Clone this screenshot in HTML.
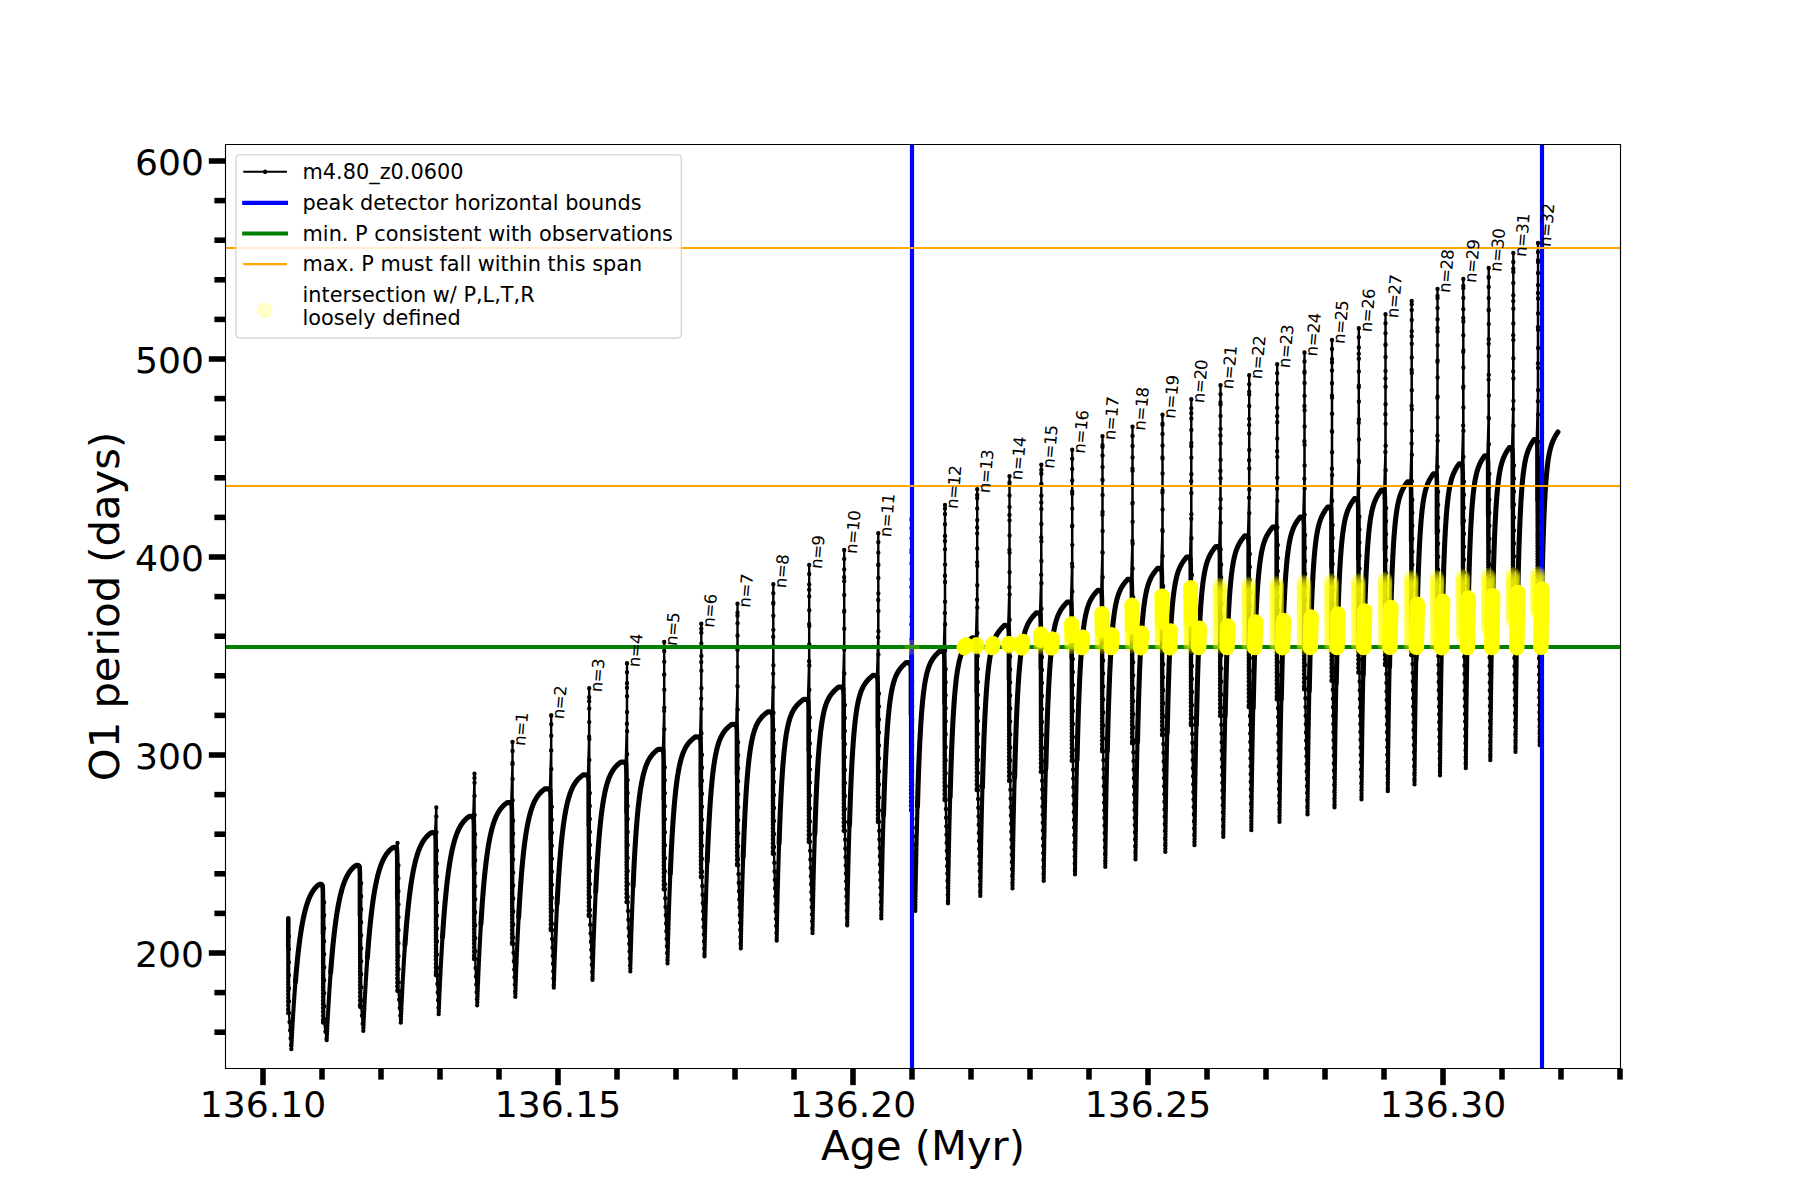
<!DOCTYPE html>
<html><head><meta charset="utf-8"><title>O1 period vs Age</title>
<style>html,body{margin:0;padding:0;background:#fff}svg{display:block}</style></head>
<body>
<svg width="1800" height="1200" viewBox="0 0 1296 864">
<defs>
<style type="text/css">*{stroke-linejoin: round; stroke-linecap: butt}</style>
</defs>
<g id="figure_1">
<g id="patch_1">
<path d="M 0 864 L 1296 864 L 1296 0 L 0 0 z
" style="fill: #ffffff"/>
</g>
<g id="axes_1">
<g id="patch_2">
<path d="M 162.36 769.32 L 1166.76 769.32 L 1166.76 104.04 L 162.36 104.04 z
" style="fill: #ffffff"/>
</g>
<g id="PathCollection_1"/>
<g id="matplotlib.axis_1">
<g id="xtick_1">
<g id="line2d_1">
<g>
<path d="M 0 0 L 0 12" transform="translate(189.36 769.32)" style="stroke: #000000; stroke-width: 4"/>
</g>
</g>
<g id="text_1">
<text style="font-size: 26px; font-family: 'DejaVu Sans', 'Liberation Sans', sans-serif; text-anchor: middle" x="189.36" y="804.575938" transform="rotate(-0 189.36 804.575938)">136.10</text>
</g>
</g>
<g id="xtick_2">
<g id="line2d_2">
<g>
<path d="M 0 0 L 0 12" transform="translate(401.76 769.32)" style="stroke: #000000; stroke-width: 4"/>
</g>
</g>
<g id="text_2">
<text style="font-size: 26px; font-family: 'DejaVu Sans', 'Liberation Sans', sans-serif; text-anchor: middle" x="401.76" y="804.575938" transform="rotate(-0 401.76 804.575938)">136.15</text>
</g>
</g>
<g id="xtick_3">
<g id="line2d_3">
<g>
<path d="M 0 0 L 0 12" transform="translate(614.16 769.32)" style="stroke: #000000; stroke-width: 4"/>
</g>
</g>
<g id="text_3">
<text style="font-size: 26px; font-family: 'DejaVu Sans', 'Liberation Sans', sans-serif; text-anchor: middle" x="614.16" y="804.575938" transform="rotate(-0 614.16 804.575938)">136.20</text>
</g>
</g>
<g id="xtick_4">
<g id="line2d_4">
<g>
<path d="M 0 0 L 0 12" transform="translate(826.56 769.32)" style="stroke: #000000; stroke-width: 4"/>
</g>
</g>
<g id="text_4">
<text style="font-size: 26px; font-family: 'DejaVu Sans', 'Liberation Sans', sans-serif; text-anchor: middle" x="826.56" y="804.575938" transform="rotate(-0 826.56 804.575938)">136.25</text>
</g>
</g>
<g id="xtick_5">
<g id="line2d_5">
<g>
<path d="M 0 0 L 0 12" transform="translate(1038.96 769.32)" style="stroke: #000000; stroke-width: 4"/>
</g>
</g>
<g id="text_5">
<text style="font-size: 26px; font-family: 'DejaVu Sans', 'Liberation Sans', sans-serif; text-anchor: middle" x="1038.96" y="804.575938" transform="rotate(-0 1038.96 804.575938)">136.30</text>
</g>
</g>
<g id="xtick_6">
<g id="line2d_6">
<g>
<path d="M 0 0 L 0 8" transform="translate(231.84 769.32)" style="stroke: #000000; stroke-width: 4"/>
</g>
</g>
</g>
<g id="xtick_7">
<g id="line2d_7">
<g>
<path d="M 0 0 L 0 8" transform="translate(274.32 769.32)" style="stroke: #000000; stroke-width: 4"/>
</g>
</g>
</g>
<g id="xtick_8">
<g id="line2d_8">
<g>
<path d="M 0 0 L 0 8" transform="translate(316.8 769.32)" style="stroke: #000000; stroke-width: 4"/>
</g>
</g>
</g>
<g id="xtick_9">
<g id="line2d_9">
<g>
<path d="M 0 0 L 0 8" transform="translate(359.28 769.32)" style="stroke: #000000; stroke-width: 4"/>
</g>
</g>
</g>
<g id="xtick_10">
<g id="line2d_10">
<g>
<path d="M 0 0 L 0 8" transform="translate(444.24 769.32)" style="stroke: #000000; stroke-width: 4"/>
</g>
</g>
</g>
<g id="xtick_11">
<g id="line2d_11">
<g>
<path d="M 0 0 L 0 8" transform="translate(486.72 769.32)" style="stroke: #000000; stroke-width: 4"/>
</g>
</g>
</g>
<g id="xtick_12">
<g id="line2d_12">
<g>
<path d="M 0 0 L 0 8" transform="translate(529.2 769.32)" style="stroke: #000000; stroke-width: 4"/>
</g>
</g>
</g>
<g id="xtick_13">
<g id="line2d_13">
<g>
<path d="M 0 0 L 0 8" transform="translate(571.68 769.32)" style="stroke: #000000; stroke-width: 4"/>
</g>
</g>
</g>
<g id="xtick_14">
<g id="line2d_14">
<g>
<path d="M 0 0 L 0 8" transform="translate(656.64 769.32)" style="stroke: #000000; stroke-width: 4"/>
</g>
</g>
</g>
<g id="xtick_15">
<g id="line2d_15">
<g>
<path d="M 0 0 L 0 8" transform="translate(699.12 769.32)" style="stroke: #000000; stroke-width: 4"/>
</g>
</g>
</g>
<g id="xtick_16">
<g id="line2d_16">
<g>
<path d="M 0 0 L 0 8" transform="translate(741.6 769.32)" style="stroke: #000000; stroke-width: 4"/>
</g>
</g>
</g>
<g id="xtick_17">
<g id="line2d_17">
<g>
<path d="M 0 0 L 0 8" transform="translate(784.08 769.32)" style="stroke: #000000; stroke-width: 4"/>
</g>
</g>
</g>
<g id="xtick_18">
<g id="line2d_18">
<g>
<path d="M 0 0 L 0 8" transform="translate(869.04 769.32)" style="stroke: #000000; stroke-width: 4"/>
</g>
</g>
</g>
<g id="xtick_19">
<g id="line2d_19">
<g>
<path d="M 0 0 L 0 8" transform="translate(911.52 769.32)" style="stroke: #000000; stroke-width: 4"/>
</g>
</g>
</g>
<g id="xtick_20">
<g id="line2d_20">
<g>
<path d="M 0 0 L 0 8" transform="translate(954 769.32)" style="stroke: #000000; stroke-width: 4"/>
</g>
</g>
</g>
<g id="xtick_21">
<g id="line2d_21">
<g>
<path d="M 0 0 L 0 8" transform="translate(996.48 769.32)" style="stroke: #000000; stroke-width: 4"/>
</g>
</g>
</g>
<g id="xtick_22">
<g id="line2d_22">
<g>
<path d="M 0 0 L 0 8" transform="translate(1081.44 769.32)" style="stroke: #000000; stroke-width: 4"/>
</g>
</g>
</g>
<g id="xtick_23">
<g id="line2d_23">
<g>
<path d="M 0 0 L 0 8" transform="translate(1123.92 769.32)" style="stroke: #000000; stroke-width: 4"/>
</g>
</g>
</g>
<g id="xtick_24">
<g id="line2d_24">
<g>
<path d="M 0 0 L 0 8" transform="translate(1166.4 769.32)" style="stroke: #000000; stroke-width: 4"/>
</g>
</g>
</g>
<g id="text_6">
<text style="font-size: 30px; font-family: 'DejaVu Sans', 'Liberation Sans', sans-serif; text-anchor: middle" x="664.56" y="835.278437" transform="rotate(-0 664.56 835.278437)">Age (Myr)</text>
</g>
</g>
<g id="matplotlib.axis_2">
<g id="ytick_1">
<g id="line2d_25">
<g>
<path d="M 0 0 L -12 0" transform="translate(162.36 686.16)" style="stroke: #000000; stroke-width: 4"/>
</g>
</g>
<g id="text_7">
<text style="font-size: 26px; font-family: 'DejaVu Sans', 'Liberation Sans', sans-serif; text-anchor: end" x="146.86" y="696.037969" transform="rotate(-0 146.86 696.037969)">200</text>
</g>
</g>
<g id="ytick_2">
<g id="line2d_26">
<g>
<path d="M 0 0 L -12 0" transform="translate(162.36 543.6)" style="stroke: #000000; stroke-width: 4"/>
</g>
</g>
<g id="text_8">
<text style="font-size: 26px; font-family: 'DejaVu Sans', 'Liberation Sans', sans-serif; text-anchor: end" x="146.86" y="553.477969" transform="rotate(-0 146.86 553.477969)">300</text>
</g>
</g>
<g id="ytick_3">
<g id="line2d_27">
<g>
<path d="M 0 0 L -12 0" transform="translate(162.36 401.04)" style="stroke: #000000; stroke-width: 4"/>
</g>
</g>
<g id="text_9">
<text style="font-size: 26px; font-family: 'DejaVu Sans', 'Liberation Sans', sans-serif; text-anchor: end" x="146.86" y="410.917969" transform="rotate(-0 146.86 410.917969)">400</text>
</g>
</g>
<g id="ytick_4">
<g id="line2d_28">
<g>
<path d="M 0 0 L -12 0" transform="translate(162.36 258.48)" style="stroke: #000000; stroke-width: 4"/>
</g>
</g>
<g id="text_10">
<text style="font-size: 26px; font-family: 'DejaVu Sans', 'Liberation Sans', sans-serif; text-anchor: end" x="146.86" y="268.357969" transform="rotate(-0 146.86 268.357969)">500</text>
</g>
</g>
<g id="ytick_5">
<g id="line2d_29">
<g>
<path d="M 0 0 L -12 0" transform="translate(162.36 115.92)" style="stroke: #000000; stroke-width: 4"/>
</g>
</g>
<g id="text_11">
<text style="font-size: 26px; font-family: 'DejaVu Sans', 'Liberation Sans', sans-serif; text-anchor: end" x="146.86" y="125.797969" transform="rotate(-0 146.86 125.797969)">600</text>
</g>
</g>
<g id="ytick_6">
<g id="line2d_30">
<g>
<path d="M 0 0 L -8 0" transform="translate(162.36 743.184)" style="stroke: #000000; stroke-width: 4"/>
</g>
</g>
</g>
<g id="ytick_7">
<g id="line2d_31">
<g>
<path d="M 0 0 L -8 0" transform="translate(162.36 714.672)" style="stroke: #000000; stroke-width: 4"/>
</g>
</g>
</g>
<g id="ytick_8">
<g id="line2d_32">
<g>
<path d="M 0 0 L -8 0" transform="translate(162.36 657.648)" style="stroke: #000000; stroke-width: 4"/>
</g>
</g>
</g>
<g id="ytick_9">
<g id="line2d_33">
<g>
<path d="M 0 0 L -8 0" transform="translate(162.36 629.136)" style="stroke: #000000; stroke-width: 4"/>
</g>
</g>
</g>
<g id="ytick_10">
<g id="line2d_34">
<g>
<path d="M 0 0 L -8 0" transform="translate(162.36 600.624)" style="stroke: #000000; stroke-width: 4"/>
</g>
</g>
</g>
<g id="ytick_11">
<g id="line2d_35">
<g>
<path d="M 0 0 L -8 0" transform="translate(162.36 572.112)" style="stroke: #000000; stroke-width: 4"/>
</g>
</g>
</g>
<g id="ytick_12">
<g id="line2d_36">
<g>
<path d="M 0 0 L -8 0" transform="translate(162.36 515.088)" style="stroke: #000000; stroke-width: 4"/>
</g>
</g>
</g>
<g id="ytick_13">
<g id="line2d_37">
<g>
<path d="M 0 0 L -8 0" transform="translate(162.36 486.576)" style="stroke: #000000; stroke-width: 4"/>
</g>
</g>
</g>
<g id="ytick_14">
<g id="line2d_38">
<g>
<path d="M 0 0 L -8 0" transform="translate(162.36 458.064)" style="stroke: #000000; stroke-width: 4"/>
</g>
</g>
</g>
<g id="ytick_15">
<g id="line2d_39">
<g>
<path d="M 0 0 L -8 0" transform="translate(162.36 429.552)" style="stroke: #000000; stroke-width: 4"/>
</g>
</g>
</g>
<g id="ytick_16">
<g id="line2d_40">
<g>
<path d="M 0 0 L -8 0" transform="translate(162.36 372.528)" style="stroke: #000000; stroke-width: 4"/>
</g>
</g>
</g>
<g id="ytick_17">
<g id="line2d_41">
<g>
<path d="M 0 0 L -8 0" transform="translate(162.36 344.016)" style="stroke: #000000; stroke-width: 4"/>
</g>
</g>
</g>
<g id="ytick_18">
<g id="line2d_42">
<g>
<path d="M 0 0 L -8 0" transform="translate(162.36 315.504)" style="stroke: #000000; stroke-width: 4"/>
</g>
</g>
</g>
<g id="ytick_19">
<g id="line2d_43">
<g>
<path d="M 0 0 L -8 0" transform="translate(162.36 286.992)" style="stroke: #000000; stroke-width: 4"/>
</g>
</g>
</g>
<g id="ytick_20">
<g id="line2d_44">
<g>
<path d="M 0 0 L -8 0" transform="translate(162.36 229.968)" style="stroke: #000000; stroke-width: 4"/>
</g>
</g>
</g>
<g id="ytick_21">
<g id="line2d_45">
<g>
<path d="M 0 0 L -8 0" transform="translate(162.36 201.456)" style="stroke: #000000; stroke-width: 4"/>
</g>
</g>
</g>
<g id="ytick_22">
<g id="line2d_46">
<g>
<path d="M 0 0 L -8 0" transform="translate(162.36 172.944)" style="stroke: #000000; stroke-width: 4"/>
</g>
</g>
</g>
<g id="ytick_23">
<g id="line2d_47">
<g>
<path d="M 0 0 L -8 0" transform="translate(162.36 144.432)" style="stroke: #000000; stroke-width: 4"/>
</g>
</g>
</g>
<g id="text_12">
<text style="font-size: 30px; font-family: 'DejaVu Sans', 'Liberation Sans', sans-serif; text-anchor: middle" x="85.493437" y="436.68" transform="rotate(-90 85.493437 436.68)">O1 period (days)</text>
</g>
</g>
<g id="curve" clip-path="url(#p3a280d8517)" fill="none" stroke="#000" stroke-linejoin="round">
<path d="M207.58 661.18 L207.43 729.36 L208.01 674.14 L208.02 683.5 L208.03 692.86 L208.04 702.22 L208.06 711.58 L208.07 720.94 L208.08 729.36 L208.49 735.83 L208.88 741.85 L209.24 747.45 L209.57 752.66 L209.74 755.28 L209.77 754.68 L209.82 753.47 L209.9 751.85 L210 749.88 L210.12 747.64 L210.25 745.16 L210.39 742.49 L210.55 739.64 L210.72 736.66 L210.9 733.56 L211.09 730.37 L211.29 727.11 L211.5 723.8 L211.72 720.46 L211.95 717.1 L212.2 713.74 L212.45 710.39 L212.71 707.07 L212.97 703.79 L213.25 700.55 L213.54 697.36 L213.83 694.24 L214.13 691.19 L214.44 688.22 L214.76 685.33 L215.09 682.52 L215.42 679.8 L215.76 677.17 L216.11 674.64 L216.46 672.2 L216.82 669.86 L217.19 667.62 L217.57 665.47 L217.95 663.41 L218.34 661.46 L218.74 659.59 L219.14 657.82 L219.55 656.13 L219.97 654.54 L220.39 653.03 L220.82 651.6 L221.26 650.26 L221.7 648.99 L222.15 647.8 L222.6 646.67 L223.06 645.62 L223.53 644.64 L224 643.71 L224.48 642.85 L224.97 642.04 L225.46 641.29 L225.95 640.59 L226.46 639.94 L226.96 639.33 L227.48 638.77 L228 638.25 L228.52 637.77 L229.05 637.32 L229.59 636.91 L230.59 636.62 L231.45 636.84 L231.77 637.27 L231.98 637.49 L232.31 638.78 L232.45 641.3 L232.52 644.54 L232.56 736.2 L233.35 649.58 L233.36 658.94 L233.37 668.3 L233.38 677.66 L233.38 687.02 L233.39 696.38 L233.4 705.74 L233.41 715.1 L233.41 724.46 L233.42 733.82 L233.42 736.2 L234.34 742.61 L235.13 748.12 L235.22 748.8 L235.25 748.14 L235.32 746.82 L235.4 745.04 L235.5 742.9 L235.63 740.45 L235.76 737.75 L235.91 734.83 L236.08 731.73 L236.25 728.48 L236.44 725.11 L236.64 721.65 L236.85 718.12 L237.08 714.53 L237.31 710.92 L237.55 707.3 L237.81 703.68 L238.07 700.08 L238.34 696.51 L238.62 692.99 L238.91 689.52 L239.21 686.12 L239.52 682.8 L239.84 679.55 L240.16 676.39 L240.5 673.33 L240.84 670.36 L241.19 667.49 L241.55 664.72 L241.91 662.06 L242.28 659.5 L242.66 657.05 L243.05 654.71 L243.45 652.47 L243.85 650.33 L244.26 648.3 L244.67 646.37 L245.1 644.54 L245.53 642.8 L245.97 641.16 L246.41 639.61 L246.86 638.15 L247.32 636.77 L247.78 635.47 L248.25 634.26 L248.73 633.12 L249.21 632.05 L249.7 631.05 L250.2 630.11 L250.7 629.24 L251.21 628.42 L251.72 627.66 L252.24 626.95 L252.77 626.3 L253.3 625.69 L253.84 625.12 L254.39 624.59 L254.94 624.1 L255.49 623.65 L256.05 623.23 L257.11 622.94 L258.02 623.16 L258.41 623.59 L258.62 623.81 L258.95 625.1 L259.09 627.62 L259.16 630.86 L259.2 724.82 L259.99 635.9 L260 645.26 L260.01 654.62 L260.01 663.98 L260.02 673.34 L260.03 682.7 L260.04 692.06 L260.05 701.42 L260.05 710.78 L260.06 720.14 L260.06 724.82 L260.63 731.28 L261.13 737.07 L261.58 742.18 L261.61 741.46 L261.67 740.03 L261.76 738.1 L261.86 735.77 L261.99 733.12 L262.13 730.19 L262.28 727.03 L262.45 723.68 L262.63 720.18 L262.82 716.55 L263.03 712.82 L263.24 709.03 L263.47 705.18 L263.71 701.31 L263.96 697.44 L264.22 693.58 L264.49 689.74 L264.76 685.95 L265.05 682.21 L265.35 678.53 L265.66 674.94 L265.97 671.43 L266.3 668.01 L266.63 664.69 L266.97 661.48 L267.32 658.37 L267.68 655.37 L268.04 652.49 L268.41 649.73 L268.8 647.07 L269.18 644.54 L269.58 642.12 L269.99 639.81 L270.4 637.62 L270.82 635.54 L271.24 633.56 L271.67 631.7 L272.11 629.93 L272.56 628.26 L273.02 626.69 L273.48 625.21 L273.95 623.82 L274.42 622.52 L274.9 621.3 L275.39 620.15 L275.88 619.08 L276.38 618.08 L276.89 617.14 L277.41 616.27 L277.93 615.46 L278.45 614.7 L278.98 613.99 L279.52 613.34 L280.07 612.73 L280.62 612.16 L281.18 611.64 L281.74 611.15 L282.31 610.69 L282.88 610.27 L283.94 609.98 L284.86 610.2 L285.26 610.63 L285.48 610.85 L286.2 606.96 L286.42 611.42 L285.48 610.85 L285.8 612.14 L285.95 614.66 L286.02 617.9 L286.06 713.38 L286.85 622.94 L286.86 632.3 L286.86 641.66 L286.87 651.02 L286.88 660.38 L286.89 669.74 L286.89 679.1 L286.9 688.46 L286.91 697.82 L286.92 707.18 L286.92 713.38 L287.39 719.84 L287.82 725.79 L288.22 731.28 L288.58 736.2 L288.61 735.44 L288.67 733.89 L288.76 731.82 L288.87 729.33 L289 726.49 L289.14 723.35 L289.3 719.98 L289.47 716.41 L289.66 712.67 L289.85 708.81 L290.07 704.85 L290.29 700.82 L290.52 696.75 L290.77 692.65 L291.02 688.56 L291.29 684.49 L291.57 680.46 L291.85 676.48 L292.15 672.56 L292.45 668.73 L292.77 664.98 L293.09 661.33 L293.42 657.78 L293.77 654.34 L294.12 651.02 L294.48 647.82 L294.84 644.74 L295.22 641.79 L295.6 638.96 L295.99 636.25 L296.39 633.67 L296.8 631.22 L297.22 628.88 L297.64 626.67 L298.07 624.57 L298.51 622.59 L298.95 620.71 L299.4 618.95 L299.86 617.29 L300.33 615.72 L300.8 614.26 L301.28 612.88 L301.77 611.59 L302.26 610.38 L302.77 609.25 L303.27 608.2 L303.79 607.21 L304.31 606.3 L304.84 605.44 L305.37 604.64 L305.91 603.9 L306.46 603.21 L307.01 602.57 L307.57 601.97 L308.14 601.41 L308.71 600.89 L309.29 600.41 L309.87 599.96 L310.46 599.54 L311.57 599.33 L312.52 599.49 L312.98 599.87 L313.2 600.19 L314.14 581.4 L314.17 587.88 L314.23 599.24 L314.24 601.49 L313.2 600.19 L313.52 601.49 L313.67 604.01 L313.74 607.25 L313.78 702 L314.57 612.29 L314.58 621.65 L314.58 631.01 L314.59 640.37 L314.6 649.73 L314.61 659.09 L314.61 668.45 L314.62 677.81 L314.63 687.17 L314.64 696.53 L314.64 702 L314.92 708.47 L315.19 714.53 L315.43 720.2 L315.66 725.51 L315.86 730.08 L315.9 729.25 L315.96 727.59 L316.05 725.35 L316.16 722.66 L316.29 719.59 L316.43 716.21 L316.59 712.58 L316.76 708.74 L316.95 704.73 L317.15 700.59 L317.36 696.36 L317.59 692.06 L317.82 687.72 L318.07 683.36 L318.33 679.02 L318.59 674.71 L318.87 670.45 L319.16 666.25 L319.46 662.13 L319.77 658.1 L320.08 654.18 L320.41 650.36 L320.74 646.67 L321.09 643.1 L321.44 639.65 L321.8 636.34 L322.17 633.17 L322.55 630.13 L322.94 627.23 L323.33 624.47 L323.73 621.84 L324.14 619.34 L324.56 616.98 L324.99 614.74 L325.42 612.62 L325.86 610.63 L326.31 608.75 L326.76 606.98 L327.22 605.32 L327.69 603.77 L328.17 602.31 L328.65 600.95 L329.15 599.67 L329.64 598.48 L330.15 597.37 L330.66 596.33 L331.18 595.36 L331.7 594.46 L332.23 593.62 L332.77 592.84 L333.31 592.11 L333.86 591.43 L334.42 590.8 L334.99 590.21 L335.56 589.66 L336.13 589.15 L336.71 588.67 L337.3 588.23 L337.9 587.81 L339.02 587.66 L339.99 587.77 L340.49 588.1 L340.7 588.53 L341.63 560.16 L341.64 557.06 L341.66 563.54 L341.69 573.01 L341.74 586.86 L341.75 589.82 L340.7 588.53 L341.03 589.82 L341.17 592.34 L341.24 595.58 L341.28 690.48 L342.07 600.62 L342.08 609.98 L342.09 619.34 L342.09 628.7 L342.1 638.06 L342.11 647.42 L342.12 656.78 L342.12 666.14 L342.13 675.5 L342.14 684.86 L342.14 690.48 L342.42 696.95 L342.69 703.08 L342.94 708.87 L343.18 714.35 L343.4 719.54 L343.58 723.82 L343.62 722.93 L343.68 721.15 L343.77 718.76 L343.88 715.89 L344 712.62 L344.14 709.03 L344.3 705.17 L344.47 701.1 L344.65 696.85 L344.85 692.47 L345.05 688 L345.27 683.47 L345.5 678.91 L345.75 674.34 L346 669.8 L346.26 665.29 L346.53 660.85 L346.82 656.49 L347.11 652.22 L347.41 648.06 L347.72 644.01 L348.04 640.09 L348.37 636.3 L348.71 632.65 L349.05 629.14 L349.41 625.78 L349.77 622.57 L350.14 619.5 L350.52 616.58 L350.9 613.8 L351.3 611.17 L351.7 608.68 L352.11 606.32 L352.53 604.1 L352.95 602.01 L353.38 600.04 L353.82 598.2 L354.27 596.46 L354.72 594.84 L355.18 593.32 L355.65 591.91 L356.12 590.58 L356.6 589.34 L357.09 588.19 L357.59 587.12 L358.09 586.12 L358.6 585.19 L359.11 584.32 L359.63 583.51 L360.16 582.76 L360.69 582.06 L361.23 581.4 L361.78 580.79 L362.33 580.22 L362.89 579.69 L363.45 579.19 L364.02 578.72 L364.6 578.29 L365.18 577.87 L366.33 577.8 L367.32 577.85 L367.85 578.12 L368.06 578.66 L368.96 550.3 L369 534.24 L369.02 540.72 L369.04 549.34 L369.06 560.82 L369.1 576.09 L369.11 579.96 L368.06 578.66 L368.39 579.96 L368.53 582.48 L368.6 585.72 L368.64 679.46 L369.43 590.76 L369.44 600.12 L369.45 609.48 L369.45 618.84 L369.46 628.2 L369.47 637.56 L369.48 646.92 L369.49 656.28 L369.49 665.64 L369.5 675 L369.5 679.46 L369.76 685.94 L370.01 692.11 L370.24 697.99 L370.46 703.59 L370.67 708.93 L370.87 714.01 L371.02 717.62 L371.05 716.68 L371.11 714.77 L371.2 712.21 L371.31 709.13 L371.43 705.64 L371.57 701.81 L371.73 697.7 L371.9 693.36 L372.08 688.85 L372.27 684.21 L372.48 679.48 L372.7 674.7 L372.93 669.9 L373.17 665.1 L373.42 660.34 L373.68 655.64 L373.96 651.01 L374.24 646.47 L374.53 642.05 L374.83 637.75 L375.14 633.58 L375.46 629.55 L375.78 625.68 L376.12 621.95 L376.47 618.38 L376.82 614.98 L377.18 611.73 L377.55 608.64 L377.93 605.7 L378.31 602.93 L378.7 600.3 L379.1 597.83 L379.51 595.5 L379.93 593.3 L380.35 591.25 L380.78 589.32 L381.22 587.51 L381.66 585.82 L382.12 584.25 L382.58 582.77 L383.04 581.4 L383.51 580.12 L383.99 578.93 L384.48 577.82 L384.97 576.79 L385.47 575.83 L385.98 574.94 L386.49 574.11 L387.01 573.33 L387.54 572.61 L388.07 571.94 L388.61 571.31 L389.15 570.72 L389.7 570.17 L390.26 569.65 L390.82 569.17 L391.39 568.71 L391.96 568.27 L392.54 567.86 L395.71 567.97 L395.93 568.73 L396.81 540.36 L396.86 515.39 L396.86 515.02 L396.88 521.5 L396.89 529.76 L396.91 540.29 L396.94 553.72 L396.97 570.02 L395.93 568.73 L396.25 570.02 L396.4 572.54 L396.47 575.78 L396.5 669.6 L397.3 580.82 L397.3 590.18 L397.31 599.54 L397.32 608.9 L397.33 618.26 L397.33 627.62 L397.34 636.98 L397.35 646.34 L397.36 655.7 L397.36 665.06 L397.37 669.6 L397.58 676.08 L397.79 682.27 L397.98 688.2 L398.17 693.87 L398.35 699.29 L398.52 704.47 L398.68 709.44 L398.74 711 L398.77 709.99 L398.83 707.97 L398.92 705.26 L399.02 702.01 L399.14 698.32 L399.28 694.27 L399.43 689.94 L399.6 685.37 L399.78 680.63 L399.97 675.76 L400.18 670.81 L400.39 665.81 L400.62 660.79 L400.85 655.8 L401.1 650.85 L401.36 645.97 L401.63 641.18 L401.9 636.5 L402.19 631.94 L402.49 627.52 L402.79 623.25 L403.1 619.13 L403.43 615.18 L403.76 611.39 L404.09 607.77 L404.44 604.33 L404.8 601.05 L405.16 597.94 L405.53 595 L405.91 592.22 L406.3 589.61 L406.69 587.15 L407.09 584.84 L407.5 582.67 L407.92 580.64 L408.34 578.74 L408.77 576.97 L409.21 575.32 L409.65 573.78 L410.1 572.35 L410.56 571.02 L411.02 569.78 L411.5 568.63 L411.97 567.56 L412.46 566.56 L412.95 565.64 L413.45 564.78 L413.95 563.98 L414.46 563.23 L414.98 562.54 L415.5 561.89 L416.03 561.28 L416.57 560.71 L417.11 560.18 L417.65 559.68 L418.21 559.2 L418.77 558.76 L419.33 558.33 L419.9 557.93 L423.07 558.04 L423.29 558.79 L424.16 530.42 L424.21 504.88 L424.22 495.58 L424.23 502.06 L424.25 510.05 L424.26 519.93 L424.29 532.12 L424.31 547.16 L424.33 560.09 L423.29 558.79 L423.61 560.09 L423.76 562.61 L423.83 565.85 L423.86 659.38 L424.66 570.89 L424.66 580.25 L424.67 589.61 L424.68 598.97 L424.69 608.33 L424.69 617.69 L424.7 627.05 L424.71 636.41 L424.72 645.77 L424.72 655.13 L424.73 659.38 L424.99 665.85 L425.24 672.07 L425.49 678.05 L425.72 683.8 L425.95 689.32 L426.16 694.62 L426.37 699.72 L426.57 704.61 L426.6 705.38 L426.63 704.31 L426.69 702.16 L426.77 699.28 L426.88 695.83 L427 691.92 L427.13 687.63 L427.28 683.04 L427.44 678.22 L427.61 673.22 L427.8 668.1 L428 662.89 L428.21 657.65 L428.43 652.4 L428.66 647.19 L428.9 642.03 L429.15 636.96 L429.41 631.99 L429.67 627.15 L429.95 622.45 L430.24 617.91 L430.53 613.52 L430.84 609.31 L431.15 605.28 L431.47 601.43 L431.8 597.76 L432.14 594.28 L432.48 590.97 L432.83 587.85 L433.19 584.91 L433.56 582.13 L433.94 579.53 L434.32 577.09 L434.71 574.8 L435.1 572.66 L435.51 570.67 L435.92 568.81 L436.34 567.08 L436.76 565.47 L437.19 563.97 L437.63 562.58 L438.07 561.29 L438.53 560.09 L438.98 558.98 L439.45 557.95 L439.92 556.99 L440.39 556.1 L440.88 555.28 L441.37 554.51 L441.86 553.79 L442.36 553.12 L442.87 552.5 L443.38 551.91 L443.9 551.36 L444.43 550.85 L444.96 550.36 L445.5 549.9 L446.04 549.46 L446.59 549.04 L447.14 548.64 L450.29 548.75 L450.5 549.5 L451.37 521.14 L451.41 495.2 L451.44 477.58 L451.45 484.06 L451.46 491.87 L451.48 501.31 L451.49 512.69 L451.51 526.42 L451.54 542.98 L451.55 550.8 L450.5 549.5 L450.83 550.8 L450.97 553.32 L451.04 556.56 L451.08 649.44 L451.87 561.6 L451.88 570.96 L451.89 580.32 L451.9 589.68 L451.9 599.04 L451.91 608.4 L451.92 617.76 L451.93 627.12 L451.93 636.48 L451.94 645.84 L451.94 649.44 L452.19 655.92 L452.42 662.16 L452.65 668.17 L452.86 673.97 L453.07 679.57 L453.28 684.95 L453.47 690.15 L453.66 695.16 L453.82 699.34 L453.85 698.2 L453.91 695.92 L453.99 692.86 L454.09 689.2 L454.2 685.06 L454.34 680.52 L454.48 675.68 L454.64 670.6 L454.81 665.34 L455 659.96 L455.19 654.51 L455.39 649.02 L455.61 643.55 L455.84 638.12 L456.07 632.77 L456.32 627.52 L456.57 622.39 L456.84 617.41 L457.11 612.58 L457.39 607.93 L457.68 603.46 L457.98 599.17 L458.29 595.08 L458.6 591.19 L458.92 587.49 L459.25 583.99 L459.59 580.69 L459.94 577.57 L460.29 574.64 L460.65 571.9 L461.02 569.32 L461.4 566.92 L461.78 564.67 L462.17 562.58 L462.57 560.64 L462.97 558.83 L463.38 557.15 L463.8 555.59 L464.22 554.15 L464.65 552.81 L465.09 551.58 L465.53 550.43 L465.98 549.37 L466.44 548.38 L466.9 547.47 L467.37 546.62 L467.84 545.83 L468.32 545.1 L468.81 544.42 L469.3 543.78 L469.8 543.18 L470.3 542.62 L470.81 542.09 L471.33 541.59 L471.85 541.11 L472.38 540.66 L472.91 540.23 L473.45 539.82 L473.99 539.42 L477.07 539.53 L477.29 540.29 L478.16 511.92 L478.19 485.76 L478.22 462.24 L478.23 468.72 L478.24 476.43 L478.26 485.62 L478.27 496.56 L478.29 509.57 L478.31 525.07 L478.33 541.58 L477.29 540.29 L477.61 541.58 L477.76 544.1 L477.83 547.34 L477.86 640.22 L478.66 552.38 L478.66 561.74 L478.67 571.1 L478.68 580.46 L478.69 589.82 L478.69 599.18 L478.7 608.54 L478.71 617.9 L478.72 627.26 L478.73 636.62 L478.73 640.22 L478.96 646.7 L479.17 652.96 L479.39 659 L479.59 664.85 L479.79 670.49 L479.98 675.95 L480.17 681.22 L480.35 686.31 L480.52 691.24 L480.6 693.58 L480.63 692.37 L480.69 689.94 L480.77 686.69 L480.87 682.8 L480.99 678.41 L481.12 673.61 L481.26 668.49 L481.42 663.13 L481.59 657.59 L481.78 651.94 L481.97 646.22 L482.17 640.48 L482.39 634.78 L482.61 629.13 L482.85 623.57 L483.09 618.14 L483.35 612.85 L483.61 607.73 L483.88 602.78 L484.16 598.03 L484.45 593.47 L484.75 589.12 L485.06 584.99 L485.37 581.06 L485.69 577.35 L486.02 573.84 L486.36 570.55 L486.7 567.45 L487.06 564.55 L487.42 561.84 L487.78 559.31 L488.16 556.96 L488.54 554.77 L488.93 552.73 L489.32 550.85 L489.73 549.1 L490.14 547.48 L490.55 545.99 L490.97 544.61 L491.4 543.33 L491.84 542.15 L492.28 541.05 L492.73 540.04 L493.18 539.11 L493.64 538.24 L494.11 537.44 L494.58 536.69 L495.06 535.99 L495.55 535.34 L496.04 534.73 L496.53 534.16 L497.04 533.62 L497.55 533.11 L498.06 532.62 L498.58 532.16 L499.11 531.72 L499.64 531.3 L500.18 530.89 L500.72 530.5 L503.78 530.6 L504 531.36 L504.87 502.99 L504.9 476.7 L504.93 452.69 L504.94 449.06 L504.94 455.54 L504.95 463.2 L504.97 472.23 L504.98 482.9 L505 495.5 L505.02 510.38 L505.04 527.95 L505.04 532.66 L504 531.36 L504.32 532.66 L504.47 535.18 L504.54 538.42 L504.58 631.44 L505.37 543.46 L505.38 552.82 L505.38 562.18 L505.39 571.54 L505.4 580.9 L505.41 590.26 L505.41 599.62 L505.42 608.98 L505.43 618.34 L505.44 627.7 L505.44 631.44 L505.64 637.92 L505.84 644.19 L506.03 650.26 L506.22 656.15 L506.4 661.85 L506.57 667.37 L506.74 672.71 L506.9 677.89 L507.06 682.9 L507.22 687.75 L507.24 688.54 L507.27 687.24 L507.33 684.64 L507.41 681.16 L507.5 677 L507.62 672.31 L507.75 667.2 L507.89 661.75 L508.04 656.06 L508.21 650.2 L508.39 644.22 L508.58 638.2 L508.78 632.17 L508.99 626.19 L509.21 620.28 L509.44 614.5 L509.67 608.86 L509.92 603.38 L510.18 598.09 L510.45 593.01 L510.72 588.13 L511 583.48 L511.29 579.06 L511.59 574.87 L511.9 570.91 L512.21 567.17 L512.53 563.66 L512.86 560.38 L513.2 557.3 L513.55 554.43 L513.9 551.76 L514.26 549.28 L514.62 546.97 L514.99 544.84 L515.37 542.86 L515.76 541.04 L516.15 539.36 L516.55 537.8 L516.96 536.37 L517.37 535.05 L517.79 533.83 L518.21 532.7 L518.64 531.66 L519.08 530.7 L519.53 529.82 L519.98 528.99 L520.43 528.23 L520.89 527.52 L521.36 526.85 L521.83 526.23 L522.31 525.65 L522.8 525.1 L523.29 524.57 L523.79 524.08 L524.29 523.61 L524.8 523.15 L525.31 522.72 L525.83 522.3 L526.35 521.89 L526.88 521.5 L529.85 521.6 L530.06 522.36 L530.93 493.99 L530.96 467.54 L530.99 443.26 L531 434.66 L531.01 441.14 L531.02 448.72 L531.03 457.59 L531.04 467.97 L531.06 480.11 L531.07 494.31 L531.09 510.92 L531.11 523.66 L530.06 522.36 L530.39 523.66 L530.53 526.18 L530.6 529.42 L530.64 622.8 L531.43 534.46 L531.44 543.82 L531.45 553.18 L531.45 562.54 L531.46 571.9 L531.47 581.26 L531.48 590.62 L531.49 599.98 L531.49 609.34 L531.5 618.7 L531.5 622.8 L531.71 629.28 L531.9 635.56 L532.09 641.65 L532.28 647.56 L532.46 653.3 L532.63 658.86 L532.8 664.26 L532.96 669.49 L533.12 674.57 L533.27 679.49 L533.38 682.78 L533.4 681.39 L533.46 678.61 L533.54 674.89 L533.64 670.47 L533.75 665.47 L533.87 660.04 L534.01 654.27 L534.17 648.25 L534.33 642.06 L534.51 635.77 L534.69 629.45 L534.89 623.14 L535.09 616.9 L535.31 610.76 L535.54 604.76 L535.77 598.94 L536.02 593.3 L536.27 587.88 L536.53 582.69 L536.8 577.73 L537.08 573.02 L537.36 568.56 L537.66 564.35 L537.96 560.39 L538.27 556.67 L538.59 553.19 L538.91 549.94 L539.24 546.92 L539.58 544.11 L539.93 541.51 L540.28 539.1 L540.64 536.87 L541.01 534.82 L541.38 532.92 L541.76 531.18 L542.15 529.58 L542.54 528.1 L542.94 526.75 L543.34 525.5 L543.76 524.35 L544.17 523.29 L544.6 522.32 L545.03 521.41 L545.47 520.58 L545.91 519.81 L546.36 519.09 L546.81 518.41 L547.27 517.78 L547.74 517.19 L548.21 516.64 L548.69 516.11 L549.17 515.61 L549.66 515.13 L550.15 514.66 L550.65 514.22 L551.16 513.79 L551.67 513.37 L552.18 512.97 L552.71 512.57 L555.62 512.68 L555.84 513.43 L556.7 485.06 L556.73 458.49 L556.76 433.96 L556.78 420.62 L556.78 427.1 L556.79 434.63 L556.8 443.35 L556.81 453.49 L556.83 465.25 L556.84 478.9 L556.86 494.74 L556.88 513.13 L556.88 514.73 L555.84 513.43 L556.16 514.73 L556.31 517.25 L556.38 520.49 L556.42 614.66 L557.21 525.53 L557.22 534.89 L557.22 544.25 L557.23 553.61 L557.24 562.97 L557.25 572.33 L557.25 581.69 L557.26 591.05 L557.27 600.41 L557.28 609.77 L557.28 614.66 L557.48 621.14 L557.68 627.43 L557.87 633.54 L558.05 639.47 L558.23 645.24 L558.41 650.83 L558.57 656.27 L558.74 661.55 L558.9 666.68 L559.05 671.65 L559.2 676.49 L559.22 677.16 L559.25 675.67 L559.31 672.69 L559.39 668.71 L559.48 663.97 L559.6 658.64 L559.72 652.85 L559.86 646.71 L560.01 640.32 L560.18 633.78 L560.35 627.15 L560.54 620.5 L560.74 613.89 L560.94 607.37 L561.16 600.98 L561.38 594.77 L561.62 588.75 L561.86 582.96 L562.12 577.41 L562.38 572.11 L562.65 567.08 L562.92 562.32 L563.21 557.83 L563.5 553.61 L563.8 549.66 L564.11 545.98 L564.43 542.54 L564.75 539.35 L565.09 536.4 L565.42 533.66 L565.77 531.14 L566.12 528.82 L566.48 526.68 L566.85 524.72 L567.22 522.92 L567.6 521.26 L567.99 519.75 L568.38 518.36 L568.78 517.08 L569.19 515.91 L569.6 514.84 L570.02 513.85 L570.44 512.94 L570.87 512.09 L571.31 511.31 L571.75 510.59 L572.2 509.91 L572.65 509.28 L573.11 508.68 L573.58 508.12 L574.05 507.58 L574.53 507.08 L575.01 506.59 L575.5 506.12 L575.99 505.67 L576.49 505.23 L577 504.8 L577.51 504.38 L578.02 503.97 L578.54 503.57 L581.47 503.68 L581.69 504.43 L582.55 476.06 L582.58 449.38 L582.6 424.65 L582.62 406.8 L582.63 413.28 L582.64 420.75 L582.65 429.36 L582.66 439.29 L582.67 450.74 L582.69 463.93 L582.7 479.14 L582.72 496.68 L582.73 505.73 L581.69 504.43 L582.01 505.73 L582.16 508.25 L582.23 511.49 L582.26 606.02 L583.06 516.53 L583.06 525.89 L583.07 535.25 L583.08 544.61 L583.09 553.97 L583.09 563.33 L583.1 572.69 L583.11 582.05 L583.12 591.41 L583.12 600.77 L583.13 606.02 L583.31 612.5 L583.49 618.8 L583.67 624.93 L583.84 630.89 L584 636.69 L584.16 642.32 L584.32 647.81 L584.47 653.14 L584.62 658.33 L584.76 663.37 L584.9 668.28 L585 671.76 L585.03 670.24 L585.08 667.2 L585.16 663.14 L585.25 658.3 L585.36 652.86 L585.49 646.95 L585.62 640.69 L585.77 634.17 L585.93 627.49 L586.1 620.73 L586.28 613.94 L586.47 607.2 L586.68 600.55 L586.89 594.03 L587.11 587.69 L587.34 581.55 L587.57 575.64 L587.82 569.98 L588.07 564.58 L588.34 559.44 L588.61 554.59 L588.89 550.01 L589.17 545.7 L589.47 541.67 L589.77 537.91 L590.08 534.41 L590.4 531.15 L590.72 528.14 L591.05 525.35 L591.39 522.77 L591.73 520.4 L592.08 518.22 L592.44 516.22 L592.8 514.38 L593.17 512.69 L593.55 511.15 L593.93 509.73 L594.32 508.43 L594.72 507.24 L595.12 506.14 L595.53 505.13 L595.94 504.2 L596.36 503.34 L596.79 502.54 L597.22 501.8 L597.65 501.11 L598.1 500.47 L598.55 499.86 L599 499.28 L599.46 498.74 L599.93 498.22 L600.4 497.72 L600.87 497.24 L601.36 496.78 L601.84 496.34 L602.34 495.9 L602.83 495.47 L603.34 495.05 L603.85 494.64 L606.67 494.75 L606.89 495.5 L607.75 467.14 L607.78 440.41 L607.8 415.61 L607.82 396 L607.83 402.48 L607.84 409.93 L607.85 418.5 L607.86 428.36 L607.87 439.69 L607.88 452.72 L607.9 467.71 L607.92 484.95 L607.93 496.8 L606.89 495.5 L607.21 496.8 L607.36 499.32 L607.43 502.56 L607.46 598.18 L608.26 507.6 L608.26 516.96 L608.27 526.32 L608.28 535.68 L608.29 545.04 L608.29 554.4 L608.3 563.76 L608.31 573.12 L608.32 582.48 L608.32 591.84 L608.33 598.18 L608.49 604.65 L608.64 610.96 L608.79 617.1 L608.93 623.08 L609.08 628.9 L609.21 634.56 L609.35 640.08 L609.48 645.45 L609.61 650.68 L609.73 655.77 L609.85 660.72 L609.97 665.55 L609.98 666.22 L610.01 664.67 L610.07 661.58 L610.14 657.46 L610.23 652.54 L610.34 647.02 L610.46 641.01 L610.6 634.65 L610.74 628.03 L610.9 621.25 L611.07 614.38 L611.24 607.48 L611.43 600.63 L611.63 593.88 L611.84 587.26 L612.05 580.82 L612.28 574.58 L612.51 568.58 L612.75 562.82 L613.01 557.33 L613.26 552.12 L613.53 547.18 L613.8 542.53 L614.09 538.16 L614.37 534.07 L614.67 530.24 L614.97 526.68 L615.28 523.38 L615.6 520.31 L615.93 517.48 L616.26 514.87 L616.6 512.46 L616.94 510.24 L617.29 508.21 L617.65 506.34 L618.01 504.63 L618.38 503.06 L618.76 501.62 L619.14 500.3 L619.53 499.08 L619.93 497.97 L620.33 496.94 L620.73 496 L621.15 495.13 L621.56 494.32 L621.99 493.56 L622.42 492.86 L622.85 492.21 L623.29 491.59 L623.74 491 L624.19 490.45 L624.65 489.92 L625.11 489.42 L625.58 488.93 L626.05 488.47 L626.53 488.01 L627.02 487.57 L627.51 487.13 L628 486.71 L628.5 486.29 L631.22 486.4 L631.44 487.15 L632.3 458.78 L632.33 431.99 L632.35 407.05 L632.38 383.98 L632.38 390.46 L632.39 397.87 L632.4 406.37 L632.41 416.09 L632.42 427.21 L632.43 439.95 L632.45 454.53 L632.47 471.22 L632.48 488.45 L631.44 487.15 L631.76 488.45 L631.91 490.97 L631.98 494.21 L632.02 591.62 L632.81 499.25 L632.82 508.61 L632.82 517.97 L632.83 527.33 L632.84 536.69 L632.84 546.05 L632.85 555.41 L632.86 564.77 L632.87 574.13 L632.87 583.49 L632.88 591.62 L633.03 598.1 L633.18 604.41 L633.33 610.56 L633.47 616.55 L633.61 622.38 L633.75 628.06 L633.88 633.6 L634.01 638.99 L634.13 644.24 L634.25 649.36 L634.37 654.35 L634.49 659.2 L634.54 661.18 L634.56 659.6 L634.62 656.43 L634.69 652.21 L634.78 647.18 L634.88 641.52 L635 635.38 L635.13 628.87 L635.27 622.09 L635.42 615.15 L635.59 608.11 L635.76 601.06 L635.94 594.05 L636.13 587.13 L636.33 580.35 L636.54 573.76 L636.76 567.38 L636.99 561.23 L637.23 555.34 L637.47 549.72 L637.72 544.38 L637.98 539.33 L638.24 534.57 L638.52 530.1 L638.8 525.91 L639.08 521.99 L639.38 518.35 L639.68 514.97 L639.99 511.83 L640.3 508.93 L640.63 506.25 L640.95 503.79 L641.29 501.52 L641.63 499.44 L641.98 497.53 L642.33 495.77 L642.69 494.17 L643.05 492.69 L643.42 491.34 L643.8 490.1 L644.18 488.96 L644.57 487.91 L644.97 486.94 L645.37 486.05 L645.77 485.22 L646.19 484.45 L646.6 483.73 L647.03 483.06 L647.45 482.42 L647.89 481.83 L648.32 481.26 L648.77 480.72 L649.22 480.21 L649.67 479.71 L650.13 479.23 L650.6 478.76 L651.07 478.31 L651.54 477.87 L652.02 477.43 L652.51 477 L655.13 477.11 L655.34 477.86 L656.2 449.5 L656.23 422.68 L656.26 397.71 L656.28 374.45 L656.28 373.68 L656.29 380.16 L656.29 387.57 L656.3 396.04 L656.31 405.72 L656.32 416.8 L656.34 429.46 L656.35 443.93 L656.37 460.49 L656.39 479.16 L655.34 477.86 L655.67 479.16 L655.81 481.68 L655.88 484.92 L655.92 583.2 L656.71 489.96 L656.72 499.32 L656.73 508.68 L656.73 518.04 L656.74 527.4 L656.75 536.76 L656.76 546.12 L656.76 555.48 L656.77 564.84 L656.78 574.2 L656.78 583.2 L656.98 589.68 L657.18 595.99 L657.37 602.15 L657.55 608.16 L657.73 614.02 L657.91 619.73 L658.08 625.3 L658.25 630.74 L658.41 636.03 L658.57 641.2 L658.72 646.24 L658.87 651.15 L659.02 655.78 L659.04 654.17 L659.09 650.96 L659.17 646.68 L659.25 641.57 L659.35 635.83 L659.47 629.6 L659.6 622.99 L659.73 616.11 L659.88 609.06 L660.04 601.92 L660.21 594.76 L660.39 587.65 L660.58 580.63 L660.78 573.75 L660.98 567.06 L661.19 560.58 L661.42 554.35 L661.65 548.37 L661.88 542.67 L662.13 537.25 L662.38 532.12 L662.64 527.29 L662.91 522.75 L663.18 518.5 L663.46 514.53 L663.75 510.83 L664.05 507.39 L664.35 504.21 L664.66 501.27 L664.97 498.55 L665.29 496.05 L665.62 493.75 L665.95 491.64 L666.29 489.7 L666.64 487.92 L666.99 486.28 L667.35 484.79 L667.71 483.42 L668.08 482.16 L668.45 481 L668.83 479.93 L669.22 478.95 L669.61 478.04 L670.01 477.2 L670.41 476.42 L670.82 475.69 L671.23 475.01 L671.65 474.37 L672.07 473.76 L672.5 473.19 L672.94 472.64 L673.38 472.12 L673.82 471.61 L674.27 471.13 L674.72 470.65 L675.18 470.19 L675.65 469.74 L676.12 469.3 L676.59 468.86 L679.25 468.97 L679.46 469.73 L680.32 441.36 L680.35 414.51 L680.37 389.47 L680.4 366.12 L680.4 363.6 L680.41 370.08 L680.41 377.47 L680.42 385.9 L680.43 395.52 L680.44 406.5 L680.46 419.02 L680.47 433.29 L680.49 449.58 L680.51 468.17 L680.51 471.02 L679.46 469.73 L679.79 471.02 L679.93 473.54 L680 476.78 L680.04 576 L680.83 481.82 L680.84 491.18 L680.85 500.54 L680.85 509.9 L680.86 519.26 L680.87 528.62 L680.87 537.98 L680.88 547.34 L680.89 556.7 L680.9 566.06 L680.9 575.42 L680.9 576 L681.05 582.48 L681.19 588.8 L681.33 594.97 L681.46 600.99 L681.59 606.86 L681.72 612.59 L681.84 618.19 L681.96 623.64 L682.08 628.97 L682.2 634.17 L682.31 639.24 L682.42 644.19 L682.53 649.01 L682.56 650.38 L682.59 648.74 L682.64 645.45 L682.71 641.07 L682.79 635.86 L682.89 629.99 L683.01 623.61 L683.13 616.85 L683.27 609.83 L683.42 602.62 L683.57 595.32 L683.74 588 L683.92 580.73 L684.1 573.55 L684.3 566.52 L684.5 559.68 L684.71 553.06 L684.93 546.68 L685.16 540.57 L685.39 534.74 L685.64 529.2 L685.89 523.96 L686.14 519.02 L686.41 514.38 L686.68 510.03 L686.96 505.97 L687.24 502.19 L687.53 498.68 L687.83 495.42 L688.13 492.42 L688.44 489.64 L688.76 487.08 L689.08 484.73 L689.41 482.57 L689.75 480.59 L690.09 478.77 L690.44 477.1 L690.79 475.57 L691.15 474.16 L691.51 472.88 L691.88 471.69 L692.26 470.61 L692.64 469.6 L693.03 468.67 L693.42 467.81 L693.82 467.02 L694.22 466.27 L694.63 465.57 L695.04 464.92 L695.46 464.3 L695.88 463.71 L696.31 463.15 L696.75 462.61 L697.19 462.1 L697.63 461.6 L698.08 461.12 L698.53 460.65 L698.99 460.19 L699.45 459.73 L699.92 459.29 L702.43 459.4 L702.65 460.15 L703.5 431.78 L703.53 404.9 L703.56 379.8 L703.58 356.37 L703.58 352.22 L703.59 358.7 L703.6 366.08 L703.61 374.48 L703.62 384.04 L703.63 394.92 L703.64 407.32 L703.65 421.42 L703.67 437.48 L703.69 455.76 L703.69 461.45 L702.65 460.15 L702.97 461.45 L703.12 463.97 L703.19 467.21 L703.22 568.8 L704.02 472.25 L704.02 481.61 L704.03 490.97 L704.04 500.33 L704.04 509.69 L704.05 519.05 L704.06 528.41 L704.06 537.77 L704.07 547.13 L704.08 556.49 L704.09 565.85 L704.09 568.8 L704.23 575.28 L704.38 581.6 L704.52 587.78 L704.66 593.81 L704.79 599.7 L704.92 605.45 L705.05 611.06 L705.17 616.54 L705.29 621.89 L705.41 627.11 L705.53 632.21 L705.64 637.19 L705.75 642.06 L705.82 644.98 L705.84 643.31 L705.89 639.96 L705.96 635.5 L706.05 630.18 L706.15 624.2 L706.26 617.71 L706.39 610.82 L706.53 603.66 L706.67 596.32 L706.83 588.88 L707 581.43 L707.17 574.01 L707.36 566.7 L707.55 559.54 L707.76 552.57 L707.97 545.82 L708.19 539.33 L708.41 533.1 L708.65 527.16 L708.89 521.52 L709.14 516.18 L709.4 511.15 L709.66 506.42 L709.93 501.99 L710.21 497.85 L710.49 494 L710.78 490.42 L711.08 487.11 L711.39 484.04 L711.7 481.21 L712.01 478.61 L712.34 476.21 L712.66 474.01 L713 471.99 L713.34 470.13 L713.69 468.43 L714.04 466.87 L714.4 465.45 L714.76 464.13 L715.13 462.93 L715.51 461.82 L715.89 460.8 L716.28 459.85 L716.67 458.97 L717.07 458.16 L717.47 457.4 L717.88 456.69 L718.29 456.02 L718.71 455.39 L719.13 454.79 L719.56 454.22 L719.99 453.68 L720.43 453.15 L720.88 452.64 L721.32 452.15 L721.78 451.67 L722.24 451.2 L722.7 450.74 L723.17 450.29 L725.69 450.4 L725.9 451.15 L726.76 422.78 L726.79 395.89 L726.81 370.78 L726.84 347.33 L726.84 342.86 L726.85 349.34 L726.85 356.72 L726.86 365.11 L726.87 374.66 L726.88 385.53 L726.89 397.89 L726.91 411.96 L726.92 427.98 L726.94 446.2 L726.95 452.45 L725.9 451.15 L726.23 452.45 L726.37 454.97 L726.44 458.21 L726.48 562.18 L727.27 463.25 L727.28 472.61 L727.29 481.97 L727.29 491.33 L727.3 500.69 L727.31 510.05 L727.31 519.41 L727.32 528.77 L727.33 538.13 L727.33 547.49 L727.34 556.85 L727.34 562.18 L727.48 568.65 L727.62 574.98 L727.75 581.16 L727.88 587.2 L728.01 593.1 L728.13 598.86 L728.25 604.48 L728.37 609.98 L728.48 615.34 L728.59 620.59 L728.7 625.71 L728.81 630.71 L728.91 635.59 L729 639.58 L729.03 637.87 L729.08 634.47 L729.15 629.92 L729.23 624.51 L729.33 618.42 L729.44 611.8 L729.57 604.79 L729.7 597.5 L729.85 590.02 L730 582.45 L730.17 574.85 L730.34 567.3 L730.52 559.86 L730.71 552.56 L730.91 545.46 L731.12 538.59 L731.34 531.97 L731.56 525.63 L731.79 519.58 L732.03 513.84 L732.28 508.4 L732.53 503.27 L732.79 498.45 L733.06 493.94 L733.33 489.73 L733.61 485.81 L733.9 482.16 L734.2 478.79 L734.5 475.66 L734.8 472.78 L735.11 470.13 L735.43 467.69 L735.76 465.45 L736.09 463.39 L736.42 461.5 L736.77 459.77 L737.11 458.18 L737.47 456.73 L737.83 455.39 L738.19 454.16 L738.56 453.03 L738.94 451.99 L739.32 451.03 L739.71 450.14 L740.1 449.31 L740.5 448.53 L740.9 447.81 L741.31 447.13 L741.72 446.49 L742.14 445.88 L742.56 445.3 L742.99 444.74 L743.42 444.2 L743.86 443.69 L744.3 443.19 L744.75 442.7 L745.2 442.22 L745.66 441.75 L746.12 441.29 L748.58 441.4 L748.8 442.15 L749.66 413.78 L749.68 386.9 L749.71 361.82 L749.73 338.4 L749.74 334.58 L749.74 341.06 L749.75 348.44 L749.76 356.85 L749.77 366.42 L749.78 377.32 L749.79 389.74 L749.8 403.88 L749.82 419.98 L749.84 438.33 L749.84 443.45 L748.8 442.15 L749.12 443.45 L749.27 445.97 L749.34 449.21 L749.38 555.62 L750.17 454.25 L750.17 463.61 L750.18 472.97 L750.19 482.33 L750.19 491.69 L750.2 501.05 L750.21 510.41 L750.21 519.77 L750.22 529.13 L750.23 538.49 L750.23 547.85 L750.24 555.62 L750.34 562.1 L750.44 568.43 L750.54 574.62 L750.63 580.66 L750.72 586.57 L750.81 592.34 L750.9 597.98 L750.99 603.49 L751.07 608.87 L751.15 614.13 L751.23 619.27 L751.31 624.29 L751.39 629.19 L751.46 633.99 L751.46 634.18 L751.49 632.45 L751.54 629 L751.61 624.4 L751.69 618.92 L751.79 612.76 L751.9 606.06 L752.03 598.96 L752.16 591.58 L752.3 584.01 L752.46 576.34 L752.62 568.65 L752.79 561.01 L752.98 553.47 L753.17 546.09 L753.37 538.9 L753.57 531.94 L753.79 525.24 L754.01 518.82 L754.24 512.7 L754.48 506.88 L754.72 501.38 L754.97 496.19 L755.23 491.31 L755.5 486.74 L755.77 482.48 L756.05 478.51 L756.33 474.82 L756.62 471.4 L756.92 468.24 L757.23 465.32 L757.54 462.64 L757.85 460.17 L758.18 457.9 L758.51 455.81 L758.84 453.9 L759.18 452.15 L759.53 450.54 L759.88 449.07 L760.23 447.72 L760.6 446.47 L760.96 445.33 L761.34 444.27 L761.72 443.3 L762.1 442.4 L762.49 441.56 L762.88 440.77 L763.28 440.04 L763.69 439.35 L764.1 438.7 L764.51 438.08 L764.93 437.5 L765.36 436.93 L765.79 436.39 L766.22 435.87 L766.66 435.36 L767.11 434.87 L767.56 434.38 L768.01 433.91 L768.47 433.44 L770.83 433.55 L771.05 434.3 L771.9 405.94 L771.93 379 L771.95 353.82 L771.98 330.27 L771.98 323.78 L771.99 330.26 L772 337.62 L772.01 345.97 L772.01 355.45 L772.02 366.21 L772.04 378.43 L772.05 392.3 L772.07 408.05 L772.08 425.92 L772.09 435.6 L771.05 434.3 L771.37 435.6 L771.52 438.12 L771.59 441.36 L771.62 547.78 L772.42 446.4 L772.42 455.76 L772.43 465.12 L772.44 474.48 L772.44 483.84 L772.45 493.2 L772.46 502.56 L772.46 511.92 L772.47 521.28 L772.48 530.64 L772.48 540 L772.49 547.78 L772.61 554.25 L772.73 560.59 L772.84 566.79 L772.95 572.85 L773.06 578.77 L773.17 584.57 L773.27 590.24 L773.38 595.78 L773.48 601.2 L773.58 606.5 L773.67 611.69 L773.77 616.76 L773.86 621.72 L773.95 626.56 L774 629.42 L774.02 627.67 L774.07 624.16 L774.14 619.48 L774.22 613.9 L774.32 607.62 L774.42 600.8 L774.54 593.58 L774.67 586.06 L774.81 578.36 L774.96 570.55 L775.11 562.72 L775.28 554.95 L775.45 547.27 L775.64 539.76 L775.83 532.44 L776.03 525.36 L776.23 518.54 L776.45 512 L776.67 505.77 L776.9 499.85 L777.13 494.25 L777.37 488.96 L777.62 484 L777.88 479.35 L778.14 475.01 L778.41 470.96 L778.68 467.21 L778.96 463.73 L779.25 460.51 L779.54 457.54 L779.84 454.81 L780.15 452.29 L780.46 449.98 L780.77 447.86 L781.09 445.92 L781.42 444.13 L781.75 442.5 L782.09 441 L782.43 439.62 L782.78 438.35 L783.14 437.19 L783.5 436.12 L783.86 435.12 L784.23 434.21 L784.6 433.35 L784.98 432.55 L785.37 431.81 L785.76 431.11 L786.15 430.44 L786.55 429.82 L786.95 429.22 L787.36 428.64 L787.78 428.09 L788.19 427.56 L788.62 427.04 L789.05 426.54 L789.48 426.05 L789.91 425.56 L790.36 425.09 L792.65 425.2 L792.86 425.95 L793.72 397.58 L793.75 370.63 L793.77 345.41 L793.79 321.8 L793.8 314.14 L793.81 320.62 L793.81 327.96 L793.82 336.29 L793.83 345.73 L793.84 356.44 L793.85 368.57 L793.87 382.33 L793.88 397.92 L793.9 415.6 L793.91 427.25 L792.86 425.95 L793.19 427.25 L793.33 429.77 L793.4 433.01 L793.44 540.94 L794.23 438.05 L794.24 447.41 L794.25 456.77 L794.25 466.13 L794.26 475.49 L794.26 484.85 L794.27 494.21 L794.28 503.57 L794.28 512.93 L794.29 522.29 L794.3 531.65 L794.3 540.94 L794.42 547.41 L794.54 553.75 L794.65 559.95 L794.76 566.02 L794.87 571.96 L794.97 577.76 L795.08 583.45 L795.18 589 L795.28 594.44 L795.37 599.76 L795.47 604.97 L795.56 610.06 L795.65 615.04 L795.74 619.91 L795.82 624.02 L795.84 622.25 L795.89 618.69 L795.95 613.95 L796.03 608.29 L796.13 601.94 L796.23 595.03 L796.35 587.71 L796.48 580.1 L796.61 572.29 L796.76 564.38 L796.92 556.46 L797.08 548.57 L797.25 540.8 L797.43 533.19 L797.62 525.77 L797.82 518.6 L798.02 511.69 L798.24 505.07 L798.46 498.76 L798.68 492.76 L798.91 487.08 L799.15 481.73 L799.4 476.7 L799.65 471.99 L799.91 467.59 L800.18 463.5 L800.45 459.69 L800.72 456.17 L801.01 452.91 L801.3 449.9 L801.59 447.13 L801.89 444.59 L802.2 442.24 L802.51 440.1 L802.83 438.12 L803.15 436.32 L803.48 434.66 L803.82 433.14 L804.16 431.74 L804.5 430.46 L804.85 429.28 L805.21 428.2 L805.57 427.19 L805.93 426.26 L806.3 425.39 L806.68 424.59 L807.06 423.83 L807.44 423.12 L807.83 422.45 L808.23 421.81 L808.63 421.21 L809.03 420.63 L809.44 420.07 L809.85 419.53 L810.27 419.01 L810.69 418.5 L811.12 418 L811.55 417.51 L811.99 417.02 L814.25 417.13 L814.46 417.89 L815.32 389.52 L815.35 362.59 L815.37 337.4 L815.39 313.84 L815.4 307.22 L815.41 313.7 L815.41 321.06 L815.42 329.41 L815.43 338.88 L815.44 349.64 L815.45 361.85 L815.47 375.7 L815.48 391.43 L815.5 409.28 L815.51 419.18 L814.46 417.89 L814.79 419.18 L814.93 421.7 L815 424.94 L815.04 535.18 L815.83 429.98 L815.84 439.34 L815.84 448.7 L815.85 458.06 L815.86 467.42 L815.86 476.78 L815.87 486.14 L815.88 495.5 L815.88 504.86 L815.89 514.22 L815.9 523.58 L815.9 532.94 L815.9 535.18 L816.03 541.65 L816.16 547.99 L816.28 554.2 L816.4 560.26 L816.52 566.2 L816.63 572.01 L816.75 577.7 L816.86 583.26 L816.97 588.7 L817.07 594.02 L817.18 599.23 L817.28 604.33 L817.38 609.32 L817.47 614.2 L817.56 618.62 L817.58 616.83 L817.63 613.22 L817.7 608.42 L817.78 602.7 L817.87 596.27 L817.97 589.28 L818.09 581.87 L818.22 574.16 L818.35 566.26 L818.5 558.26 L818.65 550.23 L818.81 542.26 L818.99 534.39 L819.16 526.68 L819.35 519.18 L819.55 511.92 L819.75 504.92 L819.96 498.22 L820.18 491.83 L820.4 485.76 L820.63 480.02 L820.87 474.6 L821.11 469.51 L821.36 464.74 L821.62 460.29 L821.88 456.14 L822.15 452.29 L822.42 448.73 L822.71 445.43 L822.99 442.38 L823.28 439.58 L823.58 437 L823.89 434.63 L824.2 432.46 L824.51 430.46 L824.83 428.63 L825.16 426.95 L825.49 425.42 L825.83 424 L826.17 422.71 L826.51 421.51 L826.87 420.41 L827.22 419.39 L827.58 418.45 L827.95 417.58 L828.32 416.76 L828.7 415.99 L829.08 415.28 L829.47 414.6 L829.86 413.95 L830.26 413.34 L830.66 412.75 L831.06 412.19 L831.47 411.64 L831.89 411.11 L832.31 410.59 L832.73 410.09 L833.16 409.59 L833.59 409.1 L835.85 409.21 L836.06 409.97 L836.92 381.6 L836.95 354.65 L836.97 329.44 L836.99 305.86 L837 298.58 L837.01 305.06 L837.01 312.41 L837.02 320.75 L837.03 330.2 L837.04 340.93 L837.05 353.09 L837.07 366.88 L837.08 382.53 L837.1 400.27 L837.11 411.26 L836.06 409.97 L836.39 411.26 L836.53 413.78 L836.6 417.02 L836.64 529.2 L837.43 422.06 L837.44 431.42 L837.44 440.78 L837.45 450.14 L837.46 459.5 L837.46 468.86 L837.47 478.22 L837.48 487.58 L837.48 496.94 L837.49 506.3 L837.49 515.66 L837.5 525.02 L837.5 529.2 L837.62 535.68 L837.73 542.02 L837.85 548.22 L837.96 554.29 L838.06 560.24 L838.17 566.05 L838.27 571.74 L838.37 577.31 L838.47 582.76 L838.56 588.09 L838.66 593.31 L838.75 598.41 L838.84 603.41 L838.93 608.3 L839.01 613.08 L839.02 613.22 L839.04 611.4 L839.08 607.76 L839.15 602.89 L839.22 597.1 L839.31 590.58 L839.41 583.5 L839.53 576 L839.65 568.2 L839.78 560.2 L839.92 552.09 L840.07 543.96 L840.22 535.88 L840.39 527.92 L840.56 520.11 L840.74 512.51 L840.93 505.16 L841.13 498.08 L841.33 491.29 L841.54 484.82 L841.75 478.67 L841.97 472.85 L842.2 467.37 L842.44 462.21 L842.68 457.38 L842.93 452.88 L843.18 448.68 L843.44 444.78 L843.7 441.17 L843.97 437.83 L844.25 434.74 L844.53 431.9 L844.82 429.29 L845.11 426.89 L845.41 424.69 L845.71 422.67 L846.02 420.82 L846.34 419.12 L846.66 417.56 L846.98 416.13 L847.31 414.82 L847.64 413.61 L847.98 412.49 L848.33 411.46 L848.68 410.51 L849.03 409.62 L849.39 408.79 L849.75 408.02 L850.12 407.29 L850.49 406.6 L850.87 405.95 L851.25 405.33 L851.64 404.73 L852.03 404.16 L852.42 403.61 L852.82 403.07 L853.22 402.55 L853.63 402.04 L854.05 401.53 L854.46 401.04 L856.58 401.15 L856.8 401.9 L857.66 373.54 L857.68 346.54 L857.7 321.24 L857.73 297.52 L857.74 287.42 L857.74 293.9 L857.75 301.23 L857.76 309.51 L857.77 318.88 L857.78 329.47 L857.79 341.44 L857.8 354.97 L857.81 370.27 L857.83 387.57 L857.84 403.2 L856.8 401.9 L857.12 403.2 L857.27 405.72 L857.34 408.96 L857.38 522 L858.17 414 L858.17 423.36 L858.18 432.72 L858.19 442.08 L858.19 451.44 L858.2 460.8 L858.21 470.16 L858.21 479.52 L858.22 488.88 L858.22 498.24 L858.23 507.6 L858.24 516.96 L858.24 522 L858.37 528.48 L858.51 534.82 L858.64 541.03 L858.76 547.12 L858.89 553.07 L859.01 558.9 L859.13 564.61 L859.24 570.2 L859.36 575.68 L859.47 581.04 L859.58 586.29 L859.69 591.43 L859.79 596.46 L859.89 601.39 L859.99 606.21 L860.04 608.4 L860.06 606.56 L860.11 602.86 L860.17 597.94 L860.25 592.07 L860.34 585.47 L860.44 578.3 L860.55 570.7 L860.67 562.79 L860.8 554.69 L860.94 546.48 L861.09 538.25 L861.24 530.06 L861.41 521.99 L861.58 514.09 L861.76 506.39 L861.95 498.94 L862.14 491.77 L862.34 484.9 L862.55 478.34 L862.77 472.11 L862.99 466.22 L863.22 460.66 L863.45 455.44 L863.69 450.55 L863.94 445.98 L864.19 441.73 L864.45 437.78 L864.71 434.12 L864.98 430.74 L865.26 427.62 L865.54 424.74 L865.83 422.1 L866.12 419.66 L866.42 417.43 L866.72 415.39 L867.03 413.51 L867.34 411.79 L867.66 410.21 L867.98 408.76 L868.31 407.43 L868.64 406.21 L868.98 405.08 L869.32 404.04 L869.67 403.07 L870.02 402.17 L870.38 401.33 L870.74 400.55 L871.11 399.81 L871.48 399.11 L871.86 398.45 L872.24 397.82 L872.62 397.22 L873.01 396.64 L873.41 396.08 L873.8 395.54 L874.21 395.01 L874.61 394.49 L875.02 393.98 L875.44 393.48 L877.61 393.59 L877.82 394.34 L878.68 365.98 L878.7 338.94 L878.73 313.57 L878.75 289.75 L878.76 277.42 L878.77 283.9 L878.77 291.2 L878.78 299.45 L878.79 308.75 L878.8 319.23 L878.81 331.06 L878.82 344.4 L878.83 359.45 L878.85 376.42 L878.87 395.56 L878.87 395.64 L877.82 394.34 L878.15 395.64 L878.29 398.16 L878.36 401.4 L878.4 515.38 L879.19 406.44 L879.2 415.8 L879.2 425.16 L879.21 434.52 L879.22 443.88 L879.22 453.24 L879.23 462.6 L879.24 471.96 L879.24 481.32 L879.25 490.68 L879.25 500.04 L879.26 509.4 L879.26 515.38 L879.38 521.86 L879.49 528.2 L879.59 534.41 L879.7 540.5 L879.8 546.46 L879.91 552.3 L880 558.01 L880.1 563.61 L880.2 569.09 L880.29 574.46 L880.38 579.72 L880.47 584.87 L880.56 589.91 L880.64 594.85 L880.73 599.68 L880.78 602.42 L880.8 600.57 L880.84 596.84 L880.91 591.88 L880.98 585.97 L881.07 579.31 L881.17 572.09 L881.28 564.43 L881.41 556.47 L881.54 548.3 L881.67 540.03 L881.82 531.73 L881.98 523.48 L882.14 515.35 L882.32 507.38 L882.5 499.63 L882.68 492.12 L882.88 484.9 L883.08 477.97 L883.29 471.36 L883.5 465.09 L883.72 459.15 L883.95 453.55 L884.18 448.29 L884.42 443.36 L884.67 438.76 L884.92 434.47 L885.18 430.49 L885.44 426.81 L885.71 423.4 L885.99 420.25 L886.27 417.35 L886.56 414.68 L886.85 412.23 L887.15 409.99 L887.45 407.92 L887.76 406.03 L888.07 404.3 L888.39 402.71 L888.71 401.25 L889.04 399.91 L889.37 398.67 L889.71 397.54 L890.05 396.49 L890.4 395.51 L890.75 394.61 L891.11 393.76 L891.47 392.97 L891.84 392.23 L892.21 391.53 L892.58 390.86 L892.96 390.22 L893.35 389.62 L893.74 389.03 L894.13 388.47 L894.53 387.92 L894.93 387.39 L895.34 386.87 L895.75 386.35 L896.16 385.85 L898.27 385.96 L898.49 386.71 L899.34 358.34 L899.37 331.32 L899.39 305.96 L899.41 282.15 L899.42 270.22 L899.43 276.7 L899.44 284.01 L899.44 292.26 L899.45 301.57 L899.46 312.07 L899.47 323.92 L899.49 337.3 L899.5 352.39 L899.51 369.42 L899.53 388.01 L898.49 386.71 L898.81 388.01 L898.96 390.53 L899.03 393.77 L899.06 509.04 L899.86 398.81 L899.86 408.17 L899.87 417.53 L899.87 426.89 L899.88 436.25 L899.89 445.61 L899.89 454.97 L899.9 464.33 L899.9 473.69 L899.91 483.05 L899.92 492.41 L899.92 501.77 L899.93 509.04 L900 515.52 L900.07 521.87 L900.14 528.09 L900.21 534.18 L900.28 540.15 L900.35 545.99 L900.41 551.72 L900.48 557.34 L900.54 562.83 L900.6 568.22 L900.66 573.5 L900.72 578.67 L900.78 583.73 L900.83 588.69 L900.89 593.55 L900.94 597.6 L900.96 595.73 L901 591.98 L901.07 586.98 L901.14 581.02 L901.23 574.32 L901.34 567.04 L901.45 559.33 L901.57 551.3 L901.7 543.08 L901.84 534.74 L901.99 526.39 L902.15 518.08 L902.31 509.89 L902.48 501.87 L902.66 494.05 L902.85 486.49 L903.05 479.21 L903.25 472.24 L903.46 465.58 L903.68 459.26 L903.9 453.28 L904.13 447.64 L904.36 442.34 L904.6 437.37 L904.85 432.74 L905.1 428.42 L905.36 424.41 L905.63 420.7 L905.9 417.26 L906.18 414.09 L906.46 411.17 L906.75 408.49 L907.04 406.02 L907.34 403.75 L907.64 401.68 L907.95 399.77 L908.27 398.03 L908.59 396.42 L908.91 394.95 L909.24 393.6 L909.57 392.36 L909.91 391.21 L910.26 390.16 L910.61 389.17 L910.96 388.26 L911.32 387.41 L911.68 386.61 L912.05 385.87 L912.43 385.16 L912.8 384.49 L913.18 383.85 L913.57 383.24 L913.96 382.65 L914.36 382.08 L914.76 381.53 L915.16 380.99 L915.57 380.46 L915.98 379.95 L916.4 379.44 L918.43 379.55 L918.65 380.3 L919.5 351.94 L919.53 324.89 L919.55 299.48 L919.57 275.62 L919.58 262.22 L919.59 268.7 L919.6 276 L919.6 284.23 L919.61 293.5 L919.62 303.94 L919.63 315.7 L919.64 328.96 L919.66 343.89 L919.67 360.71 L919.69 379.67 L919.69 381.6 L918.65 380.3 L918.97 381.6 L919.12 384.12 L919.19 387.36 L919.22 503.42 L920.02 392.4 L920.02 401.76 L920.03 411.12 L920.03 420.48 L920.04 429.84 L920.05 439.2 L920.05 448.56 L920.06 457.92 L920.06 467.28 L920.07 476.64 L920.08 486 L920.08 495.36 L920.09 503.42 L920.17 509.9 L920.26 516.25 L920.34 522.47 L920.42 528.56 L920.49 534.53 L920.57 540.37 L920.65 546.1 L920.72 551.7 L920.79 557.2 L920.86 562.58 L920.93 567.85 L921 573.02 L921.06 578.08 L921.13 583.03 L921.19 587.89 L921.24 591.62 L921.26 589.74 L921.31 585.97 L921.37 580.94 L921.44 574.95 L921.53 568.21 L921.62 560.9 L921.73 553.14 L921.85 545.07 L921.98 536.8 L922.11 528.42 L922.25 520.01 L922.41 511.66 L922.56 503.42 L922.73 495.35 L922.91 487.5 L923.09 479.89 L923.27 472.57 L923.47 465.56 L923.67 458.86 L923.88 452.51 L924.09 446.49 L924.31 440.82 L924.54 435.49 L924.77 430.5 L925.01 425.84 L925.25 421.49 L925.5 417.46 L925.76 413.73 L926.02 410.27 L926.29 407.09 L926.56 404.15 L926.84 401.45 L927.12 398.97 L927.41 396.69 L927.7 394.6 L928 392.69 L928.3 390.93 L928.61 389.32 L928.92 387.84 L929.24 386.48 L929.56 385.23 L929.89 384.08 L930.22 383.02 L930.56 382.03 L930.9 381.11 L931.24 380.26 L931.59 379.46 L931.95 378.7 L932.31 377.99 L932.67 377.32 L933.04 376.67 L933.41 376.06 L933.79 375.47 L934.17 374.89 L934.55 374.34 L934.94 373.8 L935.34 373.27 L935.73 372.75 L936.14 372.24 L938.09 372.35 L938.3 373.1 L939.16 344.74 L939.18 317.67 L939.21 292.23 L939.23 268.32 L939.24 253.8 L939.25 260.28 L939.25 267.57 L939.26 275.78 L939.27 285.01 L939.28 295.41 L939.29 307.1 L939.3 320.27 L939.31 335.08 L939.33 351.75 L939.34 370.51 L939.35 374.4 L938.3 373.1 L938.63 374.4 L938.77 376.92 L938.84 380.16 L938.88 496.22 L939.67 385.2 L939.68 394.56 L939.68 403.92 L939.69 413.28 L939.7 422.64 L939.7 432 L939.71 441.36 L939.71 450.72 L939.72 460.08 L939.73 469.44 L939.73 478.8 L939.74 488.16 L939.74 496.22 L939.86 502.7 L939.98 509.05 L940.09 515.27 L940.21 521.37 L940.32 527.35 L940.42 533.21 L940.53 538.94 L940.63 544.57 L940.73 550.08 L940.83 555.48 L940.93 560.78 L941.03 565.97 L941.12 571.05 L941.21 576.03 L941.3 580.92 L941.39 585.7 L941.4 586.22 L941.42 584.33 L941.46 580.52 L941.52 575.45 L941.6 569.42 L941.68 562.62 L941.77 555.24 L941.88 547.42 L941.99 539.29 L942.12 530.95 L942.25 522.5 L942.39 514.03 L942.54 505.6 L942.69 497.3 L942.85 489.16 L943.02 481.24 L943.2 473.58 L943.38 466.2 L943.57 459.12 L943.77 452.37 L943.97 445.96 L944.18 439.9 L944.39 434.18 L944.61 428.81 L944.84 423.77 L945.07 419.08 L945.31 414.7 L945.56 410.63 L945.8 406.87 L946.06 403.39 L946.32 400.17 L946.58 397.21 L946.85 394.49 L947.13 391.99 L947.41 389.69 L947.69 387.59 L947.98 385.65 L948.28 383.88 L948.58 382.26 L948.88 380.77 L949.19 379.4 L949.51 378.14 L949.83 376.98 L950.15 375.9 L950.48 374.91 L950.81 373.98 L951.15 373.12 L951.49 372.31 L951.83 371.55 L952.18 370.84 L952.54 370.16 L952.9 369.51 L953.26 368.89 L953.63 368.29 L954 367.72 L954.37 367.16 L954.75 366.61 L955.13 366.08 L955.52 365.56 L955.91 365.04 L957.89 365.15 L958.1 365.9 L958.96 337.54 L958.98 310.44 L959 284.95 L959.03 260.97 L959.04 244.8 L959.05 251.28 L959.05 258.56 L959.06 266.74 L959.07 275.93 L959.08 286.26 L959.09 297.86 L959.1 310.89 L959.11 325.54 L959.13 341.99 L959.14 360.47 L959.15 367.2 L958.1 365.9 L958.43 367.2 L958.57 369.72 L958.64 372.96 L958.68 490.18 L959.47 378 L959.48 387.36 L959.48 396.72 L959.49 406.08 L959.5 415.44 L959.5 424.8 L959.51 434.16 L959.51 443.52 L959.52 452.88 L959.53 462.24 L959.53 471.6 L959.54 480.96 L959.54 490.18 L959.64 496.66 L959.73 503.01 L959.82 509.23 L959.9 515.33 L959.99 521.32 L960.07 527.18 L960.15 532.93 L960.23 538.56 L960.31 544.08 L960.39 549.5 L960.46 554.8 L960.54 560 L960.61 565.1 L960.68 570.1 L960.75 575 L960.82 579.8 L960.84 581.18 L960.86 579.28 L960.9 575.46 L960.96 570.37 L961.03 564.3 L961.12 557.47 L961.21 550.06 L961.32 542.21 L961.43 534.03 L961.55 525.65 L961.68 517.17 L961.82 508.66 L961.97 500.2 L962.12 491.85 L962.29 483.68 L962.46 475.72 L962.63 468.02 L962.81 460.61 L963 453.5 L963.2 446.72 L963.4 440.29 L963.61 434.19 L963.82 428.45 L964.04 423.05 L964.27 417.99 L964.5 413.27 L964.73 408.88 L964.98 404.79 L965.22 401.01 L965.48 397.51 L965.74 394.29 L966 391.31 L966.27 388.58 L966.54 386.06 L966.82 383.76 L967.11 381.64 L967.39 379.7 L967.69 377.92 L967.99 376.29 L968.29 374.79 L968.6 373.42 L968.91 372.15 L969.23 370.98 L969.55 369.91 L969.88 368.91 L970.21 367.98 L970.54 367.11 L970.88 366.3 L971.23 365.54 L971.57 364.82 L971.93 364.13 L972.28 363.48 L972.65 362.86 L973.01 362.26 L973.38 361.68 L973.75 361.12 L974.13 360.57 L974.51 360.04 L974.9 359.51 L975.29 358.99 L977.18 359.1 L977.4 359.86 L978.25 331.49 L978.28 304.36 L978.3 278.81 L978.32 254.75 L978.34 236.38 L978.34 242.86 L978.35 250.12 L978.35 258.27 L978.36 267.4 L978.37 277.64 L978.38 289.12 L978.39 301.99 L978.41 316.42 L978.42 332.6 L978.43 350.74 L978.44 361.15 L977.4 359.86 L977.72 361.15 L977.87 363.67 L977.94 366.91 L977.98 484.2 L978.77 371.95 L978.77 381.31 L978.78 390.67 L978.79 400.03 L978.79 409.39 L978.8 418.75 L978.8 428.11 L978.81 437.47 L978.82 446.83 L978.82 456.19 L978.83 465.55 L978.83 474.91 L978.84 484.2 L978.94 490.68 L979.04 497.03 L979.14 503.26 L979.24 509.36 L979.33 515.34 L979.42 521.21 L979.51 526.96 L979.6 532.59 L979.69 538.12 L979.78 543.53 L979.86 548.84 L979.94 554.04 L980.02 559.15 L980.1 564.15 L980.18 569.05 L980.26 573.85 L980.28 575.42 L980.3 573.51 L980.34 569.69 L980.4 564.59 L980.47 558.51 L980.55 551.68 L980.65 544.25 L980.75 536.38 L980.86 528.2 L980.98 519.8 L981.11 511.3 L981.25 502.78 L981.39 494.31 L981.55 485.95 L981.71 477.76 L981.87 469.79 L982.05 462.08 L982.23 454.65 L982.41 447.54 L982.6 440.75 L982.8 434.3 L983.01 428.19 L983.22 422.44 L983.44 417.03 L983.66 411.97 L983.89 407.24 L984.12 402.84 L984.36 398.75 L984.6 394.96 L984.85 391.46 L985.11 388.22 L985.37 385.24 L985.63 382.5 L985.9 379.99 L986.18 377.68 L986.46 375.56 L986.74 373.61 L987.03 371.83 L987.33 370.2 L987.62 368.7 L987.93 367.32 L988.24 366.05 L988.55 364.88 L988.87 363.8 L989.19 362.8 L989.51 361.87 L989.85 361 L990.18 360.19 L990.52 359.43 L990.86 358.71 L991.21 358.02 L991.56 357.37 L991.92 356.75 L992.28 356.15 L992.64 355.57 L993.01 355 L993.38 354.45 L993.76 353.92 L994.14 353.39 L994.52 352.87 L996.41 352.98 L996.62 353.74 L997.48 325.37 L997.5 298.19 L997.52 272.54 L997.54 248.33 L997.56 226.22 L997.57 232.7 L997.57 239.94 L997.58 248.04 L997.59 257.08 L997.59 267.18 L997.6 278.46 L997.61 291.08 L997.63 305.17 L997.64 320.92 L997.65 338.51 L997.67 355.03 L996.62 353.74 L996.95 355.03 L997.09 357.55 L997.16 360.79 L997.2 478.8 L997.99 365.83 L998 375.19 L998 384.55 L998.01 393.91 L998.02 403.27 L998.02 412.63 L998.03 421.99 L998.03 431.35 L998.04 440.71 L998.05 450.07 L998.05 459.43 L998.06 468.79 L998.06 478.15 L998.06 478.8 L998.15 485.28 L998.23 491.63 L998.31 497.86 L998.38 503.96 L998.46 509.94 L998.53 515.8 L998.61 521.54 L998.68 527.18 L998.75 532.7 L998.82 538.11 L998.88 543.41 L998.95 548.61 L999.02 553.7 L999.08 558.69 L999.14 563.59 L999.2 568.39 L999.22 569.52 L999.24 567.61 L999.28 563.78 L999.34 558.68 L999.41 552.6 L999.49 545.76 L999.58 538.33 L999.69 530.45 L999.8 522.26 L999.92 513.86 L1000.05 505.36 L1000.18 496.83 L1000.33 488.35 L1000.48 479.99 L1000.64 471.79 L1000.81 463.82 L1000.98 456.1 L1001.16 448.67 L1001.35 441.55 L1001.54 434.76 L1001.74 428.3 L1001.94 422.19 L1002.15 416.44 L1002.37 411.03 L1002.59 405.96 L1002.82 401.23 L1003.05 396.82 L1003.29 392.73 L1003.53 388.94 L1003.78 385.43 L1004.04 382.2 L1004.3 379.22 L1004.56 376.48 L1004.83 373.96 L1005.11 371.64 L1005.39 369.52 L1005.67 367.58 L1005.96 365.8 L1006.25 364.16 L1006.55 362.66 L1006.86 361.28 L1007.16 360.01 L1007.48 358.84 L1007.79 357.76 L1008.12 356.76 L1008.44 355.83 L1008.77 354.96 L1009.11 354.15 L1009.44 353.38 L1009.79 352.66 L1010.13 351.98 L1010.49 351.32 L1010.84 350.7 L1011.2 350.1 L1011.57 349.52 L1011.93 348.96 L1012.31 348.41 L1012.68 347.87 L1013.06 347.34 L1013.45 346.82 L1015.27 346.93 L1015.49 347.69 L1016.34 319.32 L1016.36 292.1 L1016.38 266.37 L1016.4 242.05 L1016.42 219.06 L1016.42 216.72 L1016.43 223.2 L1016.44 230.42 L1016.44 238.47 L1016.45 247.43 L1016.46 257.42 L1016.47 268.56 L1016.48 280.96 L1016.49 294.79 L1016.5 310.19 L1016.51 327.36 L1016.53 346.48 L1016.53 348.98 L1015.49 347.69 L1015.81 348.98 L1015.96 351.5 L1016.03 354.74 L1016.06 471.6 L1016.86 359.78 L1016.86 369.14 L1016.87 378.5 L1016.87 387.86 L1016.88 397.22 L1016.89 406.58 L1016.89 415.94 L1016.9 425.3 L1016.9 434.66 L1016.91 444.02 L1016.92 453.38 L1016.92 462.74 L1016.93 471.6 L1017.03 478.08 L1017.14 484.43 L1017.24 490.66 L1017.34 496.77 L1017.43 502.77 L1017.53 508.64 L1017.62 514.4 L1017.72 520.06 L1017.81 525.6 L1017.89 531.03 L1017.98 536.36 L1018.07 541.59 L1018.15 546.71 L1018.23 551.74 L1018.31 556.67 L1018.39 561.5 L1018.44 564.62 L1018.46 562.71 L1018.5 558.86 L1018.56 553.74 L1018.62 547.64 L1018.7 540.77 L1018.79 533.31 L1018.89 525.41 L1019 517.18 L1019.11 508.75 L1019.24 500.21 L1019.37 491.65 L1019.51 483.14 L1019.65 474.74 L1019.8 466.52 L1019.96 458.51 L1020.13 450.77 L1020.3 443.31 L1020.48 436.16 L1020.66 429.34 L1020.85 422.86 L1021.05 416.73 L1021.25 410.95 L1021.46 405.52 L1021.67 400.43 L1021.89 395.68 L1022.11 391.26 L1022.34 387.15 L1022.58 383.34 L1022.81 379.82 L1023.06 376.57 L1023.31 373.58 L1023.56 370.83 L1023.82 368.3 L1024.08 365.98 L1024.35 363.85 L1024.62 361.9 L1024.9 360.11 L1025.18 358.47 L1025.47 356.96 L1025.76 355.58 L1026.05 354.3 L1026.35 353.13 L1026.65 352.04 L1026.96 351.04 L1027.27 350.1 L1027.59 349.23 L1027.91 348.42 L1028.24 347.65 L1028.56 346.92 L1028.9 346.24 L1029.23 345.58 L1029.57 344.96 L1029.92 344.35 L1030.27 343.77 L1030.62 343.2 L1030.98 342.65 L1031.34 342.11 L1031.7 341.59 L1032.07 341.06 L1033.85 341.17 L1034.06 341.93 L1034.92 313.56 L1034.94 286.3 L1034.96 260.51 L1034.98 236.1 L1035 213 L1035 208.08 L1035.01 214.56 L1035.01 221.76 L1035.02 229.78 L1035.02 238.68 L1035.03 248.59 L1035.04 259.6 L1035.05 271.84 L1035.06 285.46 L1035.07 300.59 L1035.09 317.42 L1035.1 336.14 L1035.11 343.22 L1034.06 341.93 L1034.39 343.22 L1034.53 345.74 L1034.6 348.98 L1034.64 465.84 L1035.43 354.02 L1035.44 363.38 L1035.44 372.74 L1035.45 382.1 L1035.46 391.46 L1035.46 400.82 L1035.47 410.18 L1035.47 419.54 L1035.48 428.9 L1035.49 438.26 L1035.49 447.62 L1035.5 456.98 L1035.5 465.84 L1035.59 472.32 L1035.68 478.67 L1035.77 484.9 L1035.86 491.01 L1035.94 497 L1036.02 502.87 L1036.1 508.63 L1036.18 514.27 L1036.26 519.81 L1036.34 525.24 L1036.41 530.56 L1036.49 535.78 L1036.56 540.9 L1036.63 545.91 L1036.7 550.83 L1036.76 555.65 L1036.8 558.22 L1036.82 556.29 L1036.86 552.43 L1036.92 547.29 L1036.99 541.17 L1037.07 534.28 L1037.16 526.79 L1037.26 518.86 L1037.37 510.61 L1037.48 502.15 L1037.61 493.58 L1037.74 484.98 L1037.88 476.44 L1038.03 468.02 L1038.19 459.76 L1038.35 451.73 L1038.52 443.96 L1038.69 436.47 L1038.87 429.29 L1039.06 422.45 L1039.25 415.95 L1039.45 409.8 L1039.66 403.99 L1039.87 398.54 L1040.08 393.44 L1040.3 388.67 L1040.53 384.23 L1040.76 380.11 L1041 376.29 L1041.24 372.76 L1041.49 369.5 L1041.74 366.5 L1042 363.74 L1042.26 361.2 L1042.53 358.87 L1042.8 356.73 L1043.08 354.77 L1043.36 352.98 L1043.65 351.33 L1043.94 349.82 L1044.23 348.43 L1044.53 347.15 L1044.84 345.97 L1045.14 344.88 L1045.46 343.87 L1045.77 342.94 L1046.1 342.06 L1046.42 341.24 L1046.75 340.47 L1047.08 339.75 L1047.42 339.06 L1047.76 338.4 L1048.11 337.77 L1048.46 337.16 L1048.81 336.58 L1049.17 336.01 L1049.53 335.46 L1049.9 334.92 L1050.27 334.39 L1050.64 333.86 L1052.42 333.97 L1052.64 334.73 L1053.49 306.36 L1053.51 279.1 L1053.53 253.31 L1053.55 228.9 L1053.57 205.8 L1053.58 200.88 L1053.58 207.36 L1053.59 214.56 L1053.59 222.58 L1053.6 231.48 L1053.61 241.39 L1053.62 252.4 L1053.63 264.64 L1053.64 278.26 L1053.65 293.39 L1053.66 310.22 L1053.68 328.94 L1053.68 336.02 L1052.64 334.73 L1052.96 336.02 L1053.11 338.54 L1053.18 341.78 L1053.22 460.08 L1054.01 346.82 L1054.01 356.18 L1054.02 365.54 L1054.03 374.9 L1054.03 384.26 L1054.04 393.62 L1054.04 402.98 L1054.05 412.34 L1054.06 421.7 L1054.06 431.06 L1054.07 440.42 L1054.07 449.78 L1054.08 459.14 L1054.08 460.08 L1054.17 466.56 L1054.26 472.91 L1054.35 479.14 L1054.43 485.25 L1054.51 491.25 L1054.6 497.12 L1054.68 502.88 L1054.76 508.53 L1054.83 514.07 L1054.91 519.51 L1054.98 524.83 L1055.06 530.06 L1055.13 535.18 L1055.2 540.21 L1055.27 545.13 L1055.33 549.96 L1055.38 552.96 L1055.4 551.03 L1055.44 547.17 L1055.49 542.01 L1055.56 535.87 L1055.64 528.97 L1055.73 521.46 L1055.83 513.51 L1055.93 505.24 L1056.05 496.76 L1056.17 488.18 L1056.3 479.56 L1056.44 471 L1056.59 462.56 L1056.74 454.29 L1056.9 446.24 L1057.06 438.44 L1057.23 430.94 L1057.41 423.75 L1057.6 416.89 L1057.79 410.37 L1057.98 404.21 L1058.18 398.39 L1058.39 392.93 L1058.6 387.81 L1058.82 383.04 L1059.04 378.59 L1059.27 374.46 L1059.5 370.63 L1059.74 367.09 L1059.98 363.82 L1060.23 360.81 L1060.49 358.04 L1060.74 355.5 L1061.01 353.17 L1061.27 351.02 L1061.55 349.06 L1061.82 347.26 L1062.1 345.61 L1062.39 344.09 L1062.68 342.7 L1062.97 341.42 L1063.27 340.24 L1063.57 339.15 L1063.88 338.14 L1064.19 337.2 L1064.51 336.32 L1064.83 335.5 L1065.15 334.73 L1065.48 334 L1065.81 333.31 L1066.15 332.65 L1066.49 332.02 L1066.83 331.41 L1067.18 330.83 L1067.53 330.26 L1067.89 329.7 L1068.25 329.16 L1068.61 328.63 L1068.98 328.1 L1070.71 328.21 L1070.93 328.97 L1071.78 300.6 L1071.8 273.32 L1071.82 247.48 L1071.84 223 L1071.86 199.82 L1071.86 192.96 L1071.87 199.44 L1071.87 206.63 L1071.88 214.62 L1071.89 223.48 L1071.9 233.33 L1071.9 244.25 L1071.91 256.38 L1071.92 269.84 L1071.94 284.79 L1071.95 301.38 L1071.96 319.8 L1071.97 330.26 L1070.93 328.97 L1071.25 330.26 L1071.4 332.78 L1071.47 336.02 L1071.5 454.32 L1072.3 341.06 L1072.3 350.42 L1072.31 359.78 L1072.31 369.14 L1072.32 378.5 L1072.33 387.86 L1072.33 397.22 L1072.34 406.58 L1072.34 415.94 L1072.35 425.3 L1072.36 434.66 L1072.36 444.02 L1072.37 453.38 L1072.37 454.32 L1072.41 460.8 L1072.46 467.15 L1072.5 473.39 L1072.54 479.5 L1072.59 485.49 L1072.63 491.36 L1072.67 497.13 L1072.71 502.78 L1072.74 508.32 L1072.78 513.75 L1072.82 519.08 L1072.86 524.3 L1072.89 529.43 L1072.93 534.45 L1072.96 539.38 L1073 544.21 L1073.02 547.2 L1073.04 545.27 L1073.08 541.4 L1073.13 536.24 L1073.2 530.1 L1073.28 523.19 L1073.37 515.68 L1073.47 507.73 L1073.58 499.45 L1073.7 490.97 L1073.82 482.37 L1073.95 473.76 L1074.09 465.19 L1074.24 456.74 L1074.39 448.46 L1074.55 440.41 L1074.72 432.61 L1074.9 425.1 L1075.08 417.91 L1075.26 411.04 L1075.45 404.52 L1075.65 398.35 L1075.86 392.53 L1076.06 387.07 L1076.28 381.95 L1076.5 377.17 L1076.73 372.72 L1076.96 368.58 L1077.19 364.75 L1077.43 361.21 L1077.68 357.94 L1077.93 354.93 L1078.19 352.16 L1078.45 349.61 L1078.71 347.28 L1078.98 345.13 L1079.26 343.17 L1079.54 341.37 L1079.82 339.72 L1080.11 338.2 L1080.41 336.81 L1080.7 335.53 L1081.01 334.34 L1081.31 333.25 L1081.62 332.24 L1081.94 331.3 L1082.26 330.42 L1082.58 329.6 L1082.91 328.83 L1083.24 328.1 L1083.58 327.41 L1083.92 326.75 L1084.26 326.12 L1084.61 325.51 L1084.96 324.92 L1085.32 324.35 L1085.68 323.8 L1086.04 323.26 L1086.41 322.72 L1086.78 322.2 L1088.42 322.31 L1088.64 323.06 L1089.49 294.7 L1089.51 267.36 L1089.53 241.42 L1089.55 216.8 L1089.57 193.44 L1089.58 182.16 L1089.58 188.64 L1089.59 195.81 L1089.59 203.74 L1089.6 212.51 L1089.61 222.22 L1089.61 232.96 L1089.62 244.84 L1089.63 257.99 L1089.64 272.53 L1089.66 288.62 L1089.67 306.42 L1089.68 324.36 L1088.64 323.06 L1088.96 324.36 L1089.11 326.88 L1089.18 330.12 L1089.22 448.56 L1090.01 335.16 L1090.01 344.52 L1090.02 353.88 L1090.03 363.24 L1090.03 372.6 L1090.04 381.96 L1090.04 391.32 L1090.05 400.68 L1090.06 410.04 L1090.06 419.4 L1090.07 428.76 L1090.07 438.12 L1090.08 447.48 L1090.08 448.56 L1090.16 455.04 L1090.23 461.39 L1090.3 467.62 L1090.37 473.73 L1090.44 479.72 L1090.51 485.6 L1090.58 491.36 L1090.64 497.01 L1090.71 502.54 L1090.77 507.98 L1090.83 513.3 L1090.9 518.52 L1090.96 523.64 L1091.01 528.66 L1091.07 533.59 L1091.13 538.42 L1091.16 541.22 L1091.18 539.3 L1091.22 535.43 L1091.27 530.28 L1091.34 524.14 L1091.42 517.24 L1091.51 509.74 L1091.6 501.79 L1091.71 493.52 L1091.82 485.05 L1091.94 476.46 L1092.07 467.85 L1092.21 459.29 L1092.35 450.85 L1092.5 442.58 L1092.66 434.53 L1092.82 426.74 L1092.99 419.24 L1093.16 412.05 L1093.35 405.2 L1093.53 398.68 L1093.72 392.52 L1093.92 386.71 L1094.13 381.25 L1094.34 376.13 L1094.55 371.35 L1094.77 366.91 L1094.99 362.78 L1095.22 358.95 L1095.46 355.41 L1095.7 352.14 L1095.94 349.14 L1096.19 346.37 L1096.45 343.83 L1096.7 341.49 L1096.97 339.35 L1097.24 337.39 L1097.51 335.59 L1097.78 333.94 L1098.07 332.43 L1098.35 331.03 L1098.64 329.75 L1098.93 328.57 L1099.23 327.48 L1099.54 326.47 L1099.84 325.53 L1100.15 324.65 L1100.47 323.83 L1100.79 323.06 L1101.11 322.33 L1101.44 321.64 L1101.77 320.98 L1102.1 320.35 L1102.44 319.75 L1102.78 319.16 L1103.13 318.59 L1103.48 318.04 L1103.83 317.5 L1104.19 316.96 L1104.55 316.44 L1106.21 316.55 L1106.42 317.3 L1107.27 288.94 L1107.29 261.59 L1107.31 235.62 L1107.33 210.96 L1107.35 187.55 L1107.36 174.96 L1107.36 181.44 L1107.37 188.6 L1107.38 196.52 L1107.38 205.27 L1107.39 214.94 L1107.4 225.63 L1107.41 237.44 L1107.42 250.5 L1107.43 264.93 L1107.44 280.88 L1107.45 298.51 L1107.47 317.99 L1107.47 318.6 L1106.42 317.3 L1106.75 318.6 L1106.89 321.12 L1106.96 324.36 L1107 442.8 L1107.79 329.4 L1107.8 338.76 L1107.8 348.12 L1107.81 357.48 L1107.82 366.84 L1107.82 376.2 L1107.83 385.56 L1107.83 394.92 L1107.84 404.28 L1107.85 413.64 L1107.85 423 L1107.86 432.36 L1107.86 441.72 L1107.86 442.8 L1107.91 449.28 L1107.96 455.64 L1108.01 461.87 L1108.06 467.98 L1108.1 473.98 L1108.15 479.86 L1108.19 485.62 L1108.24 491.28 L1108.28 496.83 L1108.32 502.27 L1108.36 507.61 L1108.4 512.84 L1108.44 517.97 L1108.48 523.01 L1108.52 527.94 L1108.56 532.79 L1108.58 536.4 L1108.6 534.47 L1108.64 530.59 L1108.7 525.43 L1108.76 519.28 L1108.84 512.35 L1108.92 504.83 L1109.02 496.87 L1109.12 488.58 L1109.23 480.08 L1109.35 471.47 L1109.48 462.84 L1109.61 454.26 L1109.76 445.8 L1109.9 437.51 L1110.06 429.44 L1110.22 421.63 L1110.38 414.11 L1110.56 406.9 L1110.73 400.02 L1110.92 393.49 L1111.11 387.31 L1111.3 381.49 L1111.5 376.01 L1111.71 370.88 L1111.92 366.1 L1112.14 361.64 L1112.36 357.5 L1112.58 353.66 L1112.81 350.11 L1113.05 346.84 L1113.29 343.82 L1113.53 341.05 L1113.78 338.5 L1114.04 336.16 L1114.3 334.01 L1114.56 332.04 L1114.83 330.24 L1115.1 328.59 L1115.38 327.07 L1115.66 325.67 L1115.94 324.39 L1116.23 323.2 L1116.53 322.11 L1116.82 321.1 L1117.13 320.15 L1117.43 319.27 L1117.74 318.45 L1118.06 317.68 L1118.37 316.95 L1118.69 316.25 L1119.02 315.59 L1119.35 314.96 L1119.68 314.35 L1120.02 313.77 L1120.36 313.2 L1120.7 312.64 L1121.05 312.1 L1121.4 311.57 L1121.76 311.04" style="stroke-width:1.7;stroke-linecap:square"/>
<path d="M212.71 707.07 L212.97 703.79 L213.25 700.55 L213.54 697.36 L213.83 694.24 L214.13 691.19 L214.44 688.22 L214.76 685.33 L215.09 682.52 L215.42 679.8 L215.76 677.17 L216.11 674.64 L216.46 672.2 L216.82 669.86 L217.19 667.62 L217.57 665.47 L217.95 663.41 L218.34 661.46 L218.74 659.59 L219.14 657.82 L219.55 656.13 L219.97 654.54 L220.39 653.03 L220.82 651.6 L221.26 650.26 L221.7 648.99 L222.15 647.8 L222.6 646.67 L223.06 645.62 L223.53 644.64 L224 643.71 L224.48 642.85 L224.97 642.04 L225.46 641.29 L225.95 640.59 L226.46 639.94 L226.96 639.33 L227.48 638.77 L228 638.25 L228.52 637.77 L229.05 637.32 L229.59 636.91 L230.59 636.62 L231.45 636.84 L231.77 637.27 L231.98 637.49 M238.07 700.08 L238.34 696.51 L238.62 692.99 L238.91 689.52 L239.21 686.12 L239.52 682.8 L239.84 679.55 L240.16 676.39 L240.5 673.33 L240.84 670.36 L241.19 667.49 L241.55 664.72 L241.91 662.06 L242.28 659.5 L242.66 657.05 L243.05 654.71 L243.45 652.47 L243.85 650.33 L244.26 648.3 L244.67 646.37 L245.1 644.54 L245.53 642.8 L245.97 641.16 L246.41 639.61 L246.86 638.15 L247.32 636.77 L247.78 635.47 L248.25 634.26 L248.73 633.12 L249.21 632.05 L249.7 631.05 L250.2 630.11 L250.7 629.24 L251.21 628.42 L251.72 627.66 L252.24 626.95 L252.77 626.3 L253.3 625.69 L253.84 625.12 L254.39 624.59 L254.94 624.1 L255.49 623.65 L256.05 623.23 L257.11 622.94 L258.02 623.16 L258.41 623.59 L258.62 623.81 M264.49 689.74 L264.76 685.95 L265.05 682.21 L265.35 678.53 L265.66 674.94 L265.97 671.43 L266.3 668.01 L266.63 664.69 L266.97 661.48 L267.32 658.37 L267.68 655.37 L268.04 652.49 L268.41 649.73 L268.8 647.07 L269.18 644.54 L269.58 642.12 L269.99 639.81 L270.4 637.62 L270.82 635.54 L271.24 633.56 L271.67 631.7 L272.11 629.93 L272.56 628.26 L273.02 626.69 L273.48 625.21 L273.95 623.82 L274.42 622.52 L274.9 621.3 L275.39 620.15 L275.88 619.08 L276.38 618.08 L276.89 617.14 L277.41 616.27 L277.93 615.46 L278.45 614.7 L278.98 613.99 L279.52 613.34 L280.07 612.73 L280.62 612.16 L281.18 611.64 L281.74 611.15 L282.31 610.69 L282.88 610.27 L283.94 609.98 L284.86 610.2 L285.26 610.63 L285.48 610.85 M291.57 680.46 L291.85 676.48 L292.15 672.56 L292.45 668.73 L292.77 664.98 L293.09 661.33 L293.42 657.78 L293.77 654.34 L294.12 651.02 L294.48 647.82 L294.84 644.74 L295.22 641.79 L295.6 638.96 L295.99 636.25 L296.39 633.67 L296.8 631.22 L297.22 628.88 L297.64 626.67 L298.07 624.57 L298.51 622.59 L298.95 620.71 L299.4 618.95 L299.86 617.29 L300.33 615.72 L300.8 614.26 L301.28 612.88 L301.77 611.59 L302.26 610.38 L302.77 609.25 L303.27 608.2 L303.79 607.21 L304.31 606.3 L304.84 605.44 L305.37 604.64 L305.91 603.9 L306.46 603.21 L307.01 602.57 L307.57 601.97 L308.14 601.41 L308.71 600.89 L309.29 600.41 L309.87 599.96 L310.46 599.54 L311.57 599.33 L312.52 599.49 L312.98 599.87 L313.2 600.19 M318.59 674.71 L318.87 670.45 L319.16 666.25 L319.46 662.13 L319.77 658.1 L320.08 654.18 L320.41 650.36 L320.74 646.67 L321.09 643.1 L321.44 639.65 L321.8 636.34 L322.17 633.17 L322.55 630.13 L322.94 627.23 L323.33 624.47 L323.73 621.84 L324.14 619.34 L324.56 616.98 L324.99 614.74 L325.42 612.62 L325.86 610.63 L326.31 608.75 L326.76 606.98 L327.22 605.32 L327.69 603.77 L328.17 602.31 L328.65 600.95 L329.15 599.67 L329.64 598.48 L330.15 597.37 L330.66 596.33 L331.18 595.36 L331.7 594.46 L332.23 593.62 L332.77 592.84 L333.31 592.11 L333.86 591.43 L334.42 590.8 L334.99 590.21 L335.56 589.66 L336.13 589.15 L336.71 588.67 L337.3 588.23 L337.9 587.81 L339.02 587.66 L339.99 587.77 L340.49 588.1 L340.7 588.53 M346.26 665.29 L346.53 660.85 L346.82 656.49 L347.11 652.22 L347.41 648.06 L347.72 644.01 L348.04 640.09 L348.37 636.3 L348.71 632.65 L349.05 629.14 L349.41 625.78 L349.77 622.57 L350.14 619.5 L350.52 616.58 L350.9 613.8 L351.3 611.17 L351.7 608.68 L352.11 606.32 L352.53 604.1 L352.95 602.01 L353.38 600.04 L353.82 598.2 L354.27 596.46 L354.72 594.84 L355.18 593.32 L355.65 591.91 L356.12 590.58 L356.6 589.34 L357.09 588.19 L357.59 587.12 L358.09 586.12 L358.6 585.19 L359.11 584.32 L359.63 583.51 L360.16 582.76 L360.69 582.06 L361.23 581.4 L361.78 580.79 L362.33 580.22 L362.89 579.69 L363.45 579.19 L364.02 578.72 L364.6 578.29 L365.18 577.87 L366.33 577.8 L367.32 577.85 L367.85 578.12 L368.06 578.66 M373.42 660.34 L373.68 655.64 L373.96 651.01 L374.24 646.47 L374.53 642.05 L374.83 637.75 L375.14 633.58 L375.46 629.55 L375.78 625.68 L376.12 621.95 L376.47 618.38 L376.82 614.98 L377.18 611.73 L377.55 608.64 L377.93 605.7 L378.31 602.93 L378.7 600.3 L379.1 597.83 L379.51 595.5 L379.93 593.3 L380.35 591.25 L380.78 589.32 L381.22 587.51 L381.66 585.82 L382.12 584.25 L382.58 582.77 L383.04 581.4 L383.51 580.12 L383.99 578.93 L384.48 577.82 L384.97 576.79 L385.47 575.83 L385.98 574.94 L386.49 574.11 L387.01 573.33 L387.54 572.61 L388.07 571.94 L388.61 571.31 L389.15 570.72 L389.7 570.17 L390.26 569.65 L390.82 569.17 L391.39 568.71 L391.96 568.27 L392.54 567.86 L395.71 567.97 L395.93 568.73 M401.1 650.85 L401.36 645.97 L401.63 641.18 L401.9 636.5 L402.19 631.94 L402.49 627.52 L402.79 623.25 L403.1 619.13 L403.43 615.18 L403.76 611.39 L404.09 607.77 L404.44 604.33 L404.8 601.05 L405.16 597.94 L405.53 595 L405.91 592.22 L406.3 589.61 L406.69 587.15 L407.09 584.84 L407.5 582.67 L407.92 580.64 L408.34 578.74 L408.77 576.97 L409.21 575.32 L409.65 573.78 L410.1 572.35 L410.56 571.02 L411.02 569.78 L411.5 568.63 L411.97 567.56 L412.46 566.56 L412.95 565.64 L413.45 564.78 L413.95 563.98 L414.46 563.23 L414.98 562.54 L415.5 561.89 L416.03 561.28 L416.57 560.71 L417.11 560.18 L417.65 559.68 L418.21 559.2 L418.77 558.76 L419.33 558.33 L419.9 557.93 L423.07 558.04 L423.29 558.79 M428.9 642.03 L429.15 636.96 L429.41 631.99 L429.67 627.15 L429.95 622.45 L430.24 617.91 L430.53 613.52 L430.84 609.31 L431.15 605.28 L431.47 601.43 L431.8 597.76 L432.14 594.28 L432.48 590.97 L432.83 587.85 L433.19 584.91 L433.56 582.13 L433.94 579.53 L434.32 577.09 L434.71 574.8 L435.1 572.66 L435.51 570.67 L435.92 568.81 L436.34 567.08 L436.76 565.47 L437.19 563.97 L437.63 562.58 L438.07 561.29 L438.53 560.09 L438.98 558.98 L439.45 557.95 L439.92 556.99 L440.39 556.1 L440.88 555.28 L441.37 554.51 L441.86 553.79 L442.36 553.12 L442.87 552.5 L443.38 551.91 L443.9 551.36 L444.43 550.85 L444.96 550.36 L445.5 549.9 L446.04 549.46 L446.59 549.04 L447.14 548.64 L450.29 548.75 L450.5 549.5 M455.84 638.12 L456.07 632.77 L456.32 627.52 L456.57 622.39 L456.84 617.41 L457.11 612.58 L457.39 607.93 L457.68 603.46 L457.98 599.17 L458.29 595.08 L458.6 591.19 L458.92 587.49 L459.25 583.99 L459.59 580.69 L459.94 577.57 L460.29 574.64 L460.65 571.9 L461.02 569.32 L461.4 566.92 L461.78 564.67 L462.17 562.58 L462.57 560.64 L462.97 558.83 L463.38 557.15 L463.8 555.59 L464.22 554.15 L464.65 552.81 L465.09 551.58 L465.53 550.43 L465.98 549.37 L466.44 548.38 L466.9 547.47 L467.37 546.62 L467.84 545.83 L468.32 545.1 L468.81 544.42 L469.3 543.78 L469.8 543.18 L470.3 542.62 L470.81 542.09 L471.33 541.59 L471.85 541.11 L472.38 540.66 L472.91 540.23 L473.45 539.82 L473.99 539.42 L477.07 539.53 L477.29 540.29 M482.61 629.13 L482.85 623.57 L483.09 618.14 L483.35 612.85 L483.61 607.73 L483.88 602.78 L484.16 598.03 L484.45 593.47 L484.75 589.12 L485.06 584.99 L485.37 581.06 L485.69 577.35 L486.02 573.84 L486.36 570.55 L486.7 567.45 L487.06 564.55 L487.42 561.84 L487.78 559.31 L488.16 556.96 L488.54 554.77 L488.93 552.73 L489.32 550.85 L489.73 549.1 L490.14 547.48 L490.55 545.99 L490.97 544.61 L491.4 543.33 L491.84 542.15 L492.28 541.05 L492.73 540.04 L493.18 539.11 L493.64 538.24 L494.11 537.44 L494.58 536.69 L495.06 535.99 L495.55 535.34 L496.04 534.73 L496.53 534.16 L497.04 533.62 L497.55 533.11 L498.06 532.62 L498.58 532.16 L499.11 531.72 L499.64 531.3 L500.18 530.89 L500.72 530.5 L503.78 530.6 L504 531.36 M509.21 620.28 L509.44 614.5 L509.67 608.86 L509.92 603.38 L510.18 598.09 L510.45 593.01 L510.72 588.13 L511 583.48 L511.29 579.06 L511.59 574.87 L511.9 570.91 L512.21 567.17 L512.53 563.66 L512.86 560.38 L513.2 557.3 L513.55 554.43 L513.9 551.76 L514.26 549.28 L514.62 546.97 L514.99 544.84 L515.37 542.86 L515.76 541.04 L516.15 539.36 L516.55 537.8 L516.96 536.37 L517.37 535.05 L517.79 533.83 L518.21 532.7 L518.64 531.66 L519.08 530.7 L519.53 529.82 L519.98 528.99 L520.43 528.23 L520.89 527.52 L521.36 526.85 L521.83 526.23 L522.31 525.65 L522.8 525.1 L523.29 524.57 L523.79 524.08 L524.29 523.61 L524.8 523.15 L525.31 522.72 L525.83 522.3 L526.35 521.89 L526.88 521.5 L529.85 521.6 L530.06 522.36 M535.09 616.9 L535.31 610.76 L535.54 604.76 L535.77 598.94 L536.02 593.3 L536.27 587.88 L536.53 582.69 L536.8 577.73 L537.08 573.02 L537.36 568.56 L537.66 564.35 L537.96 560.39 L538.27 556.67 L538.59 553.19 L538.91 549.94 L539.24 546.92 L539.58 544.11 L539.93 541.51 L540.28 539.1 L540.64 536.87 L541.01 534.82 L541.38 532.92 L541.76 531.18 L542.15 529.58 L542.54 528.1 L542.94 526.75 L543.34 525.5 L543.76 524.35 L544.17 523.29 L544.6 522.32 L545.03 521.41 L545.47 520.58 L545.91 519.81 L546.36 519.09 L546.81 518.41 L547.27 517.78 L547.74 517.19 L548.21 516.64 L548.69 516.11 L549.17 515.61 L549.66 515.13 L550.15 514.66 L550.65 514.22 L551.16 513.79 L551.67 513.37 L552.18 512.97 L552.71 512.57 L555.62 512.68 L555.84 513.43 M560.94 607.37 L561.16 600.98 L561.38 594.77 L561.62 588.75 L561.86 582.96 L562.12 577.41 L562.38 572.11 L562.65 567.08 L562.92 562.32 L563.21 557.83 L563.5 553.61 L563.8 549.66 L564.11 545.98 L564.43 542.54 L564.75 539.35 L565.09 536.4 L565.42 533.66 L565.77 531.14 L566.12 528.82 L566.48 526.68 L566.85 524.72 L567.22 522.92 L567.6 521.26 L567.99 519.75 L568.38 518.36 L568.78 517.08 L569.19 515.91 L569.6 514.84 L570.02 513.85 L570.44 512.94 L570.87 512.09 L571.31 511.31 L571.75 510.59 L572.2 509.91 L572.65 509.28 L573.11 508.68 L573.58 508.12 L574.05 507.58 L574.53 507.08 L575.01 506.59 L575.5 506.12 L575.99 505.67 L576.49 505.23 L577 504.8 L577.51 504.38 L578.02 503.97 L578.54 503.57 L581.47 503.68 L581.69 504.43 M586.68 600.55 L586.89 594.03 L587.11 587.69 L587.34 581.55 L587.57 575.64 L587.82 569.98 L588.07 564.58 L588.34 559.44 L588.61 554.59 L588.89 550.01 L589.17 545.7 L589.47 541.67 L589.77 537.91 L590.08 534.41 L590.4 531.15 L590.72 528.14 L591.05 525.35 L591.39 522.77 L591.73 520.4 L592.08 518.22 L592.44 516.22 L592.8 514.38 L593.17 512.69 L593.55 511.15 L593.93 509.73 L594.32 508.43 L594.72 507.24 L595.12 506.14 L595.53 505.13 L595.94 504.2 L596.36 503.34 L596.79 502.54 L597.22 501.8 L597.65 501.11 L598.1 500.47 L598.55 499.86 L599 499.28 L599.46 498.74 L599.93 498.22 L600.4 497.72 L600.87 497.24 L601.36 496.78 L601.84 496.34 L602.34 495.9 L602.83 495.47 L603.34 495.05 L603.85 494.64 L606.67 494.75 L606.89 495.5 M611.63 593.88 L611.84 587.26 L612.05 580.82 L612.28 574.58 L612.51 568.58 L612.75 562.82 L613.01 557.33 L613.26 552.12 L613.53 547.18 L613.8 542.53 L614.09 538.16 L614.37 534.07 L614.67 530.24 L614.97 526.68 L615.28 523.38 L615.6 520.31 L615.93 517.48 L616.26 514.87 L616.6 512.46 L616.94 510.24 L617.29 508.21 L617.65 506.34 L618.01 504.63 L618.38 503.06 L618.76 501.62 L619.14 500.3 L619.53 499.08 L619.93 497.97 L620.33 496.94 L620.73 496 L621.15 495.13 L621.56 494.32 L621.99 493.56 L622.42 492.86 L622.85 492.21 L623.29 491.59 L623.74 491 L624.19 490.45 L624.65 489.92 L625.11 489.42 L625.58 488.93 L626.05 488.47 L626.53 488.01 L627.02 487.57 L627.51 487.13 L628 486.71 L628.5 486.29 L631.22 486.4 L631.44 487.15 M636.13 587.13 L636.33 580.35 L636.54 573.76 L636.76 567.38 L636.99 561.23 L637.23 555.34 L637.47 549.72 L637.72 544.38 L637.98 539.33 L638.24 534.57 L638.52 530.1 L638.8 525.91 L639.08 521.99 L639.38 518.35 L639.68 514.97 L639.99 511.83 L640.3 508.93 L640.63 506.25 L640.95 503.79 L641.29 501.52 L641.63 499.44 L641.98 497.53 L642.33 495.77 L642.69 494.17 L643.05 492.69 L643.42 491.34 L643.8 490.1 L644.18 488.96 L644.57 487.91 L644.97 486.94 L645.37 486.05 L645.77 485.22 L646.19 484.45 L646.6 483.73 L647.03 483.06 L647.45 482.42 L647.89 481.83 L648.32 481.26 L648.77 480.72 L649.22 480.21 L649.67 479.71 L650.13 479.23 L650.6 478.76 L651.07 478.31 L651.54 477.87 L652.02 477.43 L652.51 477 L655.13 477.11 L655.34 477.86 M660.58 580.63 L660.78 573.75 L660.98 567.06 L661.19 560.58 L661.42 554.35 L661.65 548.37 L661.88 542.67 L662.13 537.25 L662.38 532.12 L662.64 527.29 L662.91 522.75 L663.18 518.5 L663.46 514.53 L663.75 510.83 L664.05 507.39 L664.35 504.21 L664.66 501.27 L664.97 498.55 L665.29 496.05 L665.62 493.75 L665.95 491.64 L666.29 489.7 L666.64 487.92 L666.99 486.28 L667.35 484.79 L667.71 483.42 L668.08 482.16 L668.45 481 L668.83 479.93 L669.22 478.95 L669.61 478.04 L670.01 477.2 L670.41 476.42 L670.82 475.69 L671.23 475.01 L671.65 474.37 L672.07 473.76 L672.5 473.19 L672.94 472.64 L673.38 472.12 L673.82 471.61 L674.27 471.13 L674.72 470.65 L675.18 470.19 L675.65 469.74 L676.12 469.3 L676.59 468.86 L679.25 468.97 L679.46 469.73 M684.1 573.55 L684.3 566.52 L684.5 559.68 L684.71 553.06 L684.93 546.68 L685.16 540.57 L685.39 534.74 L685.64 529.2 L685.89 523.96 L686.14 519.02 L686.41 514.38 L686.68 510.03 L686.96 505.97 L687.24 502.19 L687.53 498.68 L687.83 495.42 L688.13 492.42 L688.44 489.64 L688.76 487.08 L689.08 484.73 L689.41 482.57 L689.75 480.59 L690.09 478.77 L690.44 477.1 L690.79 475.57 L691.15 474.16 L691.51 472.88 L691.88 471.69 L692.26 470.61 L692.64 469.6 L693.03 468.67 L693.42 467.81 L693.82 467.02 L694.22 466.27 L694.63 465.57 L695.04 464.92 L695.46 464.3 L695.88 463.71 L696.31 463.15 L696.75 462.61 L697.19 462.1 L697.63 461.6 L698.08 461.12 L698.53 460.65 L698.99 460.19 L699.45 459.73 L699.92 459.29 L702.43 459.4 L702.65 460.15 M707.36 566.7 L707.55 559.54 L707.76 552.57 L707.97 545.82 L708.19 539.33 L708.41 533.1 L708.65 527.16 L708.89 521.52 L709.14 516.18 L709.4 511.15 L709.66 506.42 L709.93 501.99 L710.21 497.85 L710.49 494 L710.78 490.42 L711.08 487.11 L711.39 484.04 L711.7 481.21 L712.01 478.61 L712.34 476.21 L712.66 474.01 L713 471.99 L713.34 470.13 L713.69 468.43 L714.04 466.87 L714.4 465.45 L714.76 464.13 L715.13 462.93 L715.51 461.82 L715.89 460.8 L716.28 459.85 L716.67 458.97 L717.07 458.16 L717.47 457.4 L717.88 456.69 L718.29 456.02 L718.71 455.39 L719.13 454.79 L719.56 454.22 L719.99 453.68 L720.43 453.15 L720.88 452.64 L721.32 452.15 L721.78 451.67 L722.24 451.2 L722.7 450.74 L723.17 450.29 L725.69 450.4 L725.9 451.15 M730.52 559.86 L730.71 552.56 L730.91 545.46 L731.12 538.59 L731.34 531.97 L731.56 525.63 L731.79 519.58 L732.03 513.84 L732.28 508.4 L732.53 503.27 L732.79 498.45 L733.06 493.94 L733.33 489.73 L733.61 485.81 L733.9 482.16 L734.2 478.79 L734.5 475.66 L734.8 472.78 L735.11 470.13 L735.43 467.69 L735.76 465.45 L736.09 463.39 L736.42 461.5 L736.77 459.77 L737.11 458.18 L737.47 456.73 L737.83 455.39 L738.19 454.16 L738.56 453.03 L738.94 451.99 L739.32 451.03 L739.71 450.14 L740.1 449.31 L740.5 448.53 L740.9 447.81 L741.31 447.13 L741.72 446.49 L742.14 445.88 L742.56 445.3 L742.99 444.74 L743.42 444.2 L743.86 443.69 L744.3 443.19 L744.75 442.7 L745.2 442.22 L745.66 441.75 L746.12 441.29 L748.58 441.4 L748.8 442.15 M752.98 553.47 L753.17 546.09 L753.37 538.9 L753.57 531.94 L753.79 525.24 L754.01 518.82 L754.24 512.7 L754.48 506.88 L754.72 501.38 L754.97 496.19 L755.23 491.31 L755.5 486.74 L755.77 482.48 L756.05 478.51 L756.33 474.82 L756.62 471.4 L756.92 468.24 L757.23 465.32 L757.54 462.64 L757.85 460.17 L758.18 457.9 L758.51 455.81 L758.84 453.9 L759.18 452.15 L759.53 450.54 L759.88 449.07 L760.23 447.72 L760.6 446.47 L760.96 445.33 L761.34 444.27 L761.72 443.3 L762.1 442.4 L762.49 441.56 L762.88 440.77 L763.28 440.04 L763.69 439.35 L764.1 438.7 L764.51 438.08 L764.93 437.5 L765.36 436.93 L765.79 436.39 L766.22 435.87 L766.66 435.36 L767.11 434.87 L767.56 434.38 L768.01 433.91 L768.47 433.44 L770.83 433.55 L771.05 434.3 M775.45 547.27 L775.64 539.76 L775.83 532.44 L776.03 525.36 L776.23 518.54 L776.45 512 L776.67 505.77 L776.9 499.85 L777.13 494.25 L777.37 488.96 L777.62 484 L777.88 479.35 L778.14 475.01 L778.41 470.96 L778.68 467.21 L778.96 463.73 L779.25 460.51 L779.54 457.54 L779.84 454.81 L780.15 452.29 L780.46 449.98 L780.77 447.86 L781.09 445.92 L781.42 444.13 L781.75 442.5 L782.09 441 L782.43 439.62 L782.78 438.35 L783.14 437.19 L783.5 436.12 L783.86 435.12 L784.23 434.21 L784.6 433.35 L784.98 432.55 L785.37 431.81 L785.76 431.11 L786.15 430.44 L786.55 429.82 L786.95 429.22 L787.36 428.64 L787.78 428.09 L788.19 427.56 L788.62 427.04 L789.05 426.54 L789.48 426.05 L789.91 425.56 L790.36 425.09 L792.65 425.2 L792.86 425.95 M797.25 540.8 L797.43 533.19 L797.62 525.77 L797.82 518.6 L798.02 511.69 L798.24 505.07 L798.46 498.76 L798.68 492.76 L798.91 487.08 L799.15 481.73 L799.4 476.7 L799.65 471.99 L799.91 467.59 L800.18 463.5 L800.45 459.69 L800.72 456.17 L801.01 452.91 L801.3 449.9 L801.59 447.13 L801.89 444.59 L802.2 442.24 L802.51 440.1 L802.83 438.12 L803.15 436.32 L803.48 434.66 L803.82 433.14 L804.16 431.74 L804.5 430.46 L804.85 429.28 L805.21 428.2 L805.57 427.19 L805.93 426.26 L806.3 425.39 L806.68 424.59 L807.06 423.83 L807.44 423.12 L807.83 422.45 L808.23 421.81 L808.63 421.21 L809.03 420.63 L809.44 420.07 L809.85 419.53 L810.27 419.01 L810.69 418.5 L811.12 418 L811.55 417.51 L811.99 417.02 L814.25 417.13 L814.46 417.89 M818.99 534.39 L819.16 526.68 L819.35 519.18 L819.55 511.92 L819.75 504.92 L819.96 498.22 L820.18 491.83 L820.4 485.76 L820.63 480.02 L820.87 474.6 L821.11 469.51 L821.36 464.74 L821.62 460.29 L821.88 456.14 L822.15 452.29 L822.42 448.73 L822.71 445.43 L822.99 442.38 L823.28 439.58 L823.58 437 L823.89 434.63 L824.2 432.46 L824.51 430.46 L824.83 428.63 L825.16 426.95 L825.49 425.42 L825.83 424 L826.17 422.71 L826.51 421.51 L826.87 420.41 L827.22 419.39 L827.58 418.45 L827.95 417.58 L828.32 416.76 L828.7 415.99 L829.08 415.28 L829.47 414.6 L829.86 413.95 L830.26 413.34 L830.66 412.75 L831.06 412.19 L831.47 411.64 L831.89 411.11 L832.31 410.59 L832.73 410.09 L833.16 409.59 L833.59 409.1 L835.85 409.21 L836.06 409.97 M840.39 527.92 L840.56 520.11 L840.74 512.51 L840.93 505.16 L841.13 498.08 L841.33 491.29 L841.54 484.82 L841.75 478.67 L841.97 472.85 L842.2 467.37 L842.44 462.21 L842.68 457.38 L842.93 452.88 L843.18 448.68 L843.44 444.78 L843.7 441.17 L843.97 437.83 L844.25 434.74 L844.53 431.9 L844.82 429.29 L845.11 426.89 L845.41 424.69 L845.71 422.67 L846.02 420.82 L846.34 419.12 L846.66 417.56 L846.98 416.13 L847.31 414.82 L847.64 413.61 L847.98 412.49 L848.33 411.46 L848.68 410.51 L849.03 409.62 L849.39 408.79 L849.75 408.02 L850.12 407.29 L850.49 406.6 L850.87 405.95 L851.25 405.33 L851.64 404.73 L852.03 404.16 L852.42 403.61 L852.82 403.07 L853.22 402.55 L853.63 402.04 L854.05 401.53 L854.46 401.04 L856.58 401.15 L856.8 401.9 M861.41 521.99 L861.58 514.09 L861.76 506.39 L861.95 498.94 L862.14 491.77 L862.34 484.9 L862.55 478.34 L862.77 472.11 L862.99 466.22 L863.22 460.66 L863.45 455.44 L863.69 450.55 L863.94 445.98 L864.19 441.73 L864.45 437.78 L864.71 434.12 L864.98 430.74 L865.26 427.62 L865.54 424.74 L865.83 422.1 L866.12 419.66 L866.42 417.43 L866.72 415.39 L867.03 413.51 L867.34 411.79 L867.66 410.21 L867.98 408.76 L868.31 407.43 L868.64 406.21 L868.98 405.08 L869.32 404.04 L869.67 403.07 L870.02 402.17 L870.38 401.33 L870.74 400.55 L871.11 399.81 L871.48 399.11 L871.86 398.45 L872.24 397.82 L872.62 397.22 L873.01 396.64 L873.41 396.08 L873.8 395.54 L874.21 395.01 L874.61 394.49 L875.02 393.98 L875.44 393.48 L877.61 393.59 L877.82 394.34 M882.14 515.35 L882.32 507.38 L882.5 499.63 L882.68 492.12 L882.88 484.9 L883.08 477.97 L883.29 471.36 L883.5 465.09 L883.72 459.15 L883.95 453.55 L884.18 448.29 L884.42 443.36 L884.67 438.76 L884.92 434.47 L885.18 430.49 L885.44 426.81 L885.71 423.4 L885.99 420.25 L886.27 417.35 L886.56 414.68 L886.85 412.23 L887.15 409.99 L887.45 407.92 L887.76 406.03 L888.07 404.3 L888.39 402.71 L888.71 401.25 L889.04 399.91 L889.37 398.67 L889.71 397.54 L890.05 396.49 L890.4 395.51 L890.75 394.61 L891.11 393.76 L891.47 392.97 L891.84 392.23 L892.21 391.53 L892.58 390.86 L892.96 390.22 L893.35 389.62 L893.74 389.03 L894.13 388.47 L894.53 387.92 L894.93 387.39 L895.34 386.87 L895.75 386.35 L896.16 385.85 L898.27 385.96 L898.49 386.71 M902.31 509.89 L902.48 501.87 L902.66 494.05 L902.85 486.49 L903.05 479.21 L903.25 472.24 L903.46 465.58 L903.68 459.26 L903.9 453.28 L904.13 447.64 L904.36 442.34 L904.6 437.37 L904.85 432.74 L905.1 428.42 L905.36 424.41 L905.63 420.7 L905.9 417.26 L906.18 414.09 L906.46 411.17 L906.75 408.49 L907.04 406.02 L907.34 403.75 L907.64 401.68 L907.95 399.77 L908.27 398.03 L908.59 396.42 L908.91 394.95 L909.24 393.6 L909.57 392.36 L909.91 391.21 L910.26 390.16 L910.61 389.17 L910.96 388.26 L911.32 387.41 L911.68 386.61 L912.05 385.87 L912.43 385.16 L912.8 384.49 L913.18 383.85 L913.57 383.24 L913.96 382.65 L914.36 382.08 L914.76 381.53 L915.16 380.99 L915.57 380.46 L915.98 379.95 L916.4 379.44 L918.43 379.55 L918.65 380.3 M922.56 503.42 L922.73 495.35 L922.91 487.5 L923.09 479.89 L923.27 472.57 L923.47 465.56 L923.67 458.86 L923.88 452.51 L924.09 446.49 L924.31 440.82 L924.54 435.49 L924.77 430.5 L925.01 425.84 L925.25 421.49 L925.5 417.46 L925.76 413.73 L926.02 410.27 L926.29 407.09 L926.56 404.15 L926.84 401.45 L927.12 398.97 L927.41 396.69 L927.7 394.6 L928 392.69 L928.3 390.93 L928.61 389.32 L928.92 387.84 L929.24 386.48 L929.56 385.23 L929.89 384.08 L930.22 383.02 L930.56 382.03 L930.9 381.11 L931.24 380.26 L931.59 379.46 L931.95 378.7 L932.31 377.99 L932.67 377.32 L933.04 376.67 L933.41 376.06 L933.79 375.47 L934.17 374.89 L934.55 374.34 L934.94 373.8 L935.34 373.27 L935.73 372.75 L936.14 372.24 L938.09 372.35 L938.3 373.1 M942.69 497.3 L942.85 489.16 L943.02 481.24 L943.2 473.58 L943.38 466.2 L943.57 459.12 L943.77 452.37 L943.97 445.96 L944.18 439.9 L944.39 434.18 L944.61 428.81 L944.84 423.77 L945.07 419.08 L945.31 414.7 L945.56 410.63 L945.8 406.87 L946.06 403.39 L946.32 400.17 L946.58 397.21 L946.85 394.49 L947.13 391.99 L947.41 389.69 L947.69 387.59 L947.98 385.65 L948.28 383.88 L948.58 382.26 L948.88 380.77 L949.19 379.4 L949.51 378.14 L949.83 376.98 L950.15 375.9 L950.48 374.91 L950.81 373.98 L951.15 373.12 L951.49 372.31 L951.83 371.55 L952.18 370.84 L952.54 370.16 L952.9 369.51 L953.26 368.89 L953.63 368.29 L954 367.72 L954.37 367.16 L954.75 366.61 L955.13 366.08 L955.52 365.56 L955.91 365.04 L957.89 365.15 L958.1 365.9 M962.12 491.85 L962.29 483.68 L962.46 475.72 L962.63 468.02 L962.81 460.61 L963 453.5 L963.2 446.72 L963.4 440.29 L963.61 434.19 L963.82 428.45 L964.04 423.05 L964.27 417.99 L964.5 413.27 L964.73 408.88 L964.98 404.79 L965.22 401.01 L965.48 397.51 L965.74 394.29 L966 391.31 L966.27 388.58 L966.54 386.06 L966.82 383.76 L967.11 381.64 L967.39 379.7 L967.69 377.92 L967.99 376.29 L968.29 374.79 L968.6 373.42 L968.91 372.15 L969.23 370.98 L969.55 369.91 L969.88 368.91 L970.21 367.98 L970.54 367.11 L970.88 366.3 L971.23 365.54 L971.57 364.82 L971.93 364.13 L972.28 363.48 L972.65 362.86 L973.01 362.26 L973.38 361.68 L973.75 361.12 L974.13 360.57 L974.51 360.04 L974.9 359.51 L975.29 358.99 L977.18 359.1 L977.4 359.86 M981.55 485.95 L981.71 477.76 L981.87 469.79 L982.05 462.08 L982.23 454.65 L982.41 447.54 L982.6 440.75 L982.8 434.3 L983.01 428.19 L983.22 422.44 L983.44 417.03 L983.66 411.97 L983.89 407.24 L984.12 402.84 L984.36 398.75 L984.6 394.96 L984.85 391.46 L985.11 388.22 L985.37 385.24 L985.63 382.5 L985.9 379.99 L986.18 377.68 L986.46 375.56 L986.74 373.61 L987.03 371.83 L987.33 370.2 L987.62 368.7 L987.93 367.32 L988.24 366.05 L988.55 364.88 L988.87 363.8 L989.19 362.8 L989.51 361.87 L989.85 361 L990.18 360.19 L990.52 359.43 L990.86 358.71 L991.21 358.02 L991.56 357.37 L991.92 356.75 L992.28 356.15 L992.64 355.57 L993.01 355 L993.38 354.45 L993.76 353.92 L994.14 353.39 L994.52 352.87 L996.41 352.98 L996.62 353.74 M1000.48 479.99 L1000.64 471.79 L1000.81 463.82 L1000.98 456.1 L1001.16 448.67 L1001.35 441.55 L1001.54 434.76 L1001.74 428.3 L1001.94 422.19 L1002.15 416.44 L1002.37 411.03 L1002.59 405.96 L1002.82 401.23 L1003.05 396.82 L1003.29 392.73 L1003.53 388.94 L1003.78 385.43 L1004.04 382.2 L1004.3 379.22 L1004.56 376.48 L1004.83 373.96 L1005.11 371.64 L1005.39 369.52 L1005.67 367.58 L1005.96 365.8 L1006.25 364.16 L1006.55 362.66 L1006.86 361.28 L1007.16 360.01 L1007.48 358.84 L1007.79 357.76 L1008.12 356.76 L1008.44 355.83 L1008.77 354.96 L1009.11 354.15 L1009.44 353.38 L1009.79 352.66 L1010.13 351.98 L1010.49 351.32 L1010.84 350.7 L1011.2 350.1 L1011.57 349.52 L1011.93 348.96 L1012.31 348.41 L1012.68 347.87 L1013.06 347.34 L1013.45 346.82 L1015.27 346.93 L1015.49 347.69 M1019.65 474.74 L1019.8 466.52 L1019.96 458.51 L1020.13 450.77 L1020.3 443.31 L1020.48 436.16 L1020.66 429.34 L1020.85 422.86 L1021.05 416.73 L1021.25 410.95 L1021.46 405.52 L1021.67 400.43 L1021.89 395.68 L1022.11 391.26 L1022.34 387.15 L1022.58 383.34 L1022.81 379.82 L1023.06 376.57 L1023.31 373.58 L1023.56 370.83 L1023.82 368.3 L1024.08 365.98 L1024.35 363.85 L1024.62 361.9 L1024.9 360.11 L1025.18 358.47 L1025.47 356.96 L1025.76 355.58 L1026.05 354.3 L1026.35 353.13 L1026.65 352.04 L1026.96 351.04 L1027.27 350.1 L1027.59 349.23 L1027.91 348.42 L1028.24 347.65 L1028.56 346.92 L1028.9 346.24 L1029.23 345.58 L1029.57 344.96 L1029.92 344.35 L1030.27 343.77 L1030.62 343.2 L1030.98 342.65 L1031.34 342.11 L1031.7 341.59 L1032.07 341.06 L1033.85 341.17 L1034.06 341.93 M1038.03 468.02 L1038.19 459.76 L1038.35 451.73 L1038.52 443.96 L1038.69 436.47 L1038.87 429.29 L1039.06 422.45 L1039.25 415.95 L1039.45 409.8 L1039.66 403.99 L1039.87 398.54 L1040.08 393.44 L1040.3 388.67 L1040.53 384.23 L1040.76 380.11 L1041 376.29 L1041.24 372.76 L1041.49 369.5 L1041.74 366.5 L1042 363.74 L1042.26 361.2 L1042.53 358.87 L1042.8 356.73 L1043.08 354.77 L1043.36 352.98 L1043.65 351.33 L1043.94 349.82 L1044.23 348.43 L1044.53 347.15 L1044.84 345.97 L1045.14 344.88 L1045.46 343.87 L1045.77 342.94 L1046.1 342.06 L1046.42 341.24 L1046.75 340.47 L1047.08 339.75 L1047.42 339.06 L1047.76 338.4 L1048.11 337.77 L1048.46 337.16 L1048.81 336.58 L1049.17 336.01 L1049.53 335.46 L1049.9 334.92 L1050.27 334.39 L1050.64 333.86 L1052.42 333.97 L1052.64 334.73 M1056.59 462.56 L1056.74 454.29 L1056.9 446.24 L1057.06 438.44 L1057.23 430.94 L1057.41 423.75 L1057.6 416.89 L1057.79 410.37 L1057.98 404.21 L1058.18 398.39 L1058.39 392.93 L1058.6 387.81 L1058.82 383.04 L1059.04 378.59 L1059.27 374.46 L1059.5 370.63 L1059.74 367.09 L1059.98 363.82 L1060.23 360.81 L1060.49 358.04 L1060.74 355.5 L1061.01 353.17 L1061.27 351.02 L1061.55 349.06 L1061.82 347.26 L1062.1 345.61 L1062.39 344.09 L1062.68 342.7 L1062.97 341.42 L1063.27 340.24 L1063.57 339.15 L1063.88 338.14 L1064.19 337.2 L1064.51 336.32 L1064.83 335.5 L1065.15 334.73 L1065.48 334 L1065.81 333.31 L1066.15 332.65 L1066.49 332.02 L1066.83 331.41 L1067.18 330.83 L1067.53 330.26 L1067.89 329.7 L1068.25 329.16 L1068.61 328.63 L1068.98 328.1 L1070.71 328.21 L1070.93 328.97 M1074.24 456.74 L1074.39 448.46 L1074.55 440.41 L1074.72 432.61 L1074.9 425.1 L1075.08 417.91 L1075.26 411.04 L1075.45 404.52 L1075.65 398.35 L1075.86 392.53 L1076.06 387.07 L1076.28 381.95 L1076.5 377.17 L1076.73 372.72 L1076.96 368.58 L1077.19 364.75 L1077.43 361.21 L1077.68 357.94 L1077.93 354.93 L1078.19 352.16 L1078.45 349.61 L1078.71 347.28 L1078.98 345.13 L1079.26 343.17 L1079.54 341.37 L1079.82 339.72 L1080.11 338.2 L1080.41 336.81 L1080.7 335.53 L1081.01 334.34 L1081.31 333.25 L1081.62 332.24 L1081.94 331.3 L1082.26 330.42 L1082.58 329.6 L1082.91 328.83 L1083.24 328.1 L1083.58 327.41 L1083.92 326.75 L1084.26 326.12 L1084.61 325.51 L1084.96 324.92 L1085.32 324.35 L1085.68 323.8 L1086.04 323.26 L1086.41 322.72 L1086.78 322.2 L1088.42 322.31 L1088.64 323.06 M1092.35 450.85 L1092.5 442.58 L1092.66 434.53 L1092.82 426.74 L1092.99 419.24 L1093.16 412.05 L1093.35 405.2 L1093.53 398.68 L1093.72 392.52 L1093.92 386.71 L1094.13 381.25 L1094.34 376.13 L1094.55 371.35 L1094.77 366.91 L1094.99 362.78 L1095.22 358.95 L1095.46 355.41 L1095.7 352.14 L1095.94 349.14 L1096.19 346.37 L1096.45 343.83 L1096.7 341.49 L1096.97 339.35 L1097.24 337.39 L1097.51 335.59 L1097.78 333.94 L1098.07 332.43 L1098.35 331.03 L1098.64 329.75 L1098.93 328.57 L1099.23 327.48 L1099.54 326.47 L1099.84 325.53 L1100.15 324.65 L1100.47 323.83 L1100.79 323.06 L1101.11 322.33 L1101.44 321.64 L1101.77 320.98 L1102.1 320.35 L1102.44 319.75 L1102.78 319.16 L1103.13 318.59 L1103.48 318.04 L1103.83 317.5 L1104.19 316.96 L1104.55 316.44 L1106.21 316.55 L1106.42 317.3 M1109.76 445.8 L1109.9 437.51 L1110.06 429.44 L1110.22 421.63 L1110.38 414.11 L1110.56 406.9 L1110.73 400.02 L1110.92 393.49 L1111.11 387.31 L1111.3 381.49 L1111.5 376.01 L1111.71 370.88 L1111.92 366.1 L1112.14 361.64 L1112.36 357.5 L1112.58 353.66 L1112.81 350.11 L1113.05 346.84 L1113.29 343.82 L1113.53 341.05 L1113.78 338.5 L1114.04 336.16 L1114.3 334.01 L1114.56 332.04 L1114.83 330.24 L1115.1 328.59 L1115.38 327.07 L1115.66 325.67 L1115.94 324.39 L1116.23 323.2 L1116.53 322.11 L1116.82 321.1 L1117.13 320.15 L1117.43 319.27 L1117.74 318.45 L1118.06 317.68 L1118.37 316.95 L1118.69 316.25 L1119.02 315.59 L1119.35 314.96 L1119.68 314.35 L1120.02 313.77 L1120.36 313.2 L1120.7 312.64 L1121.05 312.1 L1121.4 311.57 L1121.76 311.04" style="stroke-width:3.65;stroke-linecap:round"/>
<path d="M207.58 661.18 L207.53 681.63 M231.98 637.49 L232.31 638.78 L232.45 641.3 L232.52 644.54 L232.53 672.04 M258.62 623.81 L258.95 625.1 L259.09 627.62 L259.16 630.86 L259.17 659.05 M285.48 610.85 L285.8 612.14 L285.95 614.66 L286.02 617.9 L286.03 646.55 M313.2 600.19 L313.52 601.49 L313.67 604.01 L313.74 607.25 L313.75 635.67 M340.7 588.53 L341.03 589.82 L341.17 592.34 L341.24 595.58 L341.25 624.05 M368.06 578.66 L368.39 579.96 L368.53 582.48 L368.6 585.72 L368.61 613.84 M395.93 568.73 L396.25 570.02 L396.4 572.54 L396.47 575.78 L396.48 603.93 M423.29 558.79 L423.61 560.09 L423.76 562.61 L423.83 565.85 L423.84 593.91 M450.5 549.5 L450.83 550.8 L450.97 553.32 L451.04 556.56 L451.05 584.42 M477.29 540.29 L477.61 541.58 L477.76 544.1 L477.83 547.34 L477.84 575.21 M504 531.36 L504.32 532.66 L504.47 535.18 L504.54 538.42 L504.55 566.32 M530.06 522.36 L530.39 523.66 L530.53 526.18 L530.6 529.42 L530.61 557.43 M555.84 513.43 L556.16 514.73 L556.31 517.25 L556.38 520.49 L556.39 548.74 M581.69 504.43 L582.01 505.73 L582.16 508.25 L582.23 511.49 L582.24 539.85 M606.89 495.5 L607.21 496.8 L607.36 499.32 L607.43 502.56 L607.44 531.24 M631.44 487.15 L631.76 488.45 L631.91 490.97 L631.98 494.21 L631.99 523.43 M655.34 477.86 L655.67 479.16 L655.81 481.68 L655.88 484.92 L655.89 514.4 M679.46 469.73 L679.79 471.02 L679.93 473.54 L680 476.78 L680.01 506.55 M702.65 460.15 L702.97 461.45 L703.12 463.97 L703.19 467.21 L703.2 497.69 M725.9 451.15 L726.23 452.45 L726.37 454.97 L726.44 458.21 L726.45 489.4 M748.8 442.15 L749.12 443.45 L749.27 445.97 L749.34 449.21 L749.35 481.13 M771.05 434.3 L771.37 435.6 L771.52 438.12 L771.59 441.36 L771.6 473.28 M792.86 425.95 L793.19 427.25 L793.33 429.77 L793.4 433.01 L793.41 465.39 M814.46 417.89 L814.79 419.18 L814.93 421.7 L815 424.94 L815.01 458.01 M836.06 409.97 L836.39 411.26 L836.53 413.78 L836.6 417.02 L836.61 450.68 M856.8 401.9 L857.12 403.2 L857.27 405.72 L857.34 408.96 L857.35 442.87 M877.82 394.34 L878.15 395.64 L878.29 398.16 L878.36 401.4 L878.37 435.59 M898.49 386.71 L898.81 388.01 L898.96 390.53 L899.03 393.77 L899.04 428.35 M918.65 380.3 L918.97 381.6 L919.12 384.12 L919.19 387.36 L919.2 422.18 M938.3 373.1 L938.63 374.4 L938.77 376.92 L938.84 380.16 L938.85 414.98 M958.1 365.9 L958.43 367.2 L958.57 369.72 L958.64 372.96 L958.65 408.12 M977.4 359.86 L977.72 361.15 L977.87 363.67 L977.94 366.91 L977.95 402.1 M996.62 353.74 L996.95 355.03 L997.09 357.55 L997.16 360.79 L997.17 396.19 M1015.49 347.69 L1015.81 348.98 L1015.96 351.5 L1016.03 354.74 L1016.04 389.8 M1034.06 341.93 L1034.39 343.22 L1034.53 345.74 L1034.6 348.98 L1034.61 384.04 M1052.64 334.73 L1052.96 336.02 L1053.11 338.54 L1053.18 341.78 L1053.19 377.27 M1070.93 328.97 L1071.25 330.26 L1071.4 332.78 L1071.47 336.02 L1071.48 371.51 M1088.64 323.06 L1088.96 324.36 L1089.11 326.88 L1089.18 330.12 L1089.19 365.65 M1106.42 317.3 L1106.75 318.6 L1106.89 321.12 L1106.96 324.36 L1106.97 359.89" style="stroke-width:3.3;stroke-linecap:round"/>
<path d="M207.53 681.63h0M207.53 682.64h0M207.53 683.69h0M207.53 684.79h0M207.52 685.95h0M207.52 687.15h0M207.52 688.41h0M207.52 689.72h0M207.51 691.09h0M207.51 692.53h0M207.51 694.03h0M207.5 695.6h0M207.5 697.24h0M207.5 698.96h0M207.49 700.75h0M207.49 702.62h0M207.48 704.58h0M207.48 706.63h0M207.48 708.77h0M207.47 711h0M207.47 713.34h0M207.46 715.78h0M207.46 718.33h0M207.45 721h0M207.44 723.79h0M207.44 726.71h0M207.43 729.36h0M208.01 674.14h0M208.02 683.5h0M208.03 692.86h0M208.04 702.22h0M208.06 711.58h0M208.07 720.94h0M208.08 729.36h0M208.49 735.83h0M208.88 741.85h0M209.24 747.45h0M209.57 752.66h0M209.74 755.28h0M209.74 755.28h0M209.84 753.12h0M209.95 751.02h0M210.05 748.97h0M210.15 746.97h0M210.26 745.03h0M210.36 743.13h0M210.46 741.28h0M210.56 739.48h0M210.66 737.72h0M210.75 736.01h0M210.85 734.34h0M210.95 732.72h0M211.04 731.13h0M211.14 729.59h0M211.23 728.08h0M211.32 726.62h0M211.41 725.19h0M211.5 723.79h0M211.59 722.43h0M211.68 721.11h0M211.77 719.82h0M211.85 718.56h0M211.94 717.34h0M212.02 716.15h0M212.11 714.98h0M212.19 713.85h0M212.27 712.74h0M212.35 711.67h0M212.43 710.62h0M212.51 709.59h0M212.59 708.6h0M212.66 707.62h0M232.53 672.04h0M232.54 673.05h0M232.54 674.09h0M232.54 675.17h0M232.54 676.28h0M232.54 677.43h0M232.54 678.62h0M232.54 679.85h0M232.54 681.12h0M232.54 682.44h0M232.54 683.79h0M232.54 685.2h0M232.54 686.65h0M232.54 688.15h0M232.54 689.7h0M232.54 691.3h0M232.54 692.96h0M232.54 694.67h0M232.54 696.44h0M232.55 698.27h0M232.55 700.16h0M232.55 702.11h0M232.55 704.13h0M232.55 706.22h0M232.55 708.38h0M232.55 710.61h0M232.55 712.92h0M232.55 715.3h0M232.55 717.77h0M232.55 720.32h0M232.55 722.95h0M232.56 725.67h0M232.56 728.48h0M232.56 731.39h0M232.56 734.4h0M232.56 736.2h0M233.35 649.58h0M233.36 658.94h0M233.37 668.3h0M233.38 677.66h0M233.38 687.02h0M233.39 696.38h0M233.4 705.74h0M233.41 715.1h0M233.41 724.46h0M233.42 733.82h0M233.42 736.2h0M234.34 742.61h0M235.13 748.12h0M235.22 748.8h0M235.22 748.8h0M235.33 746.64h0M235.43 744.54h0M235.53 742.49h0M235.62 740.49h0M235.72 738.54h0M235.82 736.64h0M235.91 734.79h0M236.01 732.98h0M236.1 731.22h0M236.2 729.51h0M236.29 727.83h0M236.38 726.2h0M236.47 724.61h0M236.56 723.06h0M236.65 721.55h0M236.74 720.08h0M236.82 718.64h0M236.91 717.24h0M236.99 715.88h0M237.08 714.55h0M237.16 713.25h0M237.24 711.99h0M237.32 710.75h0M237.4 709.55h0M237.48 708.38h0M237.56 707.24h0M237.63 706.12h0M237.71 705.04h0M237.78 703.98h0M237.86 702.95h0M237.93 701.94h0M238 700.96h0M259.17 659.05h0M259.18 660.06h0M259.18 661.1h0M259.18 662.18h0M259.18 663.29h0M259.18 664.43h0M259.18 665.62h0M259.18 666.84h0M259.18 668.11h0M259.18 669.41h0M259.18 670.76h0M259.18 672.15h0M259.18 673.59h0M259.18 675.08h0M259.18 676.61h0M259.18 678.19h0M259.18 679.83h0M259.18 681.52h0M259.18 683.27h0M259.18 685.07h0M259.19 686.93h0M259.19 688.86h0M259.19 690.84h0M259.19 692.9h0M259.19 695.02h0M259.19 697.2h0M259.19 699.47h0M259.19 701.8h0M259.19 704.21h0M259.19 706.7h0M259.19 709.28h0M259.2 711.93h0M259.2 714.68h0M259.2 717.51h0M259.2 720.44h0M259.2 723.47h0M259.2 724.82h0M259.99 635.9h0M260 645.26h0M260.01 654.62h0M260.01 663.98h0M260.02 673.34h0M260.03 682.7h0M260.04 692.06h0M260.05 701.42h0M260.05 710.78h0M260.06 720.14h0M260.06 724.82h0M260.63 731.28h0M261.13 737.07h0M261.58 742.18h0M261.58 742.18h0M261.67 740.02h0M261.77 737.91h0M261.86 735.85h0M261.95 733.84h0M262.05 731.88h0M262.14 729.96h0M262.23 728.09h0M262.32 726.26h0M262.41 724.47h0M262.5 722.73h0M262.58 721.02h0M262.67 719.36h0M262.76 717.73h0M262.84 716.15h0M262.93 714.6h0M263.01 713.08h0M263.1 711.6h0M263.18 710.16h0M263.26 708.75h0M263.34 707.37h0M263.42 706.03h0M263.5 704.71h0M263.58 703.43h0M263.66 702.18h0M263.73 700.95h0M263.81 699.76h0M263.88 698.59h0M263.96 697.45h0M264.03 696.33h0M264.1 695.25h0M264.18 694.18h0M264.25 693.15h0M264.32 692.13h0M264.39 691.14h0M264.46 690.18h0M286.2 606.96h0M286.03 646.55h0M286.03 647.55h0M286.03 648.59h0M286.03 649.67h0M286.03 650.78h0M286.03 651.92h0M286.03 653.1h0M286.03 654.32h0M286.03 655.58h0M286.03 656.88h0M286.04 658.23h0M286.04 659.61h0M286.04 661.04h0M286.04 662.52h0M286.04 664.04h0M286.04 665.62h0M286.04 667.24h0M286.04 668.92h0M286.04 670.65h0M286.04 672.43h0M286.04 674.28h0M286.04 676.18h0M286.04 678.15h0M286.04 680.18h0M286.04 682.27h0M286.05 684.44h0M286.05 686.67h0M286.05 688.97h0M286.05 691.35h0M286.05 693.81h0M286.05 696.35h0M286.05 698.96h0M286.05 701.67h0M286.05 704.45h0M286.05 707.33h0M286.05 710.31h0M286.06 713.38h0M286.85 622.94h0M286.86 632.3h0M286.86 641.66h0M286.87 651.02h0M286.88 660.38h0M286.89 669.74h0M286.89 679.1h0M286.9 688.46h0M286.91 697.82h0M286.92 707.18h0M286.92 713.38h0M287.39 719.84h0M287.82 725.79h0M288.22 731.28h0M288.58 736.2h0M288.58 736.2h0M288.67 734.04h0M288.76 731.93h0M288.85 729.87h0M288.94 727.85h0M289.03 725.87h0M289.11 723.94h0M289.2 722.05h0M289.29 720.21h0M289.37 718.4h0M289.46 716.63h0M289.55 714.9h0M289.63 713.21h0M289.71 711.56h0M289.8 709.94h0M289.88 708.36h0M289.96 706.81h0M290.04 705.3h0M290.12 703.82h0M290.2 702.37h0M290.28 700.96h0M290.36 699.58h0M290.44 698.22h0M290.51 696.9h0M290.59 695.6h0M290.67 694.34h0M290.74 693.1h0M290.82 691.89h0M290.89 690.7h0M290.96 689.54h0M291.03 688.41h0M291.11 687.3h0M291.18 686.22h0M291.25 685.16h0M291.31 684.12h0M291.38 683.11h0M291.45 682.11h0M291.52 681.14h0M314.14 581.4h0M314.17 587.88h0M314.23 599.24h0M313.75 635.67h0M313.75 636.68h0M313.75 637.72h0M313.75 638.8h0M313.75 639.91h0M313.75 641.05h0M313.75 642.24h0M313.75 643.46h0M313.75 644.72h0M313.75 646.02h0M313.76 647.37h0M313.76 648.76h0M313.76 650.19h0M313.76 651.67h0M313.76 653.2h0M313.76 654.78h0M313.76 656.41h0M313.76 658.09h0M313.76 659.83h0M313.76 661.62h0M313.76 663.48h0M313.76 665.39h0M313.76 667.37h0M313.76 669.41h0M313.76 671.51h0M313.77 673.69h0M313.77 675.93h0M313.77 678.25h0M313.77 680.65h0M313.77 683.12h0M313.77 685.67h0M313.77 688.31h0M313.77 691.03h0M313.77 693.84h0M313.77 696.75h0M313.78 699.74h0M313.78 702h0M314.57 612.29h0M314.58 621.65h0M314.58 631.01h0M314.59 640.37h0M314.6 649.73h0M314.61 659.09h0M314.61 668.45h0M314.62 677.81h0M314.63 687.17h0M314.64 696.53h0M314.64 702h0M314.92 708.47h0M315.19 714.53h0M315.43 720.2h0M315.66 725.51h0M315.86 730.08h0M315.86 730.08h0M315.95 727.92h0M316.03 725.81h0M316.12 723.75h0M316.2 721.73h0M316.28 719.75h0M316.36 717.82h0M316.44 715.94h0M316.53 714.09h0M316.6 712.29h0M316.68 710.52h0M316.76 708.8h0M316.84 707.11h0M316.92 705.46h0M316.99 703.84h0M317.07 702.26h0M317.15 700.72h0M317.22 699.21h0M317.29 697.74h0M317.37 696.29h0M317.44 694.88h0M317.51 693.5h0M317.58 692.15h0M317.65 690.83h0M317.72 689.54h0M317.79 688.28h0M317.86 687.04h0M317.93 685.84h0M318 684.66h0M318.06 683.5h0M318.13 682.37h0M318.19 681.27h0M318.26 680.19h0M318.32 679.14h0M318.38 678.1h0M318.45 677.1h0M318.51 676.11h0M318.57 675.14h0M341.63 560.16h0M341.64 557.06h0M341.66 563.54h0M341.69 573.01h0M341.74 586.86h0M341.25 624.05h0M341.26 625.06h0M341.26 626.1h0M341.26 627.18h0M341.26 628.29h0M341.26 629.43h0M341.26 630.61h0M341.26 631.84h0M341.26 633.1h0M341.26 634.4h0M341.26 635.74h0M341.26 637.13h0M341.26 638.56h0M341.26 640.04h0M341.26 641.57h0M341.26 643.15h0M341.26 644.78h0M341.26 646.46h0M341.26 648.2h0M341.26 649.99h0M341.27 651.84h0M341.27 653.75h0M341.27 655.73h0M341.27 657.77h0M341.27 659.87h0M341.27 662.04h0M341.27 664.29h0M341.27 666.6h0M341.27 668.99h0M341.27 671.46h0M341.27 674.01h0M341.27 676.65h0M341.28 679.36h0M341.28 682.17h0M341.28 685.07h0M341.28 688.06h0M341.28 690.48h0M342.07 600.62h0M342.08 609.98h0M342.09 619.34h0M342.09 628.7h0M342.1 638.06h0M342.11 647.42h0M342.12 656.78h0M342.12 666.14h0M342.13 675.5h0M342.14 684.86h0M342.14 690.48h0M342.42 696.95h0M342.69 703.08h0M342.94 708.87h0M343.18 714.35h0M343.4 719.54h0M343.58 723.82h0M343.58 723.82h0M343.66 721.66h0M343.74 719.54h0M343.82 717.47h0M343.89 715.45h0M343.97 713.47h0M344.04 711.52h0M344.12 709.62h0M344.19 707.76h0M344.27 705.94h0M344.34 704.15h0M344.41 702.4h0M344.48 700.69h0M344.56 699.02h0M344.63 697.38h0M344.7 695.77h0M344.77 694.2h0M344.84 692.66h0M344.91 691.16h0M344.98 689.68h0M345.04 688.23h0M345.11 686.82h0M345.18 685.44h0M345.24 684.08h0M345.31 682.75h0M345.38 681.45h0M345.44 680.18h0M345.5 678.93h0M345.57 677.71h0M345.63 676.52h0M345.69 675.35h0M345.75 674.21h0M345.82 673.09h0M345.88 671.99h0M345.94 670.91h0M345.99 669.86h0M346.05 668.83h0M346.11 667.82h0M346.17 666.84h0M346.23 665.87h0M368.96 550.3h0M369 534.24h0M369.02 540.72h0M369.04 549.34h0M369.06 560.82h0M369.1 576.09h0M368.61 613.84h0M368.62 614.85h0M368.62 615.89h0M368.62 616.97h0M368.62 618.08h0M368.62 619.23h0M368.62 620.41h0M368.62 621.64h0M368.62 622.9h0M368.62 624.21h0M368.62 625.56h0M368.62 626.95h0M368.62 628.39h0M368.62 629.87h0M368.62 631.41h0M368.62 633h0M368.62 634.64h0M368.62 636.33h0M368.62 638.08h0M368.62 639.88h0M368.63 641.75h0M368.63 643.67h0M368.63 645.66h0M368.63 647.72h0M368.63 649.84h0M368.63 652.03h0M368.63 654.3h0M368.63 656.64h0M368.63 659.06h0M368.63 661.55h0M368.63 664.13h0M368.64 666.79h0M368.64 669.54h0M368.64 672.39h0M368.64 675.32h0M368.64 678.35h0M368.64 679.46h0M369.43 590.76h0M369.44 600.12h0M369.45 609.48h0M369.45 618.84h0M369.46 628.2h0M369.47 637.56h0M369.48 646.92h0M369.49 656.28h0M369.49 665.64h0M369.5 675h0M369.5 679.46h0M369.76 685.94h0M370.01 692.11h0M370.24 697.99h0M370.46 703.59h0M370.67 708.93h0M370.87 714.01h0M371.02 717.62h0M371.02 717.62h0M371.09 715.47h0M371.16 713.35h0M371.23 711.29h0M371.3 709.26h0M371.37 707.28h0M371.44 705.34h0M371.51 703.45h0M371.58 701.59h0M371.65 699.78h0M371.72 698h0M371.78 696.26h0M371.85 694.56h0M371.92 692.89h0M371.98 691.26h0M372.05 689.66h0M372.11 688.1h0M372.17 686.58h0M372.24 685.08h0M372.3 683.62h0M372.36 682.18h0M372.42 680.78h0M372.48 679.41h0M372.55 678.07h0M372.61 676.76h0M372.66 675.47h0M372.72 674.21h0M372.78 672.98h0M372.84 671.78h0M372.9 670.6h0M372.95 669.44h0M373.01 668.31h0M373.07 667.21h0M373.12 666.13h0M373.17 665.07h0M373.23 664.03h0M373.28 663.02h0M373.33 662.03h0M373.38 661.06h0M396.81 540.36h0M396.86 515.39h0M396.86 515.02h0M396.88 521.5h0M396.89 529.76h0M396.91 540.29h0M396.94 553.72h0M396.48 603.93h0M396.48 604.94h0M396.48 605.98h0M396.48 607.05h0M396.48 608.16h0M396.48 609.31h0M396.48 610.5h0M396.48 611.72h0M396.48 612.98h0M396.48 614.29h0M396.48 615.64h0M396.48 617.03h0M396.48 618.47h0M396.48 619.96h0M396.49 621.49h0M396.49 623.08h0M396.49 624.72h0M396.49 626.41h0M396.49 628.16h0M396.49 629.96h0M396.49 631.82h0M396.49 633.75h0M396.49 635.74h0M396.49 637.79h0M396.49 639.92h0M396.49 642.11h0M396.49 644.37h0M396.5 646.71h0M396.5 649.12h0M396.5 651.62h0M396.5 654.2h0M396.5 656.86h0M396.5 659.61h0M396.5 662.44h0M396.5 665.38h0M396.5 668.41h0M396.5 669.6h0M397.3 580.82h0M397.3 590.18h0M397.31 599.54h0M397.32 608.9h0M397.33 618.26h0M397.33 627.62h0M397.34 636.98h0M397.35 646.34h0M397.36 655.7h0M397.36 665.06h0M397.37 669.6h0M397.58 676.08h0M397.79 682.27h0M397.98 688.2h0M398.17 693.87h0M398.35 699.29h0M398.52 704.47h0M398.68 709.44h0M398.74 711h0M398.74 711h0M398.8 708.84h0M398.87 706.73h0M398.94 704.65h0M399 702.62h0M399.07 700.64h0M399.13 698.69h0M399.2 696.78h0M399.26 694.91h0M399.32 693.08h0M399.39 691.28h0M399.45 689.53h0M399.51 687.8h0M399.57 686.12h0M399.64 684.46h0M399.7 682.85h0M399.76 681.26h0M399.82 679.71h0M399.88 678.18h0M399.94 676.69h0M399.99 675.23h0M400.05 673.8h0M400.11 672.4h0M400.17 671.02h0M400.23 669.68h0M400.28 668.36h0M400.34 667.07h0M400.39 665.81h0M400.45 664.57h0M400.5 663.35h0M400.56 662.16h0M400.61 661h0M400.66 659.86h0M400.72 658.74h0M400.77 657.64h0M400.82 656.57h0M400.87 655.52h0M400.92 654.49h0M400.97 653.48h0M401.02 652.49h0M401.07 651.52h0M424.16 530.42h0M424.21 504.88h0M424.22 495.58h0M424.23 502.06h0M424.25 510.05h0M424.26 519.93h0M424.29 532.12h0M424.31 547.16h0M423.84 593.91h0M423.84 594.91h0M423.84 595.96h0M423.84 597.03h0M423.84 598.14h0M423.84 599.29h0M423.84 600.48h0M423.84 601.7h0M423.84 602.97h0M423.84 604.27h0M423.84 605.62h0M423.84 607.02h0M423.84 608.46h0M423.84 609.95h0M423.85 611.48h0M423.85 613.07h0M423.85 614.71h0M423.85 616.41h0M423.85 618.16h0M423.85 619.96h0M423.85 621.83h0M423.85 623.76h0M423.85 625.75h0M423.85 627.81h0M423.85 629.94h0M423.85 632.14h0M423.85 634.41h0M423.86 636.75h0M423.86 639.17h0M423.86 641.67h0M423.86 644.26h0M423.86 646.93h0M423.86 649.68h0M423.86 652.53h0M423.86 655.47h0M423.86 658.51h0M423.86 659.38h0M424.66 570.89h0M424.66 580.25h0M424.67 589.61h0M424.68 598.97h0M424.69 608.33h0M424.69 617.69h0M424.7 627.05h0M424.71 636.41h0M424.72 645.77h0M424.72 655.13h0M424.73 659.38h0M424.99 665.85h0M425.24 672.07h0M425.49 678.05h0M425.72 683.8h0M425.95 689.32h0M426.16 694.62h0M426.37 699.72h0M426.57 704.61h0M426.6 705.38h0M426.6 705.38h0M426.66 703.22h0M426.72 701.11h0M426.78 699.03h0M426.84 696.99h0M426.9 695h0M426.96 693.04h0M427.02 691.12h0M427.08 689.23h0M427.14 687.39h0M427.2 685.58h0M427.25 683.8h0M427.31 682.06h0M427.37 680.35h0M427.42 678.67h0M427.48 677.03h0M427.54 675.42h0M427.59 673.84h0M427.65 672.29h0M427.7 670.77h0M427.76 669.28h0M427.81 667.82h0M427.87 666.38h0M427.92 664.98h0M427.97 663.6h0M428.02 662.25h0M428.08 660.92h0M428.13 659.62h0M428.18 658.35h0M428.23 657.1h0M428.28 655.87h0M428.33 654.67h0M428.38 653.49h0M428.43 652.33h0M428.48 651.2h0M428.53 650.09h0M428.58 649h0M428.62 647.93h0M428.67 646.88h0M428.72 645.85h0M428.77 644.84h0M428.81 643.85h0M428.86 642.88h0M451.37 521.14h0M451.41 495.2h0M451.44 477.58h0M451.45 484.06h0M451.46 491.87h0M451.48 501.31h0M451.49 512.69h0M451.51 526.42h0M451.54 542.98h0M451.05 584.42h0M451.06 585.43h0M451.06 586.47h0M451.06 587.55h0M451.06 588.66h0M451.06 589.81h0M451.06 591h0M451.06 592.22h0M451.06 593.49h0M451.06 594.8h0M451.06 596.15h0M451.06 597.55h0M451.06 598.99h0M451.06 600.49h0M451.06 602.03h0M451.06 603.62h0M451.06 605.27h0M451.06 606.97h0M451.06 608.72h0M451.06 610.54h0M451.07 612.41h0M451.07 614.35h0M451.07 616.36h0M451.07 618.42h0M451.07 620.56h0M451.07 622.77h0M451.07 625.05h0M451.07 627.41h0M451.07 629.85h0M451.07 632.36h0M451.07 634.96h0M451.08 637.65h0M451.08 640.43h0M451.08 643.3h0M451.08 646.26h0M451.08 649.32h0M451.08 649.44h0M451.87 561.6h0M451.88 570.96h0M451.89 580.32h0M451.9 589.68h0M451.9 599.04h0M451.91 608.4h0M451.92 617.76h0M451.93 627.12h0M451.93 636.48h0M451.94 645.84h0M451.94 649.44h0M452.19 655.92h0M452.42 662.16h0M452.65 668.17h0M452.86 673.97h0M453.07 679.57h0M453.28 684.95h0M453.47 690.15h0M453.66 695.16h0M453.82 699.34h0M453.82 699.34h0M453.87 697.18h0M453.93 695.06h0M453.98 692.99h0M454.04 690.95h0M454.09 688.96h0M454.15 687.01h0M454.2 685.1h0M454.26 683.22h0M454.31 681.39h0M454.36 679.59h0M454.42 677.82h0M454.47 676.09h0M454.52 674.4h0M454.57 672.74h0M454.63 671.11h0M454.68 669.52h0M454.73 667.95h0M454.78 666.42h0M454.83 664.92h0M454.88 663.45h0M454.93 662.01h0M454.97 660.59h0M455.02 659.21h0M455.07 657.85h0M455.12 656.52h0M455.16 655.22h0M455.21 653.94h0M455.26 652.69h0M455.3 651.46h0M455.35 650.26h0M455.39 649.08h0M455.44 647.93h0M455.48 646.8h0M455.53 645.69h0M455.57 644.6h0M455.61 643.54h0M455.65 642.5h0M455.7 641.47h0M455.74 640.47h0M455.78 639.49h0M455.82 638.53h0M478.16 511.92h0M478.19 485.76h0M478.22 462.24h0M478.23 468.72h0M478.24 476.43h0M478.26 485.62h0M478.27 496.56h0M478.29 509.57h0M478.31 525.07h0M477.84 575.21h0M477.84 576.22h0M477.84 577.26h0M477.84 578.33h0M477.84 579.45h0M477.84 580.59h0M477.84 581.78h0M477.84 583.01h0M477.84 584.27h0M477.84 585.58h0M477.84 586.94h0M477.84 588.33h0M477.84 589.78h0M477.85 591.27h0M477.85 592.81h0M477.85 594.4h0M477.85 596.05h0M477.85 597.75h0M477.85 599.51h0M477.85 601.32h0M477.85 603.2h0M477.85 605.14h0M477.85 607.14h0M477.85 609.21h0M477.85 611.35h0M477.85 613.55h0M477.85 615.84h0M477.86 618.19h0M477.86 620.63h0M477.86 623.15h0M477.86 625.75h0M477.86 628.43h0M477.86 631.21h0M477.86 634.08h0M477.86 637.04h0M477.86 640.11h0M477.86 640.22h0M478.66 552.38h0M478.66 561.74h0M478.67 571.1h0M478.68 580.46h0M478.69 589.82h0M478.69 599.18h0M478.7 608.54h0M478.71 617.9h0M478.72 627.26h0M478.73 636.62h0M478.73 640.22h0M478.96 646.7h0M479.17 652.96h0M479.39 659h0M479.59 664.85h0M479.79 670.49h0M479.98 675.95h0M480.17 681.22h0M480.35 686.31h0M480.52 691.24h0M480.6 693.58h0M480.6 693.58h0M480.65 691.42h0M480.71 689.3h0M480.76 687.22h0M480.81 685.18h0M480.86 683.18h0M480.91 681.22h0M480.96 679.29h0M481.02 677.41h0M481.07 675.55h0M481.12 673.74h0M481.17 671.95h0M481.22 670.21h0M481.26 668.49h0M481.31 666.81h0M481.36 665.16h0M481.41 663.54h0M481.46 661.95h0M481.51 660.39h0M481.55 658.86h0M481.6 657.36h0M481.65 655.89h0M481.69 654.45h0M481.74 653.03h0M481.79 651.64h0M481.83 650.28h0M481.88 648.94h0M481.92 647.63h0M481.96 646.34h0M482.01 645.08h0M482.05 643.84h0M482.1 642.63h0M482.14 641.44h0M482.18 640.27h0M482.23 639.12h0M482.27 637.99h0M482.31 636.89h0M482.35 635.81h0M482.39 634.75h0M482.43 633.7h0M482.47 632.68h0M482.51 631.68h0M482.55 630.7h0M482.59 629.73h0M504.87 502.99h0M504.9 476.7h0M504.93 452.69h0M504.94 449.06h0M504.94 455.54h0M504.95 463.2h0M504.97 472.23h0M504.98 482.9h0M505 495.5h0M505.02 510.38h0M505.04 527.95h0M504.55 566.32h0M504.55 567.33h0M504.55 568.37h0M504.55 569.45h0M504.55 570.56h0M504.55 571.71h0M504.55 572.9h0M504.55 574.12h0M504.55 575.39h0M504.55 576.7h0M504.56 578.05h0M504.56 579.45h0M504.56 580.89h0M504.56 582.38h0M504.56 583.92h0M504.56 585.51h0M504.56 587.16h0M504.56 588.86h0M504.56 590.61h0M504.56 592.43h0M504.56 594.3h0M504.56 596.24h0M504.56 598.24h0M504.56 600.3h0M504.56 602.44h0M504.57 604.64h0M504.57 606.92h0M504.57 609.28h0M504.57 611.71h0M504.57 614.22h0M504.57 616.82h0M504.57 619.5h0M504.57 622.28h0M504.57 625.14h0M504.57 628.1h0M504.58 631.16h0M504.58 631.44h0M505.37 543.46h0M505.38 552.82h0M505.38 562.18h0M505.39 571.54h0M505.4 580.9h0M505.41 590.26h0M505.41 599.62h0M505.42 608.98h0M505.43 618.34h0M505.44 627.7h0M505.44 631.44h0M505.64 637.92h0M505.84 644.19h0M506.03 650.26h0M506.22 656.15h0M506.4 661.85h0M506.57 667.37h0M506.74 672.71h0M506.9 677.89h0M507.06 682.9h0M507.22 687.75h0M507.24 688.54h0M507.24 688.54h0M507.29 686.38h0M507.34 684.26h0M507.38 682.17h0M507.43 680.13h0M507.48 678.12h0M507.53 676.15h0M507.57 674.21h0M507.62 672.31h0M507.67 670.44h0M507.71 668.6h0M507.76 666.8h0M507.8 665.03h0M507.85 663.29h0M507.89 661.59h0M507.94 659.91h0M507.98 658.26h0M508.03 656.65h0M508.07 655.06h0M508.12 653.5h0M508.16 651.97h0M508.2 650.47h0M508.25 648.99h0M508.29 647.54h0M508.33 646.12h0M508.37 644.72h0M508.42 643.34h0M508.46 641.99h0M508.5 640.67h0M508.54 639.37h0M508.58 638.09h0M508.62 636.84h0M508.66 635.6h0M508.7 634.39h0M508.74 633.21h0M508.78 632.04h0M508.82 630.89h0M508.86 629.77h0M508.9 628.66h0M508.94 627.58h0M508.98 626.51h0M509.01 625.46h0M509.05 624.43h0M509.09 623.42h0M509.13 622.43h0M509.16 621.46h0M509.2 620.5h0M530.93 493.99h0M530.96 467.54h0M530.99 443.26h0M531 434.66h0M531.01 441.14h0M531.02 448.72h0M531.03 457.59h0M531.04 467.97h0M531.06 480.11h0M531.07 494.31h0M531.09 510.92h0M530.61 557.43h0M530.62 558.44h0M530.62 559.48h0M530.62 560.56h0M530.62 561.67h0M530.62 562.82h0M530.62 564h0M530.62 565.23h0M530.62 566.49h0M530.62 567.8h0M530.62 569.15h0M530.62 570.55h0M530.62 571.99h0M530.62 573.48h0M530.62 575.01h0M530.62 576.6h0M530.62 578.24h0M530.62 579.94h0M530.62 581.69h0M530.62 583.5h0M530.63 585.37h0M530.63 587.3h0M530.63 589.3h0M530.63 591.36h0M530.63 593.49h0M530.63 595.69h0M530.63 597.96h0M530.63 600.31h0M530.63 602.73h0M530.63 605.24h0M530.63 607.82h0M530.64 610.5h0M530.64 613.26h0M530.64 616.11h0M530.64 619.06h0M530.64 622.1h0M530.64 622.8h0M531.43 534.46h0M531.44 543.82h0M531.45 553.18h0M531.45 562.54h0M531.46 571.9h0M531.47 581.26h0M531.48 590.62h0M531.49 599.98h0M531.49 609.34h0M531.5 618.7h0M531.5 622.8h0M531.71 629.28h0M531.9 635.56h0M532.09 641.65h0M532.28 647.56h0M532.46 653.3h0M532.63 658.86h0M532.8 664.26h0M532.96 669.49h0M533.12 674.57h0M533.27 679.49h0M533.38 682.78h0M533.38 682.78h0M533.42 680.62h0M533.46 678.5h0M533.51 676.42h0M533.55 674.38h0M533.6 672.37h0M533.64 670.41h0M533.68 668.48h0M533.72 666.58h0M533.77 664.72h0M533.81 662.9h0M533.85 661.11h0M533.89 659.35h0M533.93 657.63h0M533.97 655.94h0M534.01 654.27h0M534.06 652.64h0M534.1 651.05h0M534.14 649.48h0M534.17 647.93h0M534.21 646.42h0M534.25 644.94h0M534.29 643.48h0M534.33 642.05h0M534.37 640.65h0M534.41 639.27h0M534.45 637.92h0M534.48 636.59h0M534.52 635.29h0M534.56 634.02h0M534.59 632.76h0M534.63 631.53h0M534.67 630.32h0M534.7 629.14h0M534.74 627.98h0M534.77 626.84h0M534.81 625.72h0M534.84 624.62h0M534.88 623.54h0M534.91 622.48h0M534.94 621.44h0M534.98 620.42h0M535.01 619.42h0M535.04 618.44h0M535.08 617.47h0M556.7 485.06h0M556.73 458.49h0M556.76 433.96h0M556.78 420.62h0M556.78 427.1h0M556.79 434.63h0M556.8 443.35h0M556.81 453.49h0M556.83 465.25h0M556.84 478.9h0M556.86 494.74h0M556.88 513.13h0M556.39 548.74h0M556.39 549.75h0M556.39 550.79h0M556.39 551.86h0M556.39 552.98h0M556.39 554.12h0M556.39 555.31h0M556.39 556.53h0M556.39 557.79h0M556.39 559.1h0M556.4 560.44h0M556.4 561.84h0M556.4 563.27h0M556.4 564.76h0M556.4 566.29h0M556.4 567.87h0M556.4 569.51h0M556.4 571.2h0M556.4 572.94h0M556.4 574.74h0M556.4 576.6h0M556.4 578.52h0M556.4 580.51h0M556.4 582.55h0M556.4 584.67h0M556.41 586.86h0M556.41 589.11h0M556.41 591.44h0M556.41 593.85h0M556.41 596.34h0M556.41 598.9h0M556.41 601.56h0M556.41 604.29h0M556.41 607.12h0M556.41 610.04h0M556.42 613.06h0M556.42 614.66h0M557.21 525.53h0M557.22 534.89h0M557.22 544.25h0M557.23 553.61h0M557.24 562.97h0M557.25 572.33h0M557.25 581.69h0M557.26 591.05h0M557.27 600.41h0M557.28 609.77h0M557.28 614.66h0M557.48 621.14h0M557.68 627.43h0M557.87 633.54h0M558.05 639.47h0M558.23 645.24h0M558.41 650.83h0M558.57 656.27h0M558.74 661.55h0M558.9 666.68h0M559.05 671.65h0M559.2 676.49h0M559.22 677.16h0M559.22 677.16h0M559.27 675h0M559.31 672.88h0M559.35 670.79h0M559.39 668.75h0M559.43 666.73h0M559.47 664.76h0M559.51 662.82h0M559.55 660.91h0M559.59 659.03h0M559.63 657.19h0M559.67 655.38h0M559.71 653.6h0M559.74 651.86h0M559.78 650.14h0M559.82 648.46h0M559.86 646.8h0M559.9 645.17h0M559.94 643.57h0M559.97 642h0M560.01 640.46h0M560.05 638.94h0M560.09 637.45h0M560.12 635.99h0M560.16 634.55h0M560.19 633.14h0M560.23 631.75h0M560.27 630.39h0M560.3 629.05h0M560.34 627.74h0M560.37 626.44h0M560.41 625.17h0M560.44 623.93h0M560.48 622.7h0M560.51 621.49h0M560.54 620.31h0M560.58 619.15h0M560.61 618.01h0M560.65 616.88h0M560.68 615.78h0M560.71 614.7h0M560.74 613.63h0M560.78 612.59h0M560.81 611.56h0M560.84 610.55h0M560.87 609.56h0M560.9 608.59h0M560.93 607.63h0M582.55 476.06h0M582.58 449.38h0M582.6 424.65h0M582.62 406.8h0M582.63 413.28h0M582.64 420.75h0M582.65 429.36h0M582.66 439.29h0M582.67 450.74h0M582.69 463.93h0M582.7 479.14h0M582.72 496.68h0M582.24 539.85h0M582.24 540.86h0M582.24 541.9h0M582.24 542.97h0M582.24 544.08h0M582.24 545.23h0M582.24 546.41h0M582.24 547.63h0M582.24 548.9h0M582.24 550.2h0M582.24 551.55h0M582.24 552.94h0M582.24 554.37h0M582.24 555.85h0M582.25 557.38h0M582.25 558.96h0M582.25 560.6h0M582.25 562.28h0M582.25 564.02h0M582.25 565.82h0M582.25 567.67h0M582.25 569.59h0M582.25 571.57h0M582.25 573.61h0M582.25 575.72h0M582.25 577.9h0M582.25 580.15h0M582.26 582.47h0M582.26 584.87h0M582.26 587.35h0M582.26 589.91h0M582.26 592.55h0M582.26 595.28h0M582.26 598.1h0M582.26 601.01h0M582.26 604.01h0M582.26 606.02h0M583.06 516.53h0M583.06 525.89h0M583.07 535.25h0M583.08 544.61h0M583.09 553.97h0M583.09 563.33h0M583.1 572.69h0M583.11 582.05h0M583.12 591.41h0M583.12 600.77h0M583.13 606.02h0M583.31 612.5h0M583.49 618.8h0M583.67 624.93h0M583.84 630.89h0M584 636.69h0M584.16 642.32h0M584.32 647.81h0M584.47 653.14h0M584.62 658.33h0M584.76 663.37h0M584.9 668.28h0M585 671.76h0M585 671.76h0M585.04 669.6h0M585.08 667.48h0M585.12 665.39h0M585.16 663.34h0M585.2 661.33h0M585.23 659.35h0M585.27 657.4h0M585.31 655.49h0M585.35 653.61h0M585.39 651.76h0M585.42 649.94h0M585.46 648.16h0M585.5 646.41h0M585.54 644.68h0M585.57 642.99h0M585.61 641.32h0M585.65 639.69h0M585.68 638.08h0M585.72 636.5h0M585.75 634.94h0M585.79 633.42h0M585.82 631.92h0M585.86 630.44h0M585.89 628.99h0M585.93 627.57h0M585.96 626.17h0M586 624.79h0M586.03 623.44h0M586.07 622.11h0M586.1 620.8h0M586.13 619.52h0M586.17 618.26h0M586.2 617.02h0M586.23 615.8h0M586.26 614.6h0M586.3 613.42h0M586.33 612.27h0M586.36 611.13h0M586.39 610.01h0M586.43 608.92h0M586.46 607.84h0M586.49 606.78h0M586.52 605.73h0M586.55 604.71h0M586.58 603.7h0M586.61 602.71h0M586.64 601.74h0M586.67 600.78h0M607.75 467.14h0M607.78 440.41h0M607.8 415.61h0M607.82 396h0M607.83 402.48h0M607.84 409.93h0M607.85 418.5h0M607.86 428.36h0M607.87 439.69h0M607.88 452.72h0M607.9 467.71h0M607.92 484.95h0M607.44 531.24h0M607.44 532.25h0M607.44 533.29h0M607.44 534.37h0M607.44 535.48h0M607.44 536.62h0M607.44 537.8h0M607.44 539.02h0M607.44 540.28h0M607.44 541.58h0M607.44 542.92h0M607.44 544.31h0M607.44 545.74h0M607.44 547.21h0M607.45 548.74h0M607.45 550.31h0M607.45 551.93h0M607.45 553.61h0M607.45 555.34h0M607.45 557.12h0M607.45 558.96h0M607.45 560.87h0M607.45 562.83h0M607.45 564.86h0M607.45 566.95h0M607.45 569.11h0M607.45 571.34h0M607.45 573.64h0M607.46 576.02h0M607.46 578.47h0M607.46 581.01h0M607.46 583.62h0M607.46 586.32h0M607.46 589.1h0M607.46 591.98h0M607.46 594.95h0M607.46 598.01h0M607.46 598.18h0M608.26 507.6h0M608.26 516.96h0M608.27 526.32h0M608.28 535.68h0M608.29 545.04h0M608.29 554.4h0M608.3 563.76h0M608.31 573.12h0M608.32 582.48h0M608.32 591.84h0M608.33 598.18h0M608.49 604.65h0M608.64 610.96h0M608.79 617.1h0M608.93 623.08h0M609.08 628.9h0M609.21 634.56h0M609.35 640.08h0M609.48 645.45h0M609.61 650.68h0M609.73 655.77h0M609.85 660.72h0M609.97 665.55h0M609.98 666.22h0M609.98 666.22h0M610.02 664.06h0M610.06 661.93h0M610.1 659.85h0M610.14 657.79h0M610.17 655.78h0M610.21 653.79h0M610.25 651.84h0M610.28 649.93h0M610.32 648.04h0M610.36 646.19h0M610.39 644.37h0M610.43 642.58h0M610.47 640.82h0M610.5 639.09h0M610.54 637.39h0M610.57 635.72h0M610.61 634.07h0M610.64 632.46h0M610.68 630.87h0M610.71 629.31h0M610.75 627.77h0M610.78 626.26h0M610.82 624.78h0M610.85 623.32h0M610.88 621.89h0M610.92 620.48h0M610.95 619.09h0M610.98 617.73h0M611.02 616.39h0M611.05 615.07h0M611.08 613.78h0M611.11 612.51h0M611.15 611.26h0M611.18 610.03h0M611.21 608.82h0M611.24 607.63h0M611.27 606.46h0M611.3 605.31h0M611.33 604.18h0M611.37 603.07h0M611.4 601.98h0M611.42 600.91h0M611.46 599.86h0M611.49 598.82h0M611.52 597.8h0M611.54 596.8h0M611.57 595.81h0M611.6 594.84h0M611.63 593.89h0M632.3 458.78h0M632.33 431.99h0M632.35 407.05h0M632.38 383.98h0M632.38 390.46h0M632.39 397.87h0M632.4 406.37h0M632.41 416.09h0M632.42 427.21h0M632.43 439.95h0M632.45 454.53h0M632.47 471.22h0M631.99 523.43h0M631.99 524.44h0M631.99 525.48h0M631.99 526.55h0M631.99 527.66h0M631.99 528.8h0M631.99 529.98h0M631.99 531.2h0M631.99 532.45h0M631.99 533.74h0M632 535.08h0M632 536.45h0M632 537.88h0M632 539.34h0M632 540.85h0M632 542.41h0M632 544.02h0M632 545.68h0M632 547.39h0M632 549.16h0M632 550.98h0M632 552.87h0M632 554.81h0M632 556.81h0M632 558.87h0M632 561h0M632.01 563.2h0M632.01 565.47h0M632.01 567.81h0M632.01 570.22h0M632.01 572.71h0M632.01 575.28h0M632.01 577.93h0M632.01 580.67h0M632.01 583.49h0M632.01 586.4h0M632.02 589.4h0M632.02 591.62h0M632.81 499.25h0M632.82 508.61h0M632.82 517.97h0M632.83 527.33h0M632.84 536.69h0M632.84 546.05h0M632.85 555.41h0M632.86 564.77h0M632.87 574.13h0M632.87 583.49h0M632.88 591.62h0M633.03 598.1h0M633.18 604.41h0M633.33 610.56h0M633.47 616.55h0M633.61 622.38h0M633.75 628.06h0M633.88 633.6h0M634.01 638.99h0M634.13 644.24h0M634.25 649.36h0M634.37 654.35h0M634.49 659.2h0M634.54 661.18h0M634.54 661.18h0M634.57 659.02h0M634.61 656.89h0M634.64 654.8h0M634.68 652.75h0M634.72 650.73h0M634.75 648.74h0M634.79 646.79h0M634.82 644.87h0M634.86 642.98h0M634.89 641.12h0M634.93 639.29h0M634.96 637.49h0M634.99 635.72h0M635.03 633.98h0M635.06 632.27h0M635.1 630.59h0M635.13 628.94h0M635.16 627.31h0M635.2 625.71h0M635.23 624.14h0M635.26 622.59h0M635.29 621.07h0M635.33 619.57h0M635.36 618.1h0M635.39 616.65h0M635.42 615.23h0M635.45 613.83h0M635.49 612.45h0M635.52 611.1h0M635.55 609.76h0M635.58 608.45h0M635.61 607.17h0M635.64 605.9h0M635.67 604.65h0M635.7 603.43h0M635.73 602.22h0M635.76 601.04h0M635.79 599.87h0M635.82 598.73h0M635.85 597.6h0M635.88 596.49h0M635.91 595.4h0M635.93 594.33h0M635.96 593.27h0M635.99 592.24h0M636.02 591.22h0M636.05 590.21h0M636.08 589.23h0M636.1 588.26h0M636.13 587.3h0M656.2 449.5h0M656.23 422.68h0M656.26 397.71h0M656.28 374.45h0M656.28 373.68h0M656.29 380.16h0M656.29 387.57h0M656.3 396.04h0M656.31 405.72h0M656.32 416.8h0M656.34 429.46h0M656.35 443.93h0M656.37 460.49h0M655.89 514.4h0M655.9 515.41h0M655.9 516.45h0M655.9 517.52h0M655.9 518.63h0M655.9 519.77h0M655.9 520.95h0M655.9 522.16h0M655.9 523.41h0M655.9 524.7h0M655.9 526.03h0M655.9 527.41h0M655.9 528.82h0M655.9 530.28h0M655.9 531.79h0M655.9 533.34h0M655.9 534.95h0M655.9 536.6h0M655.9 538.31h0M655.9 540.06h0M655.9 541.88h0M655.91 543.75h0M655.91 545.68h0M655.91 547.67h0M655.91 549.72h0M655.91 551.84h0M655.91 554.02h0M655.91 556.27h0M655.91 558.59h0M655.91 560.99h0M655.91 563.46h0M655.91 566.01h0M655.91 568.64h0M655.92 571.35h0M655.92 574.14h0M655.92 577.03h0M655.92 580h0M655.92 583.07h0M655.92 583.2h0M656.71 489.96h0M656.72 499.32h0M656.73 508.68h0M656.73 518.04h0M656.74 527.4h0M656.75 536.76h0M656.76 546.12h0M656.76 555.48h0M656.77 564.84h0M656.78 574.2h0M656.78 583.2h0M656.98 589.68h0M657.18 595.99h0M657.37 602.15h0M657.55 608.16h0M657.73 614.02h0M657.91 619.73h0M658.08 625.3h0M658.25 630.74h0M658.41 636.03h0M658.57 641.2h0M658.72 646.24h0M658.87 651.15h0M659.02 655.78h0M659.02 655.78h0M659.05 653.62h0M659.09 651.49h0M659.12 649.4h0M659.15 647.35h0M659.19 645.32h0M659.22 643.33h0M659.26 641.38h0M659.29 639.45h0M659.32 637.56h0M659.36 635.69h0M659.39 633.86h0M659.42 632.06h0M659.46 630.29h0M659.49 628.54h0M659.52 626.83h0M659.56 625.14h0M659.59 623.48h0M659.62 621.84h0M659.65 620.24h0M659.68 618.66h0M659.71 617.1h0M659.75 615.57h0M659.78 614.07h0M659.81 612.59h0M659.84 611.13h0M659.87 609.7h0M659.9 608.29h0M659.93 606.9h0M659.96 605.54h0M659.99 604.2h0M660.02 602.88h0M660.05 601.58h0M660.08 600.3h0M660.11 599.05h0M660.14 597.81h0M660.17 596.59h0M660.2 595.4h0M660.23 594.22h0M660.25 593.07h0M660.28 591.93h0M660.31 590.81h0M660.34 589.71h0M660.37 588.62h0M660.39 587.56h0M660.42 586.51h0M660.45 585.48h0M660.48 584.46h0M660.5 583.46h0M660.53 582.48h0M660.55 581.52h0M680.32 441.36h0M680.35 414.51h0M680.37 389.47h0M680.4 366.12h0M680.4 363.6h0M680.41 370.08h0M680.41 377.47h0M680.42 385.9h0M680.43 395.52h0M680.44 406.5h0M680.46 419.02h0M680.47 433.29h0M680.49 449.58h0M680.51 468.17h0M680.01 506.55h0M680.02 507.56h0M680.02 508.6h0M680.02 509.67h0M680.02 510.77h0M680.02 511.91h0M680.02 513.09h0M680.02 514.3h0M680.02 515.55h0M680.02 516.84h0M680.02 518.16h0M680.02 519.53h0M680.02 520.94h0M680.02 522.4h0M680.02 523.9h0M680.02 525.45h0M680.02 527.04h0M680.02 528.69h0M680.02 530.39h0M680.02 532.14h0M680.02 533.94h0M680.03 535.8h0M680.03 537.72h0M680.03 539.69h0M680.03 541.73h0M680.03 543.84h0M680.03 546h0M680.03 548.24h0M680.03 550.54h0M680.03 552.92h0M680.03 555.37h0M680.03 557.9h0M680.03 560.5h0M680.04 563.19h0M680.04 565.96h0M680.04 568.81h0M680.04 571.76h0M680.04 574.79h0M680.04 576h0M680.83 481.82h0M680.84 491.18h0M680.85 500.54h0M680.85 509.9h0M680.86 519.26h0M680.87 528.62h0M680.87 537.98h0M680.88 547.34h0M680.89 556.7h0M680.9 566.06h0M680.9 575.42h0M680.9 576h0M681.05 582.48h0M681.19 588.8h0M681.33 594.97h0M681.46 600.99h0M681.59 606.86h0M681.72 612.59h0M681.84 618.19h0M681.96 623.64h0M682.08 628.97h0M682.2 634.17h0M682.31 639.24h0M682.42 644.19h0M682.53 649.01h0M682.56 650.38h0M682.56 650.38h0M682.59 648.22h0M682.63 646.09h0M682.66 644h0M682.69 641.94h0M682.73 639.92h0M682.76 637.92h0M682.79 635.96h0M682.83 634.03h0M682.86 632.13h0M682.89 630.26h0M682.92 628.42h0M682.95 626.61h0M682.99 624.83h0M683.02 623.08h0M683.05 621.35h0M683.08 619.66h0M683.11 617.99h0M683.14 616.34h0M683.17 614.73h0M683.21 613.13h0M683.24 611.57h0M683.27 610.03h0M683.3 608.51h0M683.33 607.02h0M683.36 605.55h0M683.39 604.1h0M683.42 602.68h0M683.45 601.28h0M683.48 599.9h0M683.5 598.55h0M683.53 597.21h0M683.56 595.9h0M683.59 594.61h0M683.62 593.34h0M683.65 592.09h0M683.68 590.86h0M683.7 589.64h0M683.73 588.45h0M683.76 587.28h0M683.79 586.12h0M683.81 584.99h0M683.84 583.87h0M683.87 582.77h0M683.89 581.69h0M683.92 580.62h0M683.95 579.57h0M683.97 578.54h0M684 577.53h0M684.03 576.53h0M684.05 575.54h0M684.08 574.58h0M684.1 573.63h0M703.5 431.78h0M703.53 404.9h0M703.56 379.8h0M703.58 356.37h0M703.58 352.22h0M703.59 358.7h0M703.6 366.08h0M703.61 374.48h0M703.62 384.04h0M703.63 394.92h0M703.64 407.32h0M703.65 421.42h0M703.67 437.48h0M703.69 455.76h0M703.2 497.69h0M703.2 498.69h0M703.2 499.73h0M703.2 500.8h0M703.2 501.91h0M703.2 503.04h0M703.2 504.21h0M703.2 505.42h0M703.2 506.66h0M703.2 507.94h0M703.2 509.26h0M703.2 510.62h0M703.2 512.02h0M703.2 513.46h0M703.2 514.95h0M703.21 516.48h0M703.21 518.06h0M703.21 519.69h0M703.21 521.37h0M703.21 523.09h0M703.21 524.87h0M703.21 526.71h0M703.21 528.6h0M703.21 530.54h0M703.21 532.55h0M703.21 534.62h0M703.21 536.75h0M703.21 538.94h0M703.21 541.2h0M703.22 543.53h0M703.22 545.93h0M703.22 548.41h0M703.22 550.95h0M703.22 553.58h0M703.22 556.29h0M703.22 559.07h0M703.22 561.95h0M703.22 564.91h0M703.22 567.96h0M703.22 568.8h0M704.02 472.25h0M704.02 481.61h0M704.03 490.97h0M704.04 500.33h0M704.04 509.69h0M704.05 519.05h0M704.06 528.41h0M704.06 537.77h0M704.07 547.13h0M704.08 556.49h0M704.09 565.85h0M704.09 568.8h0M704.23 575.28h0M704.38 581.6h0M704.52 587.78h0M704.66 593.81h0M704.79 599.7h0M704.92 605.45h0M705.05 611.06h0M705.17 616.54h0M705.29 621.89h0M705.41 627.11h0M705.53 632.21h0M705.64 637.19h0M705.75 642.06h0M705.82 644.98h0M705.82 644.98h0M705.85 642.82h0M705.88 640.69h0M705.91 638.6h0M705.95 636.54h0M705.98 634.51h0M706.01 632.51h0M706.04 630.55h0M706.08 628.61h0M706.11 626.71h0M706.14 624.84h0M706.17 622.99h0M706.2 621.18h0M706.23 619.39h0M706.27 617.63h0M706.3 615.9h0M706.33 614.19h0M706.36 612.51h0M706.39 610.86h0M706.42 609.23h0M706.45 607.63h0M706.48 606.06h0M706.51 604.51h0M706.54 602.98h0M706.57 601.48h0M706.6 600h0M706.63 598.54h0M706.66 597.11h0M706.69 595.7h0M706.72 594.31h0M706.74 592.94h0M706.77 591.59h0M706.8 590.27h0M706.83 588.96h0M706.86 587.68h0M706.89 586.42h0M706.91 585.17h0M706.94 583.95h0M706.97 582.74h0M706.99 581.56h0M707.02 580.39h0M707.05 579.24h0M707.08 578.11h0M707.1 576.99h0M707.13 575.9h0M707.15 574.82h0M707.18 573.75h0M707.21 572.71h0M707.23 571.68h0M707.26 570.67h0M707.28 569.67h0M707.31 568.69h0M707.33 567.72h0M707.36 566.77h0M726.76 422.78h0M726.79 395.89h0M726.81 370.78h0M726.84 347.33h0M726.84 342.86h0M726.85 349.34h0M726.85 356.72h0M726.86 365.11h0M726.87 374.66h0M726.88 385.53h0M726.89 397.89h0M726.91 411.96h0M726.92 427.98h0M726.94 446.2h0M726.45 489.4h0M726.46 490.41h0M726.46 491.44h0M726.46 492.51h0M726.46 493.61h0M726.46 494.75h0M726.46 495.91h0M726.46 497.11h0M726.46 498.35h0M726.46 499.63h0M726.46 500.94h0M726.46 502.29h0M726.46 503.68h0M726.46 505.11h0M726.46 506.58h0M726.46 508.1h0M726.46 509.67h0M726.46 511.27h0M726.46 512.93h0M726.46 514.64h0M726.46 516.4h0M726.46 518.2h0M726.47 520.07h0M726.47 521.99h0M726.47 523.96h0M726.47 526h0M726.47 528.09h0M726.47 530.25h0M726.47 532.47h0M726.47 534.75h0M726.47 537.11h0M726.47 539.53h0M726.47 542.03h0M726.47 544.6h0M726.47 547.24h0M726.48 549.97h0M726.48 552.77h0M726.48 555.66h0M726.48 558.64h0M726.48 561.7h0M726.48 562.18h0M727.27 463.25h0M727.28 472.61h0M727.29 481.97h0M727.29 491.33h0M727.3 500.69h0M727.31 510.05h0M727.31 519.41h0M727.32 528.77h0M727.33 538.13h0M727.33 547.49h0M727.34 556.85h0M727.34 562.18h0M727.48 568.65h0M727.62 574.98h0M727.75 581.16h0M727.88 587.2h0M728.01 593.1h0M728.13 598.86h0M728.25 604.48h0M728.37 609.98h0M728.48 615.34h0M728.59 620.59h0M728.7 625.71h0M728.81 630.71h0M728.91 635.59h0M729 639.58h0M729 639.58h0M729.03 637.42h0M729.06 635.29h0M729.1 633.2h0M729.13 631.13h0M729.16 629.1h0M729.19 627.1h0M729.22 625.14h0M729.25 623.2h0M729.28 621.29h0M729.31 619.41h0M729.34 617.56h0M729.38 615.74h0M729.41 613.95h0M729.44 612.18h0M729.47 610.44h0M729.5 608.73h0M729.53 607.04h0M729.55 605.38h0M729.58 603.75h0M729.61 602.14h0M729.64 600.55h0M729.67 598.99h0M729.7 597.45h0M729.73 595.94h0M729.76 594.45h0M729.79 592.98h0M729.82 591.54h0M729.84 590.12h0M729.87 588.72h0M729.9 587.34h0M729.93 585.98h0M729.96 584.64h0M729.98 583.33h0M730.01 582.03h0M730.04 580.76h0M730.06 579.5h0M730.09 578.26h0M730.12 577.04h0M730.14 575.84h0M730.17 574.66h0M730.2 573.5h0M730.22 572.35h0M730.25 571.23h0M730.27 570.12h0M730.3 569.02h0M730.32 567.95h0M730.35 566.89h0M730.38 565.84h0M730.4 564.82h0M730.43 563.8h0M730.45 562.81h0M730.47 561.83h0M730.5 560.86h0M730.52 559.91h0M749.66 413.78h0M749.68 386.9h0M749.71 361.82h0M749.73 338.4h0M749.74 334.58h0M749.74 341.06h0M749.75 348.44h0M749.76 356.85h0M749.77 366.42h0M749.78 377.32h0M749.79 389.74h0M749.8 403.88h0M749.82 419.98h0M749.84 438.33h0M749.35 481.13h0M749.35 482.14h0M749.35 483.18h0M749.35 484.25h0M749.35 485.34h0M749.35 486.47h0M749.35 487.64h0M749.35 488.83h0M749.35 490.06h0M749.35 491.33h0M749.35 492.64h0M749.36 493.98h0M749.36 495.36h0M749.36 496.78h0M749.36 498.24h0M749.36 499.74h0M749.36 501.29h0M749.36 502.88h0M749.36 504.52h0M749.36 506.21h0M749.36 507.94h0M749.36 509.73h0M749.36 511.57h0M749.36 513.46h0M749.36 515.4h0M749.36 517.4h0M749.36 519.46h0M749.36 521.58h0M749.37 523.76h0M749.37 526.01h0M749.37 528.32h0M749.37 530.69h0M749.37 533.14h0M749.37 535.65h0M749.37 538.24h0M749.37 540.91h0M749.37 543.65h0M749.37 546.47h0M749.37 549.37h0M749.37 552.36h0M749.38 555.43h0M749.38 555.62h0M750.17 454.25h0M750.17 463.61h0M750.18 472.97h0M750.19 482.33h0M750.19 491.69h0M750.2 501.05h0M750.21 510.41h0M750.21 519.77h0M750.22 529.13h0M750.23 538.49h0M750.23 547.85h0M750.24 555.62h0M750.34 562.1h0M750.44 568.43h0M750.54 574.62h0M750.63 580.66h0M750.72 586.57h0M750.81 592.34h0M750.9 597.98h0M750.99 603.49h0M751.07 608.87h0M751.15 614.13h0M751.23 619.27h0M751.31 624.29h0M751.39 629.19h0M751.46 633.99h0M751.46 634.18h0M751.46 634.18h0M751.5 632.02h0M751.53 629.89h0M751.56 627.79h0M751.59 625.73h0M751.62 623.7h0M751.65 621.7h0M751.68 619.73h0M751.71 617.79h0M751.74 615.88h0M751.77 613.99h0M751.8 612.14h0M751.83 610.31h0M751.86 608.52h0M751.89 606.75h0M751.92 605h0M751.95 603.29h0M751.98 601.59h0M752.01 599.93h0M752.04 598.29h0M752.07 596.67h0M752.1 595.08h0M752.12 593.51h0M752.15 591.97h0M752.18 590.45h0M752.21 588.96h0M752.24 587.48h0M752.27 586.03h0M752.29 584.6h0M752.32 583.19h0M752.35 581.81h0M752.38 580.44h0M752.4 579.1h0M752.43 577.77h0M752.46 576.47h0M752.48 575.18h0M752.51 573.92h0M752.54 572.67h0M752.56 571.44h0M752.59 570.24h0M752.61 569.05h0M752.64 567.87h0M752.67 566.72h0M752.69 565.58h0M752.72 564.46h0M752.74 563.36h0M752.77 562.28h0M752.79 561.21h0M752.81 560.15h0M752.84 559.12h0M752.86 558.1h0M752.89 557.09h0M752.91 556.1h0M752.94 555.12h0M752.96 554.16h0M771.9 405.94h0M771.93 379h0M771.95 353.82h0M771.98 330.27h0M771.98 323.78h0M771.99 330.26h0M772 337.62h0M772.01 345.97h0M772.01 355.45h0M772.02 366.21h0M772.04 378.43h0M772.05 392.3h0M772.07 408.05h0M772.08 425.92h0M771.6 473.28h0M771.6 474.29h0M771.6 475.33h0M771.6 476.4h0M771.6 477.5h0M771.6 478.63h0M771.6 479.79h0M771.6 480.99h0M771.6 482.22h0M771.6 483.48h0M771.6 484.79h0M771.6 486.13h0M771.6 487.51h0M771.6 488.93h0M771.6 490.39h0M771.61 491.9h0M771.61 493.44h0M771.61 495.04h0M771.61 496.67h0M771.61 498.36h0M771.61 500.1h0M771.61 501.88h0M771.61 503.72h0M771.61 505.61h0M771.61 507.55h0M771.61 509.56h0M771.61 511.62h0M771.61 513.73h0M771.61 515.92h0M771.61 518.16h0M771.61 520.47h0M771.62 522.85h0M771.62 525.29h0M771.62 527.81h0M771.62 530.4h0M771.62 533.06h0M771.62 535.8h0M771.62 538.62h0M771.62 541.52h0M771.62 544.51h0M771.62 547.58h0M771.62 547.78h0M772.42 446.4h0M772.42 455.76h0M772.43 465.12h0M772.44 474.48h0M772.44 483.84h0M772.45 493.2h0M772.46 502.56h0M772.46 511.92h0M772.47 521.28h0M772.48 530.64h0M772.48 540h0M772.49 547.78h0M772.61 554.25h0M772.73 560.59h0M772.84 566.79h0M772.95 572.85h0M773.06 578.77h0M773.17 584.57h0M773.27 590.24h0M773.38 595.78h0M773.48 601.2h0M773.58 606.5h0M773.67 611.69h0M773.77 616.76h0M773.86 621.72h0M773.95 626.56h0M774 629.42h0M774 629.42h0M774.03 627.26h0M774.06 625.14h0M774.09 623.04h0M774.12 620.98h0M774.15 618.94h0M774.18 616.94h0M774.21 614.96h0M774.23 613.02h0M774.26 611.1h0M774.29 609.22h0M774.32 607.36h0M774.35 605.53h0M774.38 603.72h0M774.4 601.95h0M774.43 600.2h0M774.46 598.47h0M774.49 596.77h0M774.52 595.1h0M774.54 593.45h0M774.57 591.83h0M774.6 590.23h0M774.62 588.65h0M774.65 587.1h0M774.68 585.57h0M774.7 584.07h0M774.73 582.58h0M774.76 581.12h0M774.78 579.68h0M774.81 578.26h0M774.84 576.86h0M774.86 575.49h0M774.89 574.13h0M774.91 572.79h0M774.94 571.48h0M774.96 570.18h0M774.99 568.9h0M775.01 567.65h0M775.04 566.41h0M775.06 565.19h0M775.09 563.98h0M775.11 562.8h0M775.14 561.63h0M775.16 560.48h0M775.19 559.35h0M775.21 558.23h0M775.23 557.13h0M775.26 556.05h0M775.28 554.99h0M775.3 553.93h0M775.33 552.9h0M775.35 551.88h0M775.37 550.88h0M775.39 549.89h0M775.42 548.91h0M775.44 547.95h0M793.72 397.58h0M793.75 370.63h0M793.77 345.41h0M793.79 321.8h0M793.8 314.14h0M793.81 320.62h0M793.81 327.96h0M793.82 336.29h0M793.83 345.73h0M793.84 356.44h0M793.85 368.57h0M793.87 382.33h0M793.88 397.92h0M793.9 415.6h0M793.41 465.39h0M793.42 466.39h0M793.42 467.43h0M793.42 468.5h0M793.42 469.59h0M793.42 470.72h0M793.42 471.88h0M793.42 473.08h0M793.42 474.31h0M793.42 475.57h0M793.42 476.87h0M793.42 478.2h0M793.42 479.58h0M793.42 480.99h0M793.42 482.45h0M793.42 483.94h0M793.42 485.48h0M793.42 487.06h0M793.42 488.69h0M793.42 490.36h0M793.42 492.09h0M793.42 493.86h0M793.42 495.68h0M793.43 497.55h0M793.43 499.48h0M793.43 501.46h0M793.43 503.5h0M793.43 505.6h0M793.43 507.76h0M793.43 509.98h0M793.43 512.26h0M793.43 514.61h0M793.43 517.03h0M793.43 519.51h0M793.43 522.07h0M793.43 524.69h0M793.44 527.4h0M793.44 530.18h0M793.44 533.04h0M793.44 535.98h0M793.44 539.01h0M793.44 540.94h0M794.23 438.05h0M794.24 447.41h0M794.25 456.77h0M794.25 466.13h0M794.26 475.49h0M794.26 484.85h0M794.27 494.21h0M794.28 503.57h0M794.28 512.93h0M794.29 522.29h0M794.3 531.65h0M794.3 540.94h0M794.42 547.41h0M794.54 553.75h0M794.65 559.95h0M794.76 566.02h0M794.87 571.96h0M794.97 577.76h0M795.08 583.45h0M795.18 589h0M795.28 594.44h0M795.37 599.76h0M795.47 604.97h0M795.56 610.06h0M795.65 615.04h0M795.74 619.91h0M795.82 624.02h0M795.82 624.02h0M795.84 621.86h0M795.87 619.74h0M795.9 617.64h0M795.93 615.57h0M795.96 613.54h0M795.99 611.53h0M796.02 609.56h0M796.04 607.61h0M796.07 605.69h0M796.1 603.8h0M796.13 601.94h0M796.16 600.1h0M796.18 598.3h0M796.21 596.51h0M796.24 594.76h0M796.27 593.03h0M796.29 591.33h0M796.32 589.65h0M796.35 587.99h0M796.37 586.36h0M796.4 584.76h0M796.43 583.17h0M796.45 581.62h0M796.48 580.08h0M796.5 578.57h0M796.53 577.07h0M796.56 575.61h0M796.58 574.16h0M796.61 572.73h0M796.63 571.33h0M796.66 569.94h0M796.68 568.58h0M796.71 567.23h0M796.73 565.91h0M796.76 564.6h0M796.78 563.32h0M796.81 562.05h0M796.83 560.8h0M796.86 559.57h0M796.88 558.36h0M796.9 557.17h0M796.93 555.99h0M796.95 554.83h0M796.97 553.69h0M797 552.56h0M797.02 551.45h0M797.04 550.36h0M797.07 549.29h0M797.09 548.22h0M797.11 547.18h0M797.14 546.15h0M797.16 545.14h0M797.18 544.14h0M797.2 543.15h0M797.22 542.18h0M797.24 541.22h0M815.32 389.52h0M815.35 362.59h0M815.37 337.4h0M815.39 313.84h0M815.4 307.22h0M815.41 313.7h0M815.41 321.06h0M815.42 329.41h0M815.43 338.88h0M815.44 349.64h0M815.45 361.85h0M815.47 375.7h0M815.48 391.43h0M815.5 409.28h0M815.01 458.01h0M815.02 459.02h0M815.02 460.06h0M815.02 461.12h0M815.02 462.22h0M815.02 463.34h0M815.02 464.5h0M815.02 465.69h0M815.02 466.91h0M815.02 468.17h0M815.02 469.46h0M815.02 470.79h0M815.02 472.16h0M815.02 473.56h0M815.02 475h0M815.02 476.49h0M815.02 478.01h0M815.02 479.58h0M815.02 481.19h0M815.02 482.85h0M815.02 484.55h0M815.02 486.3h0M815.02 488.1h0M815.03 489.95h0M815.03 491.86h0M815.03 493.81h0M815.03 495.82h0M815.03 497.89h0M815.03 500.01h0M815.03 502.2h0M815.03 504.44h0M815.03 506.75h0M815.03 509.12h0M815.03 511.56h0M815.03 514.07h0M815.03 516.64h0M815.03 519.29h0M815.04 522.02h0M815.04 524.81h0M815.04 527.69h0M815.04 530.65h0M815.04 533.69h0M815.04 535.18h0M815.83 429.98h0M815.84 439.34h0M815.84 448.7h0M815.85 458.06h0M815.86 467.42h0M815.86 476.78h0M815.87 486.14h0M815.88 495.5h0M815.88 504.86h0M815.89 514.22h0M815.9 523.58h0M815.9 532.94h0M815.9 535.18h0M816.03 541.65h0M816.16 547.99h0M816.28 554.2h0M816.4 560.26h0M816.52 566.2h0M816.63 572.01h0M816.75 577.7h0M816.86 583.26h0M816.97 588.7h0M817.07 594.02h0M817.18 599.23h0M817.28 604.33h0M817.38 609.32h0M817.47 614.2h0M817.56 618.62h0M817.56 618.62h0M817.59 616.46h0M817.62 614.34h0M817.64 612.24h0M817.67 610.17h0M817.7 608.13h0M817.73 606.13h0M817.76 604.15h0M817.78 602.2h0M817.81 600.28h0M817.84 598.38h0M817.87 596.52h0M817.89 594.68h0M817.92 592.87h0M817.95 591.08h0M817.97 589.32h0M818 587.59h0M818.03 585.88h0M818.05 584.2h0M818.08 582.54h0M818.11 580.9h0M818.13 579.29h0M818.16 577.7h0M818.18 576.14h0M818.21 574.59h0M818.23 573.07h0M818.26 571.58h0M818.29 570.1h0M818.31 568.64h0M818.33 567.21h0M818.36 565.8h0M818.38 564.41h0M818.41 563.03h0M818.43 561.68h0M818.46 560.35h0M818.48 559.04h0M818.51 557.74h0M818.53 556.47h0M818.56 555.21h0M818.58 553.97h0M818.6 552.75h0M818.63 551.55h0M818.65 550.36h0M818.67 549.2h0M818.7 548.05h0M818.72 546.91h0M818.74 545.79h0M818.76 544.69h0M818.79 543.61h0M818.81 542.54h0M818.83 541.48h0M818.85 540.44h0M818.88 539.42h0M818.9 538.41h0M818.92 537.42h0M818.94 536.44h0M818.96 535.47h0M818.98 534.52h0M836.92 381.6h0M836.95 354.65h0M836.97 329.44h0M836.99 305.86h0M837 298.58h0M837.01 305.06h0M837.01 312.41h0M837.02 320.75h0M837.03 330.2h0M837.04 340.93h0M837.05 353.09h0M837.07 366.88h0M837.08 382.53h0M837.1 400.27h0M836.61 450.68h0M836.62 451.68h0M836.62 452.72h0M836.62 453.78h0M836.62 454.88h0M836.62 456h0M836.62 457.16h0M836.62 458.34h0M836.62 459.56h0M836.62 460.81h0M836.62 462.1h0M836.62 463.42h0M836.62 464.78h0M836.62 466.18h0M836.62 467.61h0M836.62 469.09h0M836.62 470.6h0M836.62 472.16h0M836.62 473.76h0M836.62 475.4h0M836.62 477.09h0M836.62 478.82h0M836.62 480.6h0M836.62 482.43h0M836.63 484.32h0M836.63 486.25h0M836.63 488.24h0M836.63 490.28h0M836.63 492.37h0M836.63 494.53h0M836.63 496.74h0M836.63 499.02h0M836.63 501.36h0M836.63 503.76h0M836.63 506.23h0M836.63 508.76h0M836.63 511.37h0M836.64 514.05h0M836.64 516.8h0M836.64 519.62h0M836.64 522.53h0M836.64 525.51h0M836.64 528.58h0M836.64 529.2h0M837.43 422.06h0M837.44 431.42h0M837.44 440.78h0M837.45 450.14h0M837.46 459.5h0M837.46 468.86h0M837.47 478.22h0M837.48 487.58h0M837.48 496.94h0M837.49 506.3h0M837.49 515.66h0M837.5 525.02h0M837.5 529.2h0M837.62 535.68h0M837.73 542.02h0M837.85 548.22h0M837.96 554.29h0M838.06 560.24h0M838.17 566.05h0M838.27 571.74h0M838.37 577.31h0M838.47 582.76h0M838.56 588.09h0M838.66 593.31h0M838.75 598.41h0M838.84 603.41h0M838.93 608.3h0M839.01 613.08h0M839.02 613.22h0M839.02 613.22h0M839.04 611.06h0M839.07 608.94h0M839.1 606.84h0M839.12 604.77h0M839.15 602.73h0M839.18 600.72h0M839.2 598.74h0M839.23 596.79h0M839.25 594.86h0M839.28 592.97h0M839.31 591.1h0M839.33 589.26h0M839.36 587.44h0M839.38 585.65h0M839.41 583.89h0M839.43 582.15h0M839.46 580.43h0M839.49 578.74h0M839.51 577.08h0M839.53 575.44h0M839.56 573.82h0M839.58 572.23h0M839.61 570.65h0M839.63 569.11h0M839.66 567.58h0M839.68 566.07h0M839.71 564.59h0M839.73 563.13h0M839.75 561.69h0M839.78 560.27h0M839.8 558.87h0M839.83 557.49h0M839.85 556.13h0M839.87 554.79h0M839.89 553.46h0M839.92 552.16h0M839.94 550.88h0M839.96 549.61h0M839.99 548.37h0M840.01 547.14h0M840.03 545.93h0M840.05 544.73h0M840.08 543.55h0M840.1 542.39h0M840.12 541.25h0M840.14 540.12h0M840.16 539.01h0M840.18 537.92h0M840.21 536.84h0M840.23 535.77h0M840.25 534.73h0M840.27 533.69h0M840.29 532.67h0M840.31 531.67h0M840.33 530.68h0M840.35 529.7h0M840.37 528.74h0M857.66 373.54h0M857.68 346.54h0M857.7 321.24h0M857.73 297.52h0M857.74 287.42h0M857.74 293.9h0M857.75 301.23h0M857.76 309.51h0M857.77 318.88h0M857.78 329.47h0M857.79 341.44h0M857.8 354.97h0M857.81 370.27h0M857.83 387.57h0M857.35 442.87h0M857.35 443.88h0M857.35 444.92h0M857.35 445.98h0M857.35 447.07h0M857.35 448.19h0M857.35 449.35h0M857.35 450.53h0M857.35 451.75h0M857.35 453h0M857.35 454.28h0M857.35 455.6h0M857.36 456.96h0M857.36 458.35h0M857.36 459.78h0M857.36 461.25h0M857.36 462.76h0M857.36 464.31h0M857.36 465.91h0M857.36 467.54h0M857.36 469.22h0M857.36 470.95h0M857.36 472.73h0M857.36 474.55h0M857.36 476.42h0M857.36 478.35h0M857.36 480.32h0M857.36 482.35h0M857.36 484.44h0M857.36 486.58h0M857.37 488.78h0M857.37 491.04h0M857.37 493.37h0M857.37 495.75h0M857.37 498.2h0M857.37 500.72h0M857.37 503.31h0M857.37 505.97h0M857.37 508.7h0M857.37 511.5h0M857.37 514.38h0M857.37 517.35h0M857.38 520.39h0M857.38 522h0M858.17 414h0M858.17 423.36h0M858.18 432.72h0M858.19 442.08h0M858.19 451.44h0M858.2 460.8h0M858.21 470.16h0M858.21 479.52h0M858.22 488.88h0M858.22 498.24h0M858.23 507.6h0M858.24 516.96h0M858.24 522h0M858.37 528.48h0M858.51 534.82h0M858.64 541.03h0M858.76 547.12h0M858.89 553.07h0M859.01 558.9h0M859.13 564.61h0M859.24 570.2h0M859.36 575.68h0M859.47 581.04h0M859.58 586.29h0M859.69 591.43h0M859.79 596.46h0M859.89 601.39h0M859.99 606.21h0M860.04 608.4h0M860.04 608.4h0M860.07 606.24h0M860.09 604.11h0M860.12 602.01h0M860.15 599.94h0M860.17 597.9h0M860.2 595.89h0M860.22 593.91h0M860.25 591.95h0M860.28 590.03h0M860.3 588.13h0M860.33 586.25h0M860.35 584.41h0M860.38 582.59h0M860.4 580.79h0M860.43 579.03h0M860.45 577.28h0M860.48 575.56h0M860.5 573.87h0M860.53 572.2h0M860.55 570.55h0M860.58 568.93h0M860.6 567.33h0M860.62 565.75h0M860.65 564.19h0M860.67 562.66h0M860.7 561.15h0M860.72 559.66h0M860.74 558.19h0M860.77 556.74h0M860.79 555.31h0M860.81 553.9h0M860.84 552.52h0M860.86 551.15h0M860.88 549.8h0M860.91 548.47h0M860.93 547.16h0M860.95 545.87h0M860.97 544.59h0M861 543.34h0M861.02 542.1h0M861.04 540.88h0M861.06 539.67h0M861.08 538.49h0M861.11 537.32h0M861.13 536.16h0M861.15 535.03h0M861.17 533.91h0M861.19 532.8h0M861.21 531.71h0M861.23 530.64h0M861.25 529.58h0M861.28 528.54h0M861.3 527.51h0M861.32 526.5h0M861.34 525.5h0M861.36 524.51h0M861.38 523.54h0M861.4 522.58h0M878.68 365.98h0M878.7 338.94h0M878.73 313.57h0M878.75 289.75h0M878.76 277.42h0M878.77 283.9h0M878.77 291.2h0M878.78 299.45h0M878.79 308.75h0M878.8 319.23h0M878.81 331.06h0M878.82 344.4h0M878.83 359.45h0M878.85 376.42h0M878.87 395.56h0M878.37 435.59h0M878.38 436.6h0M878.38 437.64h0M878.38 438.7h0M878.38 439.79h0M878.38 440.91h0M878.38 442.07h0M878.38 443.25h0M878.38 444.46h0M878.38 445.71h0M878.38 446.99h0M878.38 448.31h0M878.38 449.66h0M878.38 451.05h0M878.38 452.48h0M878.38 453.94h0M878.38 455.45h0M878.38 456.99h0M878.38 458.58h0M878.38 460.21h0M878.38 461.89h0M878.38 463.61h0M878.38 465.37h0M878.38 467.19h0M878.39 469.05h0M878.39 470.96h0M878.39 472.93h0M878.39 474.95h0M878.39 477.02h0M878.39 479.15h0M878.39 481.34h0M878.39 483.58h0M878.39 485.89h0M878.39 488.26h0M878.39 490.7h0M878.39 493.2h0M878.39 495.76h0M878.39 498.4h0M878.4 501.11h0M878.4 503.89h0M878.4 506.75h0M878.4 509.68h0M878.4 512.7h0M878.4 515.38h0M879.19 406.44h0M879.2 415.8h0M879.2 425.16h0M879.21 434.52h0M879.22 443.88h0M879.22 453.24h0M879.23 462.6h0M879.24 471.96h0M879.24 481.32h0M879.25 490.68h0M879.25 500.04h0M879.26 509.4h0M879.26 515.38h0M879.38 521.86h0M879.49 528.2h0M879.59 534.41h0M879.7 540.5h0M879.8 546.46h0M879.91 552.3h0M880 558.01h0M880.1 563.61h0M880.2 569.09h0M880.29 574.46h0M880.38 579.72h0M880.47 584.87h0M880.56 589.91h0M880.64 594.85h0M880.73 599.68h0M880.78 602.42h0M880.78 602.42h0M880.8 600.26h0M880.83 598.13h0M880.85 596.04h0M880.88 593.97h0M880.91 591.92h0M880.93 589.91h0M880.96 587.93h0M880.98 585.97h0M881.01 584.04h0M881.03 582.14h0M881.06 580.27h0M881.08 578.42h0M881.11 576.6h0M881.14 574.8h0M881.16 573.03h0M881.18 571.28h0M881.21 569.56h0M881.23 567.86h0M881.26 566.19h0M881.28 564.54h0M881.31 562.91h0M881.33 561.31h0M881.36 559.72h0M881.38 558.16h0M881.4 556.63h0M881.43 555.11h0M881.45 553.62h0M881.47 552.14h0M881.5 550.69h0M881.52 549.26h0M881.54 547.84h0M881.57 546.45h0M881.59 545.08h0M881.61 543.72h0M881.64 542.39h0M881.66 541.07h0M881.68 539.78h0M881.7 538.5h0M881.72 537.24h0M881.75 535.99h0M881.77 534.77h0M881.79 533.56h0M881.81 532.37h0M881.83 531.19h0M881.86 530.03h0M881.88 528.89h0M881.9 527.76h0M881.92 526.65h0M881.94 525.56h0M881.96 524.48h0M881.98 523.42h0M882 522.37h0M882.02 521.33h0M882.04 520.31h0M882.06 519.31h0M882.08 518.32h0M882.1 517.34h0M882.12 516.37h0M882.14 515.42h0M899.34 358.34h0M899.37 331.32h0M899.39 305.96h0M899.41 282.15h0M899.42 270.22h0M899.43 276.7h0M899.44 284.01h0M899.44 292.26h0M899.45 301.57h0M899.46 312.07h0M899.47 323.92h0M899.49 337.3h0M899.5 352.39h0M899.51 369.42h0M899.04 428.35h0M899.04 429.36h0M899.04 430.39h0M899.04 431.46h0M899.04 432.55h0M899.04 433.67h0M899.04 434.82h0M899.04 436h0M899.04 437.21h0M899.04 438.46h0M899.04 439.73h0M899.04 441.05h0M899.04 442.4h0M899.04 443.78h0M899.04 445.2h0M899.04 446.66h0M899.04 448.16h0M899.05 449.7h0M899.05 451.28h0M899.05 452.9h0M899.05 454.56h0M899.05 456.27h0M899.05 458.03h0M899.05 459.83h0M899.05 461.68h0M899.05 463.58h0M899.05 465.53h0M899.05 467.54h0M899.05 469.59h0M899.05 471.7h0M899.05 473.87h0M899.05 476.1h0M899.05 478.39h0M899.06 480.73h0M899.06 483.14h0M899.06 485.62h0M899.06 488.16h0M899.06 490.77h0M899.06 493.45h0M899.06 496.2h0M899.06 499.02h0M899.06 501.92h0M899.06 504.9h0M899.06 507.96h0M899.06 509.04h0M899.86 398.81h0M899.86 408.17h0M899.87 417.53h0M899.87 426.89h0M899.88 436.25h0M899.89 445.61h0M899.89 454.97h0M899.9 464.33h0M899.9 473.69h0M899.91 483.05h0M899.92 492.41h0M899.92 501.77h0M899.93 509.04h0M900 515.52h0M900.07 521.87h0M900.14 528.09h0M900.21 534.18h0M900.28 540.15h0M900.35 545.99h0M900.41 551.72h0M900.48 557.34h0M900.54 562.83h0M900.6 568.22h0M900.66 573.5h0M900.72 578.67h0M900.78 583.73h0M900.83 588.69h0M900.89 593.55h0M900.94 597.6h0M900.94 597.6h0M900.96 595.44h0M900.99 593.31h0M901.01 591.21h0M901.04 589.14h0M901.07 587.1h0M901.09 585.08h0M901.12 583.1h0M901.14 581.14h0M901.17 579.21h0M901.19 577.31h0M901.22 575.43h0M901.24 573.58h0M901.27 571.76h0M901.29 569.96h0M901.32 568.18h0M901.34 566.43h0M901.37 564.71h0M901.39 563.01h0M901.42 561.33h0M901.44 559.68h0M901.47 558.05h0M901.49 556.44h0M901.51 554.85h0M901.54 553.29h0M901.56 551.75h0M901.59 550.23h0M901.61 548.73h0M901.63 547.25h0M901.66 545.8h0M901.68 544.36h0M901.7 542.94h0M901.73 541.54h0M901.75 540.17h0M901.77 538.81h0M901.79 537.47h0M901.82 536.15h0M901.84 534.85h0M901.86 533.56h0M901.88 532.3h0M901.91 531.05h0M901.93 529.82h0M901.95 528.6h0M901.97 527.41h0M901.99 526.23h0M902.01 525.06h0M902.04 523.91h0M902.06 522.78h0M902.08 521.67h0M902.1 520.57h0M902.12 519.48h0M902.14 518.41h0M902.16 517.36h0M902.18 516.32h0M902.2 515.29h0M902.22 514.28h0M902.24 513.28h0M902.26 512.3h0M902.28 511.33h0M902.3 510.37h0M919.5 351.94h0M919.53 324.89h0M919.55 299.48h0M919.57 275.62h0M919.58 262.22h0M919.59 268.7h0M919.6 276h0M919.6 284.23h0M919.61 293.5h0M919.62 303.94h0M919.63 315.7h0M919.64 328.96h0M919.66 343.89h0M919.67 360.71h0M919.69 379.67h0M919.2 422.18h0M919.2 423.19h0M919.2 424.22h0M919.2 425.28h0M919.2 426.37h0M919.2 427.49h0M919.2 428.64h0M919.2 429.82h0M919.2 431.03h0M919.2 432.28h0M919.2 433.55h0M919.2 434.87h0M919.2 436.21h0M919.2 437.59h0M919.2 439.01h0M919.2 440.46h0M919.2 441.96h0M919.21 443.49h0M919.21 445.07h0M919.21 446.68h0M919.21 448.34h0M919.21 450.05h0M919.21 451.8h0M919.21 453.59h0M919.21 455.43h0M919.21 457.33h0M919.21 459.27h0M919.21 461.26h0M919.21 463.31h0M919.21 465.41h0M919.21 467.57h0M919.21 469.78h0M919.21 472.06h0M919.21 474.39h0M919.22 476.79h0M919.22 479.25h0M919.22 481.77h0M919.22 484.37h0M919.22 487.03h0M919.22 489.76h0M919.22 492.56h0M919.22 495.44h0M919.22 498.4h0M919.22 501.43h0M919.22 503.42h0M920.02 392.4h0M920.02 401.76h0M920.03 411.12h0M920.03 420.48h0M920.04 429.84h0M920.05 439.2h0M920.05 448.56h0M920.06 457.92h0M920.06 467.28h0M920.07 476.64h0M920.08 486h0M920.08 495.36h0M920.09 503.42h0M920.17 509.9h0M920.26 516.25h0M920.34 522.47h0M920.42 528.56h0M920.49 534.53h0M920.57 540.37h0M920.65 546.1h0M920.72 551.7h0M920.79 557.2h0M920.86 562.58h0M920.93 567.85h0M921 573.02h0M921.06 578.08h0M921.13 583.03h0M921.19 587.89h0M921.24 591.62h0M921.24 591.62h0M921.27 589.46h0M921.29 587.33h0M921.32 585.23h0M921.34 583.16h0M921.36 581.12h0M921.39 579.11h0M921.41 577.12h0M921.44 575.16h0M921.46 573.23h0M921.49 571.33h0M921.51 569.45h0M921.54 567.6h0M921.56 565.77h0M921.58 563.97h0M921.61 562.19h0M921.63 560.44h0M921.65 558.71h0M921.68 557.01h0M921.7 555.33h0M921.72 553.67h0M921.75 552.04h0M921.77 550.43h0M921.79 548.84h0M921.82 547.28h0M921.84 545.73h0M921.86 544.21h0M921.89 542.71h0M921.91 541.23h0M921.93 539.77h0M921.95 538.33h0M921.97 536.91h0M922 535.5h0M922.02 534.12h0M922.04 532.76h0M922.06 531.42h0M922.08 530.09h0M922.1 528.79h0M922.13 527.5h0M922.15 526.23h0M922.17 524.98h0M922.19 523.74h0M922.21 522.53h0M922.23 521.32h0M922.25 520.14h0M922.27 518.97h0M922.29 517.82h0M922.31 516.68h0M922.33 515.57h0M922.35 514.46h0M922.37 513.37h0M922.39 512.3h0M922.41 511.24h0M922.43 510.19h0M922.45 509.16h0M922.47 508.15h0M922.49 507.15h0M922.51 506.16h0M922.53 505.19h0M922.55 504.23h0M939.16 344.74h0M939.18 317.67h0M939.21 292.23h0M939.23 268.32h0M939.24 253.8h0M939.25 260.28h0M939.25 267.57h0M939.26 275.78h0M939.27 285.01h0M939.28 295.41h0M939.29 307.1h0M939.3 320.27h0M939.31 335.08h0M939.33 351.75h0M939.34 370.51h0M938.85 414.98h0M938.86 415.99h0M938.86 417.02h0M938.86 418.08h0M938.86 419.17h0M938.86 420.29h0M938.86 421.44h0M938.86 422.62h0M938.86 423.83h0M938.86 425.08h0M938.86 426.35h0M938.86 427.67h0M938.86 429.01h0M938.86 430.39h0M938.86 431.81h0M938.86 433.26h0M938.86 434.76h0M938.86 436.29h0M938.86 437.87h0M938.86 439.48h0M938.86 441.14h0M938.86 442.85h0M938.86 444.6h0M938.86 446.39h0M938.87 448.23h0M938.87 450.13h0M938.87 452.07h0M938.87 454.06h0M938.87 456.11h0M938.87 458.21h0M938.87 460.37h0M938.87 462.58h0M938.87 464.86h0M938.87 467.19h0M938.87 469.59h0M938.87 472.05h0M938.87 474.57h0M938.87 477.17h0M938.87 479.83h0M938.88 482.56h0M938.88 485.36h0M938.88 488.24h0M938.88 491.2h0M938.88 494.23h0M938.88 496.22h0M939.67 385.2h0M939.68 394.56h0M939.68 403.92h0M939.69 413.28h0M939.7 422.64h0M939.7 432h0M939.71 441.36h0M939.71 450.72h0M939.72 460.08h0M939.73 469.44h0M939.73 478.8h0M939.74 488.16h0M939.74 496.22h0M939.86 502.7h0M939.98 509.05h0M940.09 515.27h0M940.21 521.37h0M940.32 527.35h0M940.42 533.21h0M940.53 538.94h0M940.63 544.57h0M940.73 550.08h0M940.83 555.48h0M940.93 560.78h0M941.03 565.97h0M941.12 571.05h0M941.21 576.03h0M941.3 580.92h0M941.39 585.7h0M941.4 586.22h0M941.4 586.22h0M941.42 584.06h0M941.45 581.93h0M941.47 579.83h0M941.5 577.76h0M941.52 575.72h0M941.54 573.7h0M941.57 571.72h0M941.59 569.75h0M941.62 567.82h0M941.64 565.92h0M941.66 564.03h0M941.69 562.18h0M941.71 560.35h0M941.73 558.55h0M941.75 556.77h0M941.78 555.01h0M941.8 553.28h0M941.82 551.58h0M941.85 549.89h0M941.87 548.23h0M941.89 546.6h0M941.91 544.98h0M941.94 543.39h0M941.96 541.82h0M941.98 540.27h0M942 538.74h0M942.02 537.24h0M942.05 535.75h0M942.07 534.29h0M942.09 532.84h0M942.11 531.42h0M942.13 530.01h0M942.15 528.63h0M942.17 527.26h0M942.19 525.91h0M942.22 524.58h0M942.24 523.27h0M942.26 521.98h0M942.28 520.7h0M942.3 519.44h0M942.32 518.2h0M942.34 516.98h0M942.36 515.77h0M942.38 514.58h0M942.4 513.41h0M942.42 512.25h0M942.44 511.11h0M942.46 509.98h0M942.48 508.87h0M942.5 507.78h0M942.52 506.7h0M942.53 505.63h0M942.55 504.58h0M942.57 503.55h0M942.59 502.52h0M942.61 501.52h0M942.63 500.52h0M942.65 499.54h0M942.67 498.58h0M942.68 497.62h0M958.96 337.54h0M958.98 310.44h0M959 284.95h0M959.03 260.97h0M959.04 244.8h0M959.05 251.28h0M959.05 258.56h0M959.06 266.74h0M959.07 275.93h0M959.08 286.26h0M959.09 297.86h0M959.1 310.89h0M959.11 325.54h0M959.13 341.99h0M959.14 360.47h0M958.65 408.12h0M958.66 409.13h0M958.66 410.17h0M958.66 411.23h0M958.66 412.32h0M958.66 413.44h0M958.66 414.59h0M958.66 415.76h0M958.66 416.97h0M958.66 418.21h0M958.66 419.49h0M958.66 420.79h0M958.66 422.14h0M958.66 423.51h0M958.66 424.93h0M958.66 426.38h0M958.66 427.86h0M958.66 429.39h0M958.66 430.96h0M958.66 432.57h0M958.66 434.22h0M958.66 435.91h0M958.66 437.65h0M958.66 439.44h0M958.66 441.27h0M958.67 443.15h0M958.67 445.08h0M958.67 447.06h0M958.67 449.1h0M958.67 451.18h0M958.67 453.33h0M958.67 455.52h0M958.67 457.78h0M958.67 460.09h0M958.67 462.47h0M958.67 464.91h0M958.67 467.41h0M958.67 469.98h0M958.67 472.62h0M958.68 475.32h0M958.68 478.1h0M958.68 480.95h0M958.68 483.87h0M958.68 486.88h0M958.68 489.96h0M958.68 490.18h0M959.47 378h0M959.48 387.36h0M959.48 396.72h0M959.49 406.08h0M959.5 415.44h0M959.5 424.8h0M959.51 434.16h0M959.51 443.52h0M959.52 452.88h0M959.53 462.24h0M959.53 471.6h0M959.54 480.96h0M959.54 490.18h0M959.64 496.66h0M959.73 503.01h0M959.82 509.23h0M959.9 515.33h0M959.99 521.32h0M960.07 527.18h0M960.15 532.93h0M960.23 538.56h0M960.31 544.08h0M960.39 549.5h0M960.46 554.8h0M960.54 560h0M960.61 565.1h0M960.68 570.1h0M960.75 575h0M960.82 579.8h0M960.84 581.18h0M960.84 581.18h0M960.86 579.02h0M960.89 576.89h0M960.91 574.79h0M960.94 572.72h0M960.96 570.68h0M960.98 568.66h0M961.01 566.67h0M961.03 564.71h0M961.05 562.78h0M961.08 560.87h0M961.1 558.99h0M961.12 557.13h0M961.15 555.3h0M961.17 553.5h0M961.19 551.72h0M961.21 549.96h0M961.24 548.23h0M961.26 546.52h0M961.28 544.83h0M961.3 543.17h0M961.33 541.53h0M961.35 539.92h0M961.37 538.32h0M961.39 536.75h0M961.41 535.2h0M961.44 533.67h0M961.46 532.16h0M961.48 530.67h0M961.5 529.2h0M961.52 527.76h0M961.54 526.33h0M961.56 524.92h0M961.59 523.53h0M961.61 522.16h0M961.63 520.81h0M961.65 519.48h0M961.67 518.16h0M961.69 516.87h0M961.71 515.59h0M961.73 514.33h0M961.75 513.08h0M961.77 511.86h0M961.79 510.65h0M961.81 509.45h0M961.83 508.28h0M961.85 507.12h0M961.87 505.97h0M961.89 504.84h0M961.91 503.73h0M961.93 502.63h0M961.95 501.55h0M961.97 500.48h0M961.98 499.42h0M962 498.38h0M962.02 497.36h0M962.04 496.35h0M962.06 495.35h0M962.08 494.37h0M962.1 493.4h0M962.11 492.44h0M978.25 331.49h0M978.28 304.36h0M978.3 278.81h0M978.32 254.75h0M978.34 236.38h0M978.34 242.86h0M978.35 250.12h0M978.35 258.27h0M978.36 267.4h0M978.37 277.64h0M978.38 289.12h0M978.39 301.99h0M978.41 316.42h0M978.42 332.6h0M978.43 350.74h0M977.95 402.1h0M977.95 403.11h0M977.95 404.14h0M977.95 405.2h0M977.95 406.29h0M977.95 407.41h0M977.95 408.56h0M977.95 409.74h0M977.95 410.95h0M977.95 412.19h0M977.95 413.46h0M977.95 414.77h0M977.96 416.11h0M977.96 417.48h0M977.96 418.9h0M977.96 420.35h0M977.96 421.84h0M977.96 423.36h0M977.96 424.93h0M977.96 426.54h0M977.96 428.19h0M977.96 429.88h0M977.96 431.62h0M977.96 433.41h0M977.96 435.24h0M977.96 437.12h0M977.96 439.05h0M977.96 441.03h0M977.96 443.06h0M977.96 445.15h0M977.96 447.29h0M977.97 449.48h0M977.97 451.74h0M977.97 454.05h0M977.97 456.43h0M977.97 458.86h0M977.97 461.37h0M977.97 463.93h0M977.97 466.57h0M977.97 469.27h0M977.97 472.05h0M977.97 474.9h0M977.97 477.82h0M977.97 480.82h0M977.98 483.9h0M977.98 484.2h0M978.77 371.95h0M978.77 381.31h0M978.78 390.67h0M978.79 400.03h0M978.79 409.39h0M978.8 418.75h0M978.8 428.11h0M978.81 437.47h0M978.82 446.83h0M978.82 456.19h0M978.83 465.55h0M978.83 474.91h0M978.84 484.2h0M978.94 490.68h0M979.04 497.03h0M979.14 503.26h0M979.24 509.36h0M979.33 515.34h0M979.42 521.21h0M979.51 526.96h0M979.6 532.59h0M979.69 538.12h0M979.78 543.53h0M979.86 548.84h0M979.94 554.04h0M980.02 559.15h0M980.1 564.15h0M980.18 569.05h0M980.26 573.85h0M980.28 575.42h0M980.28 575.42h0M980.3 573.26h0M980.33 571.13h0M980.35 569.03h0M980.37 566.96h0M980.4 564.92h0M980.42 562.9h0M980.44 560.91h0M980.47 558.95h0M980.49 557.02h0M980.51 555.11h0M980.54 553.23h0M980.56 551.37h0M980.58 549.54h0M980.6 547.73h0M980.63 545.95h0M980.65 544.2h0M980.67 542.46h0M980.69 540.75h0M980.72 539.07h0M980.74 537.41h0M980.76 535.77h0M980.78 534.15h0M980.8 532.55h0M980.82 530.98h0M980.85 529.43h0M980.87 527.9h0M980.89 526.39h0M980.91 524.9h0M980.93 523.43h0M980.95 521.98h0M980.97 520.55h0M980.99 519.14h0M981.01 517.75h0M981.04 516.38h0M981.06 515.03h0M981.08 513.7h0M981.1 512.38h0M981.12 511.08h0M981.14 509.8h0M981.16 508.54h0M981.18 507.3h0M981.2 506.07h0M981.22 504.86h0M981.24 503.66h0M981.25 502.48h0M981.27 501.32h0M981.29 500.18h0M981.31 499.05h0M981.33 497.93h0M981.35 496.83h0M981.37 495.75h0M981.39 494.68h0M981.41 493.62h0M981.43 492.58h0M981.44 491.55h0M981.46 490.54h0M981.48 489.54h0M981.5 488.56h0M981.52 487.59h0M981.53 486.63h0M997.48 325.37h0M997.5 298.19h0M997.52 272.54h0M997.54 248.33h0M997.56 226.22h0M997.57 232.7h0M997.57 239.94h0M997.58 248.04h0M997.59 257.08h0M997.59 267.18h0M997.6 278.46h0M997.61 291.08h0M997.63 305.17h0M997.64 320.92h0M997.65 338.51h0M997.17 396.19h0M997.18 397.2h0M997.18 398.24h0M997.18 399.3h0M997.18 400.39h0M997.18 401.5h0M997.18 402.65h0M997.18 403.83h0M997.18 405.04h0M997.18 406.28h0M997.18 407.55h0M997.18 408.85h0M997.18 410.19h0M997.18 411.56h0M997.18 412.97h0M997.18 414.42h0M997.18 415.91h0M997.18 417.43h0M997.18 418.99h0M997.18 420.6h0M997.18 422.24h0M997.18 423.93h0M997.18 425.67h0M997.18 427.44h0M997.18 429.27h0M997.19 431.14h0M997.19 433.06h0M997.19 435.04h0M997.19 437.06h0M997.19 439.14h0M997.19 441.27h0M997.19 443.45h0M997.19 445.7h0M997.19 448h0M997.19 450.36h0M997.19 452.79h0M997.19 455.27h0M997.19 457.83h0M997.19 460.45h0M997.2 463.14h0M997.2 465.89h0M997.2 468.72h0M997.2 471.63h0M997.2 474.61h0M997.2 477.67h0M997.2 478.8h0M997.99 365.83h0M998 375.19h0M998 384.55h0M998.01 393.91h0M998.02 403.27h0M998.02 412.63h0M998.03 421.99h0M998.03 431.35h0M998.04 440.71h0M998.05 450.07h0M998.05 459.43h0M998.06 468.79h0M998.06 478.15h0M998.06 478.8h0M998.15 485.28h0M998.23 491.63h0M998.31 497.86h0M998.38 503.96h0M998.46 509.94h0M998.53 515.8h0M998.61 521.54h0M998.68 527.18h0M998.75 532.7h0M998.82 538.11h0M998.88 543.41h0M998.95 548.61h0M999.02 553.7h0M999.08 558.69h0M999.14 563.59h0M999.2 568.39h0M999.22 569.52h0M999.22 569.52h0M999.24 567.36h0M999.26 565.23h0M999.29 563.13h0M999.31 561.06h0M999.33 559.01h0M999.36 557h0M999.38 555.01h0M999.4 553.05h0M999.43 551.11h0M999.45 549.2h0M999.47 547.32h0M999.49 545.46h0M999.52 543.63h0M999.54 541.83h0M999.56 540.05h0M999.58 538.29h0M999.61 536.56h0M999.63 534.85h0M999.65 533.16h0M999.67 531.5h0M999.69 529.86h0M999.72 528.24h0M999.74 526.64h0M999.76 525.07h0M999.78 523.52h0M999.8 521.99h0M999.82 520.48h0M999.84 518.99h0M999.87 517.52h0M999.89 516.07h0M999.91 514.64h0M999.93 513.23h0M999.95 511.84h0M999.97 510.47h0M999.99 509.12h0M1000.01 507.78h0M1000.03 506.47h0M1000.05 505.17h0M1000.07 503.89h0M1000.09 502.63h0M1000.11 501.38h0M1000.13 500.15h0M1000.15 498.94h0M1000.17 497.75h0M1000.19 496.57h0M1000.21 495.41h0M1000.23 494.26h0M1000.25 493.13h0M1000.27 492.01h0M1000.29 490.91h0M1000.3 489.83h0M1000.32 488.76h0M1000.34 487.7h0M1000.36 486.66h0M1000.38 485.63h0M1000.4 484.62h0M1000.42 483.62h0M1000.43 482.63h0M1000.45 481.66h0M1000.47 480.7h0M1016.34 319.32h0M1016.36 292.1h0M1016.38 266.37h0M1016.4 242.05h0M1016.42 219.06h0M1016.42 216.72h0M1016.43 223.2h0M1016.44 230.42h0M1016.44 238.47h0M1016.45 247.43h0M1016.46 257.42h0M1016.47 268.56h0M1016.48 280.96h0M1016.49 294.79h0M1016.5 310.19h0M1016.51 327.36h0M1016.53 346.48h0M1016.04 389.8h0M1016.04 390.81h0M1016.04 391.84h0M1016.04 392.91h0M1016.04 394h0M1016.04 395.11h0M1016.04 396.26h0M1016.04 397.44h0M1016.04 398.65h0M1016.04 399.89h0M1016.04 401.17h0M1016.04 402.48h0M1016.04 403.82h0M1016.04 405.2h0M1016.04 406.61h0M1016.04 408.06h0M1016.04 409.55h0M1016.05 411.08h0M1016.05 412.65h0M1016.05 414.26h0M1016.05 415.92h0M1016.05 417.62h0M1016.05 419.36h0M1016.05 421.15h0M1016.05 422.98h0M1016.05 424.87h0M1016.05 426.8h0M1016.05 428.78h0M1016.05 430.82h0M1016.05 432.91h0M1016.05 435.06h0M1016.05 437.26h0M1016.05 439.52h0M1016.05 441.85h0M1016.06 444.23h0M1016.06 446.67h0M1016.06 449.18h0M1016.06 451.76h0M1016.06 454.4h0M1016.06 457.12h0M1016.06 459.9h0M1016.06 462.76h0M1016.06 465.7h0M1016.06 468.71h0M1016.06 471.6h0M1016.86 359.78h0M1016.86 369.14h0M1016.87 378.5h0M1016.87 387.86h0M1016.88 397.22h0M1016.89 406.58h0M1016.89 415.94h0M1016.9 425.3h0M1016.9 434.66h0M1016.91 444.02h0M1016.92 453.38h0M1016.92 462.74h0M1016.93 471.6h0M1017.03 478.08h0M1017.14 484.43h0M1017.24 490.66h0M1017.34 496.77h0M1017.43 502.77h0M1017.53 508.64h0M1017.62 514.4h0M1017.72 520.06h0M1017.81 525.6h0M1017.89 531.03h0M1017.98 536.36h0M1018.07 541.59h0M1018.15 546.71h0M1018.23 551.74h0M1018.31 556.67h0M1018.39 561.5h0M1018.44 564.62h0M1018.44 564.62h0M1018.46 562.46h0M1018.49 560.33h0M1018.51 558.23h0M1018.53 556.16h0M1018.55 554.11h0M1018.57 552.1h0M1018.6 550.11h0M1018.62 548.15h0M1018.64 546.21h0M1018.66 544.3h0M1018.68 542.42h0M1018.71 540.56h0M1018.73 538.73h0M1018.75 536.92h0M1018.77 535.14h0M1018.79 533.38h0M1018.81 531.65h0M1018.83 529.94h0M1018.85 528.25h0M1018.88 526.58h0M1018.9 524.94h0M1018.92 523.32h0M1018.94 521.72h0M1018.96 520.15h0M1018.98 518.59h0M1019 517.06h0M1019.02 515.55h0M1019.04 514.06h0M1019.06 512.59h0M1019.08 511.14h0M1019.1 509.7h0M1019.12 508.29h0M1019.14 506.9h0M1019.16 505.53h0M1019.18 504.17h0M1019.2 502.83h0M1019.22 501.52h0M1019.24 500.22h0M1019.26 498.93h0M1019.28 497.67h0M1019.29 496.42h0M1019.31 495.19h0M1019.33 493.97h0M1019.35 492.78h0M1019.37 491.59h0M1019.39 490.43h0M1019.41 489.28h0M1019.42 488.15h0M1019.44 487.03h0M1019.46 485.92h0M1019.48 484.84h0M1019.5 483.76h0M1019.51 482.7h0M1019.53 481.66h0M1019.55 480.63h0M1019.57 479.61h0M1019.58 478.61h0M1019.6 477.62h0M1019.62 476.65h0M1019.64 475.69h0M1034.92 313.56h0M1034.94 286.3h0M1034.96 260.51h0M1034.98 236.1h0M1035 213h0M1035 208.08h0M1035.01 214.56h0M1035.01 221.76h0M1035.02 229.78h0M1035.02 238.68h0M1035.03 248.59h0M1035.04 259.6h0M1035.05 271.84h0M1035.06 285.46h0M1035.07 300.59h0M1035.09 317.42h0M1035.1 336.14h0M1034.61 384.04h0M1034.62 385.05h0M1034.62 386.08h0M1034.62 387.15h0M1034.62 388.24h0M1034.62 389.35h0M1034.62 390.5h0M1034.62 391.68h0M1034.62 392.89h0M1034.62 394.13h0M1034.62 395.41h0M1034.62 396.72h0M1034.62 398.06h0M1034.62 399.44h0M1034.62 400.85h0M1034.62 402.3h0M1034.62 403.79h0M1034.62 405.32h0M1034.62 406.89h0M1034.62 408.5h0M1034.62 410.16h0M1034.62 411.86h0M1034.62 413.6h0M1034.62 415.39h0M1034.63 417.22h0M1034.63 419.11h0M1034.63 421.04h0M1034.63 423.02h0M1034.63 425.06h0M1034.63 427.15h0M1034.63 429.3h0M1034.63 431.5h0M1034.63 433.76h0M1034.63 436.09h0M1034.63 438.47h0M1034.63 440.91h0M1034.63 443.42h0M1034.63 446h0M1034.63 448.64h0M1034.64 451.36h0M1034.64 454.14h0M1034.64 457h0M1034.64 459.94h0M1034.64 462.95h0M1034.64 465.84h0M1035.43 354.02h0M1035.44 363.38h0M1035.44 372.74h0M1035.45 382.1h0M1035.46 391.46h0M1035.46 400.82h0M1035.47 410.18h0M1035.47 419.54h0M1035.48 428.9h0M1035.49 438.26h0M1035.49 447.62h0M1035.5 456.98h0M1035.5 465.84h0M1035.59 472.32h0M1035.68 478.67h0M1035.77 484.9h0M1035.86 491.01h0M1035.94 497h0M1036.02 502.87h0M1036.1 508.63h0M1036.18 514.27h0M1036.26 519.81h0M1036.34 525.24h0M1036.41 530.56h0M1036.49 535.78h0M1036.56 540.9h0M1036.63 545.91h0M1036.7 550.83h0M1036.76 555.65h0M1036.8 558.22h0M1036.8 558.22h0M1036.82 556.06h0M1036.85 553.93h0M1036.87 551.82h0M1036.89 549.75h0M1036.91 547.71h0M1036.94 545.69h0M1036.96 543.7h0M1036.98 541.74h0M1037 539.8h0M1037.02 537.89h0M1037.05 536.01h0M1037.07 534.15h0M1037.09 532.31h0M1037.11 530.51h0M1037.13 528.72h0M1037.16 526.96h0M1037.18 525.23h0M1037.2 523.51h0M1037.22 521.82h0M1037.24 520.16h0M1037.26 518.52h0M1037.28 516.89h0M1037.3 515.3h0M1037.32 513.72h0M1037.35 512.16h0M1037.37 510.63h0M1037.39 509.11h0M1037.41 507.62h0M1037.43 506.15h0M1037.45 504.69h0M1037.47 503.26h0M1037.49 501.84h0M1037.51 500.45h0M1037.53 499.07h0M1037.55 497.72h0M1037.57 496.38h0M1037.59 495.06h0M1037.61 493.75h0M1037.63 492.47h0M1037.65 491.2h0M1037.67 489.95h0M1037.68 488.72h0M1037.7 487.5h0M1037.72 486.3h0M1037.74 485.12h0M1037.76 483.95h0M1037.78 482.8h0M1037.8 481.66h0M1037.82 480.54h0M1037.83 479.43h0M1037.85 478.34h0M1037.87 477.27h0M1037.89 476.21h0M1037.91 475.16h0M1037.92 474.13h0M1037.94 473.11h0M1037.96 472.1h0M1037.98 471.11h0M1037.99 470.13h0M1038.01 469.17h0M1038.03 468.22h0M1053.49 306.36h0M1053.51 279.1h0M1053.53 253.31h0M1053.55 228.9h0M1053.57 205.8h0M1053.58 200.88h0M1053.58 207.36h0M1053.59 214.56h0M1053.59 222.58h0M1053.6 231.48h0M1053.61 241.39h0M1053.62 252.4h0M1053.63 264.64h0M1053.64 278.26h0M1053.65 293.39h0M1053.66 310.22h0M1053.68 328.94h0M1053.19 377.27h0M1053.19 378.28h0M1053.19 379.32h0M1053.19 380.38h0M1053.19 381.47h0M1053.19 382.58h0M1053.19 383.73h0M1053.19 384.91h0M1053.19 386.11h0M1053.19 387.35h0M1053.19 388.62h0M1053.19 389.93h0M1053.2 391.26h0M1053.2 392.64h0M1053.2 394.05h0M1053.2 395.49h0M1053.2 396.97h0M1053.2 398.5h0M1053.2 400.06h0M1053.2 401.66h0M1053.2 403.3h0M1053.2 404.99h0M1053.2 406.72h0M1053.2 408.5h0M1053.2 410.32h0M1053.2 412.19h0M1053.2 414.11h0M1053.2 416.08h0M1053.2 418.1h0M1053.2 420.17h0M1053.2 422.3h0M1053.21 424.48h0M1053.21 426.72h0M1053.21 429.02h0M1053.21 431.38h0M1053.21 433.8h0M1053.21 436.28h0M1053.21 438.83h0M1053.21 441.44h0M1053.21 444.12h0M1053.21 446.87h0M1053.21 449.7h0M1053.21 452.59h0M1053.21 455.57h0M1053.22 458.62h0M1053.22 460.08h0M1054.01 346.82h0M1054.01 356.18h0M1054.02 365.54h0M1054.03 374.9h0M1054.03 384.26h0M1054.04 393.62h0M1054.04 402.98h0M1054.05 412.34h0M1054.06 421.7h0M1054.06 431.06h0M1054.07 440.42h0M1054.07 449.78h0M1054.08 459.14h0M1054.08 460.08h0M1054.17 466.56h0M1054.26 472.91h0M1054.35 479.14h0M1054.43 485.25h0M1054.51 491.25h0M1054.6 497.12h0M1054.68 502.88h0M1054.76 508.53h0M1054.83 514.07h0M1054.91 519.51h0M1054.98 524.83h0M1055.06 530.06h0M1055.13 535.18h0M1055.2 540.21h0M1055.27 545.13h0M1055.33 549.96h0M1055.38 552.96h0M1055.38 552.96h0M1055.4 550.8h0M1055.42 548.67h0M1055.44 546.57h0M1055.47 544.49h0M1055.49 542.45h0M1055.51 540.43h0M1055.53 538.44h0M1055.55 536.48h0M1055.57 534.54h0M1055.6 532.63h0M1055.62 530.75h0M1055.64 528.89h0M1055.66 527.05h0M1055.68 525.24h0M1055.7 523.46h0M1055.72 521.7h0M1055.75 519.96h0M1055.77 518.25h0M1055.79 516.56h0M1055.81 514.89h0M1055.83 513.25h0M1055.85 511.63h0M1055.87 510.03h0M1055.89 508.45h0M1055.91 506.89h0M1055.93 505.35h0M1055.95 503.84h0M1055.97 502.34h0M1055.99 500.87h0M1056.01 499.41h0M1056.03 497.98h0M1056.05 496.56h0M1056.07 495.17h0M1056.09 493.79h0M1056.11 492.43h0M1056.13 491.09h0M1056.15 489.77h0M1056.17 488.46h0M1056.19 487.18h0M1056.21 485.91h0M1056.22 484.66h0M1056.24 483.42h0M1056.26 482.2h0M1056.28 481h0M1056.3 479.82h0M1056.32 478.65h0M1056.34 477.49h0M1056.35 476.35h0M1056.37 475.23h0M1056.39 474.12h0M1056.41 473.03h0M1056.42 471.95h0M1056.44 470.89h0M1056.46 469.84h0M1056.48 468.81h0M1056.5 467.79h0M1056.51 466.78h0M1056.53 465.79h0M1056.55 464.81h0M1056.56 463.84h0M1056.58 462.89h0M1071.78 300.6h0M1071.8 273.32h0M1071.82 247.48h0M1071.84 223h0M1071.86 199.82h0M1071.86 192.96h0M1071.87 199.44h0M1071.87 206.63h0M1071.88 214.62h0M1071.89 223.48h0M1071.9 233.33h0M1071.9 244.25h0M1071.91 256.38h0M1071.92 269.84h0M1071.94 284.79h0M1071.95 301.38h0M1071.96 319.8h0M1071.48 371.51h0M1071.48 372.52h0M1071.48 373.56h0M1071.48 374.62h0M1071.48 375.71h0M1071.48 376.82h0M1071.48 377.97h0M1071.48 379.15h0M1071.48 380.35h0M1071.48 381.59h0M1071.48 382.86h0M1071.48 384.17h0M1071.48 385.5h0M1071.48 386.88h0M1071.48 388.29h0M1071.48 389.73h0M1071.48 391.21h0M1071.49 392.74h0M1071.49 394.3h0M1071.49 395.9h0M1071.49 397.54h0M1071.49 399.23h0M1071.49 400.96h0M1071.49 402.74h0M1071.49 404.56h0M1071.49 406.43h0M1071.49 408.35h0M1071.49 410.32h0M1071.49 412.34h0M1071.49 414.41h0M1071.49 416.54h0M1071.49 418.72h0M1071.49 420.96h0M1071.49 423.26h0M1071.5 425.62h0M1071.5 428.04h0M1071.5 430.52h0M1071.5 433.07h0M1071.5 435.68h0M1071.5 438.36h0M1071.5 441.11h0M1071.5 443.94h0M1071.5 446.83h0M1071.5 449.81h0M1071.5 452.86h0M1071.5 454.32h0M1072.3 341.06h0M1072.3 350.42h0M1072.31 359.78h0M1072.31 369.14h0M1072.32 378.5h0M1072.33 387.86h0M1072.33 397.22h0M1072.34 406.58h0M1072.34 415.94h0M1072.35 425.3h0M1072.36 434.66h0M1072.36 444.02h0M1072.37 453.38h0M1072.37 454.32h0M1072.41 460.8h0M1072.46 467.15h0M1072.5 473.39h0M1072.54 479.5h0M1072.59 485.49h0M1072.63 491.36h0M1072.67 497.13h0M1072.71 502.78h0M1072.74 508.32h0M1072.78 513.75h0M1072.82 519.08h0M1072.86 524.3h0M1072.89 529.43h0M1072.93 534.45h0M1072.96 539.38h0M1073 544.21h0M1073.02 547.2h0M1073.02 547.2h0M1073.04 545.04h0M1073.06 542.91h0M1073.08 540.81h0M1073.11 538.73h0M1073.13 536.69h0M1073.15 534.67h0M1073.17 532.68h0M1073.19 530.72h0M1073.22 528.78h0M1073.24 526.87h0M1073.26 524.99h0M1073.28 523.13h0M1073.3 521.29h0M1073.33 519.48h0M1073.35 517.7h0M1073.37 515.94h0M1073.39 514.2h0M1073.41 512.49h0M1073.43 510.8h0M1073.45 509.13h0M1073.47 507.48h0M1073.49 505.86h0M1073.52 504.26h0M1073.54 502.68h0M1073.56 501.12h0M1073.58 499.59h0M1073.6 498.07h0M1073.62 496.58h0M1073.64 495.1h0M1073.66 493.65h0M1073.68 492.21h0M1073.7 490.8h0M1073.72 489.4h0M1073.74 488.02h0M1073.76 486.66h0M1073.78 485.32h0M1073.8 484h0M1073.82 482.7h0M1073.84 481.41h0M1073.85 480.14h0M1073.87 478.89h0M1073.89 477.65h0M1073.91 476.43h0M1073.93 475.23h0M1073.95 474.04h0M1073.97 472.87h0M1073.99 471.72h0M1074 470.58h0M1074.02 469.46h0M1074.04 468.35h0M1074.06 467.26h0M1074.08 466.18h0M1074.09 465.11h0M1074.11 464.07h0M1074.13 463.03h0M1074.15 462.01h0M1074.17 461h0M1074.18 460.01h0M1074.2 459.03h0M1074.22 458.06h0M1074.23 457.11h0M1089.49 294.7h0M1089.51 267.36h0M1089.53 241.42h0M1089.55 216.8h0M1089.57 193.44h0M1089.58 182.16h0M1089.58 188.64h0M1089.59 195.81h0M1089.59 203.74h0M1089.6 212.51h0M1089.61 222.22h0M1089.61 232.96h0M1089.62 244.84h0M1089.63 257.99h0M1089.64 272.53h0M1089.66 288.62h0M1089.67 306.42h0M1089.19 365.65h0M1089.19 366.66h0M1089.19 367.69h0M1089.19 368.76h0M1089.19 369.84h0M1089.19 370.96h0M1089.19 372.11h0M1089.19 373.28h0M1089.19 374.49h0M1089.19 375.73h0M1089.19 377h0M1089.19 378.3h0M1089.2 379.64h0M1089.2 381.01h0M1089.2 382.42h0M1089.2 383.87h0M1089.2 385.35h0M1089.2 386.87h0M1089.2 388.43h0M1089.2 390.03h0M1089.2 391.68h0M1089.2 393.36h0M1089.2 395.09h0M1089.2 396.87h0M1089.2 398.69h0M1089.2 400.56h0M1089.2 402.47h0M1089.2 404.44h0M1089.2 406.46h0M1089.2 408.53h0M1089.2 410.66h0M1089.21 412.84h0M1089.21 415.07h0M1089.21 417.37h0M1089.21 419.72h0M1089.21 422.14h0M1089.21 424.62h0M1089.21 427.17h0M1089.21 429.78h0M1089.21 432.45h0M1089.21 435.2h0M1089.21 438.02h0M1089.21 440.92h0M1089.21 443.89h0M1089.22 446.93h0M1089.22 448.56h0M1090.01 335.16h0M1090.01 344.52h0M1090.02 353.88h0M1090.03 363.24h0M1090.03 372.6h0M1090.04 381.96h0M1090.04 391.32h0M1090.05 400.68h0M1090.06 410.04h0M1090.06 419.4h0M1090.07 428.76h0M1090.07 438.12h0M1090.08 447.48h0M1090.08 448.56h0M1090.16 455.04h0M1090.23 461.39h0M1090.3 467.62h0M1090.37 473.73h0M1090.44 479.72h0M1090.51 485.6h0M1090.58 491.36h0M1090.64 497.01h0M1090.71 502.54h0M1090.77 507.98h0M1090.83 513.3h0M1090.9 518.52h0M1090.96 523.64h0M1091.01 528.66h0M1091.07 533.59h0M1091.13 538.42h0M1091.16 541.22h0M1091.16 541.22h0M1091.18 539.06h0M1091.2 536.93h0M1091.23 534.83h0M1091.25 532.76h0M1091.27 530.71h0M1091.29 528.7h0M1091.31 526.71h0M1091.33 524.74h0M1091.36 522.81h0M1091.38 520.9h0M1091.4 519.01h0M1091.42 517.15h0M1091.44 515.32h0M1091.46 513.51h0M1091.48 511.72h0M1091.5 509.96h0M1091.52 508.23h0M1091.54 506.51h0M1091.57 504.82h0M1091.59 503.16h0M1091.61 501.51h0M1091.63 499.89h0M1091.65 498.29h0M1091.67 496.71h0M1091.69 495.16h0M1091.71 493.62h0M1091.73 492.1h0M1091.75 490.61h0M1091.77 489.14h0M1091.79 487.68h0M1091.81 486.25h0M1091.82 484.83h0M1091.84 483.44h0M1091.86 482.06h0M1091.88 480.7h0M1091.9 479.36h0M1091.92 478.04h0M1091.94 476.73h0M1091.96 475.45h0M1091.98 474.18h0M1092 472.93h0M1092.01 471.69h0M1092.03 470.47h0M1092.05 469.27h0M1092.07 468.09h0M1092.09 466.92h0M1092.1 465.76h0M1092.12 464.63h0M1092.14 463.5h0M1092.16 462.4h0M1092.18 461.3h0M1092.19 460.23h0M1092.21 459.16h0M1092.23 458.11h0M1092.25 457.08h0M1092.26 456.06h0M1092.28 455.05h0M1092.3 454.06h0M1092.31 453.08h0M1092.33 452.12h0M1092.35 451.16h0M1107.27 288.94h0M1107.29 261.59h0M1107.31 235.62h0M1107.33 210.96h0M1107.35 187.55h0M1107.36 174.96h0M1107.36 181.44h0M1107.37 188.6h0M1107.38 196.52h0M1107.38 205.27h0M1107.39 214.94h0M1107.4 225.63h0M1107.41 237.44h0M1107.42 250.5h0M1107.43 264.93h0M1107.44 280.88h0M1107.45 298.51h0M1107.47 317.99h0M1106.97 359.89h0M1106.98 360.9h0M1106.98 361.93h0M1106.98 363h0M1106.98 364.08h0M1106.98 365.2h0M1106.98 366.35h0M1106.98 367.52h0M1106.98 368.73h0M1106.98 369.97h0M1106.98 371.24h0M1106.98 372.54h0M1106.98 373.88h0M1106.98 375.25h0M1106.98 376.66h0M1106.98 378.11h0M1106.98 379.59h0M1106.98 381.11h0M1106.98 382.67h0M1106.98 384.27h0M1106.98 385.92h0M1106.98 387.6h0M1106.98 389.33h0M1106.98 391.11h0M1106.98 392.93h0M1106.99 394.8h0M1106.99 396.71h0M1106.99 398.68h0M1106.99 400.7h0M1106.99 402.77h0M1106.99 404.9h0M1106.99 407.08h0M1106.99 409.31h0M1106.99 411.61h0M1106.99 413.96h0M1106.99 416.38h0M1106.99 418.86h0M1106.99 421.41h0M1106.99 424.02h0M1107 426.69h0M1107 429.44h0M1107 432.26h0M1107 435.16h0M1107 438.13h0M1107 441.17h0M1107 442.8h0M1107.79 329.4h0M1107.8 338.76h0M1107.8 348.12h0M1107.81 357.48h0M1107.82 366.84h0M1107.82 376.2h0M1107.83 385.56h0M1107.83 394.92h0M1107.84 404.28h0M1107.85 413.64h0M1107.85 423h0M1107.86 432.36h0M1107.86 441.72h0M1107.86 442.8h0M1107.91 449.28h0M1107.96 455.64h0M1108.01 461.87h0M1108.06 467.98h0M1108.1 473.98h0M1108.15 479.86h0M1108.19 485.62h0M1108.24 491.28h0M1108.28 496.83h0M1108.32 502.27h0M1108.36 507.61h0M1108.4 512.84h0M1108.44 517.97h0M1108.48 523.01h0M1108.52 527.94h0M1108.56 532.79h0M1108.58 536.4h0M1108.58 536.4h0M1108.61 534.24h0M1108.63 532.11h0M1108.65 530.01h0M1108.67 527.93h0M1108.69 525.89h0M1108.71 523.87h0M1108.73 521.88h0M1108.75 519.92h0M1108.78 517.98h0M1108.8 516.07h0M1108.82 514.18h0M1108.84 512.32h0M1108.86 510.49h0M1108.88 508.68h0M1108.9 506.89h0M1108.92 505.13h0M1108.94 503.39h0M1108.96 501.68h0M1108.98 499.99h0M1109 498.32h0M1109.02 496.68h0M1109.04 495.05h0M1109.06 493.45h0M1109.08 491.87h0M1109.1 490.31h0M1109.12 488.78h0M1109.14 487.26h0M1109.16 485.76h0M1109.18 484.29h0M1109.2 482.83h0M1109.22 481.4h0M1109.24 479.98h0M1109.26 478.58h0M1109.27 477.2h0M1109.29 475.84h0M1109.31 474.5h0M1109.33 473.18h0M1109.35 471.87h0M1109.37 470.58h0M1109.39 469.31h0M1109.4 468.06h0M1109.42 466.82h0M1109.44 465.6h0M1109.46 464.4h0M1109.48 463.21h0M1109.49 462.04h0M1109.51 460.88h0M1109.53 459.74h0M1109.55 458.62h0M1109.56 457.51h0M1109.58 456.42h0M1109.6 455.34h0M1109.61 454.27h0M1109.63 453.22h0M1109.65 452.19h0M1109.67 451.16h0M1109.68 450.16h0M1109.7 449.16h0M1109.72 448.18h0M1109.73 447.21h0M1109.75 446.26h0" style="stroke-width:3.15;stroke-linecap:round"/>
</g>
<g id="line2d_48">
<path d="M 656.64 769.32 L 656.64 104.04 
" clip-path="url(#p3a280d8517)" style="fill: none; stroke: #0000ff; stroke-width: 3; stroke-linecap: square"/>
</g>
<g id="line2d_49">
<path d="M 1110.24 769.32 L 1110.24 104.04 
" clip-path="url(#p3a280d8517)" style="fill: none; stroke: #0000ff; stroke-width: 3; stroke-linecap: square"/>
</g>
<g id="line2d_50">
<path d="M 162.36 465.84 L 1166.76 465.84 
" clip-path="url(#p3a280d8517)" style="fill: none; stroke: #008000; stroke-width: 3; stroke-linecap: square"/>
</g>
<g id="line2d_51">
<path d="M 162.36 178.56 L 1166.76 178.56 
" clip-path="url(#p3a280d8517)" style="fill: none; stroke: #ffa500; stroke-width: 1.5; stroke-linecap: square"/>
</g>
<g id="line2d_52">
<path d="M 162.36 349.92 L 1166.76 349.92 
" clip-path="url(#p3a280d8517)" style="fill: none; stroke: #ffa500; stroke-width: 1.5; stroke-linecap: square"/>
</g>
<g id="yellow" clip-path="url(#p3a280d8517)" fill="none" stroke="#ffff00">
<path d="M703.2 464.25h0M703.2 464.79h0M703.2 464.25h0M726.45 463.77h0M726.45 463.25h0M749.35 465.58h0M749.34 456.85h0M771.59 454.8h0M771.59 449.06h0M793.41 444.61h0M793.41 456.4h0M793.41 441.72h0M815.01 440.16h0M815.01 451.85h0M815.01 435.67h0M836.61 431.36h0M836.61 441h0M836.62 455.33h0M836.61 429.05h0M857.35 427.33h0M857.35 437.27h0M857.35 451.29h0M857.34 423.07h0M878.37 426.31h0M878.38 445.28h0M899.04 421.56h0M899.04 439.58h0M899.05 461.59h0M919.2 434.23h0M919.21 455.11h0M938.86 427.54h0M938.86 447.06h0M958.66 420.21h0M958.66 438.34h0M958.67 460.28h0M977.96 431.05h0M977.97 451.46h0M997.18 423.12h0M997.19 442.04h0M997.2 464.83h0M1016.05 432.17h0M1016.06 453.07h0M1034.63 423.05h0M1034.63 442.14h0M1034.64 465.02h0M1053.21 431.26h0M1053.21 452.05h0M1071.5 424.76h0M1071.5 444.37h0M1089.21 421.81h0M1089.21 440.95h0M1106.99 423.46h0M656.64 466.06h0" style="stroke-linecap:round;stroke-width:10.8;stroke-opacity:0.2"/>
<path d="M703.2 464.79h0M703.2 464.25h0M703.2 464.79h0M726.45 463.77h0M726.45 463.77h0M749.34 456.41h0M749.34 457.33h0M771.59 455.56h0M771.59 449.06h0M793.41 445.16h0M793.41 457.4h0M793.41 442.16h0M815.01 440.74h0M815.01 452.78h0M815.01 435.67h0M836.61 431.85h0M836.61 441.74h0M836.62 456.43h0M836.61 429.49h0M857.35 427.86h0M857.35 438.01h0M857.35 452.34h0M857.34 423.07h0M878.37 427.38h0M878.38 446.59h0M899.04 422.58h0M899.04 440.83h0M899.05 463.12h0M919.2 435.41h0M919.21 456.56h0M938.86 428.65h0M938.87 448.41h0M958.66 421.24h0M958.66 439.59h0M958.67 461.79h0M977.96 432.22h0M977.97 452.87h0M997.18 424.2h0M997.19 443.34h0M1016.05 415.73h0M1016.05 433.36h0M1016.06 454.5h0M1034.63 424.15h0M1034.63 443.46h0M1053.2 414.86h0M1053.21 432.45h0M1053.21 453.47h0M1071.5 425.88h0M1071.5 445.71h0M1089.21 422.92h0M1089.21 442.26h0M1106.99 424.59h0" style="stroke-linecap:round;stroke-width:10.8;stroke-opacity:0.2"/>
<path d="M703.2 465.57h0M703.2 464.79h0M726.45 463.25h0M726.45 463.77h0M726.45 464.44h0M749.34 456.41h0M749.34 457.85h0M771.59 456.36h0M771.59 449.06h0M793.41 445.72h0M793.41 458.43h0M793.41 442.16h0M815.01 441.33h0M815.01 453.75h0M815.01 435.67h0M836.61 432.36h0M836.61 442.49h0M836.62 457.56h0M836.61 429.49h0M857.35 428.39h0M857.35 438.77h0M857.35 453.41h0M857.34 423.07h0M878.37 428.47h0M878.38 447.93h0M899.04 423.62h0M899.04 442.1h0M899.05 464.67h0M919.2 436.62h0M919.21 458.03h0M938.86 429.77h0M938.87 449.78h0M958.66 422.29h0M958.66 440.86h0M958.67 463.33h0M977.96 433.39h0M977.97 454.29h0M997.18 425.29h0M997.19 444.66h0M1016.05 416.74h0M1016.05 434.58h0M1016.06 455.95h0M1034.63 425.25h0M1034.63 444.78h0M1053.2 415.87h0M1053.21 433.66h0M1053.21 454.92h0M1071.5 427.02h0M1071.5 447.07h0M1089.21 424.03h0M1089.21 443.59h0M1106.99 425.73h0" style="stroke-linecap:round;stroke-width:10.8;stroke-opacity:0.2"/>
<path d="M703.2 464.25h0M703.2 465.57h0M726.45 463.77h0M726.45 463.77h0M726.45 465.32h0M749.34 456.41h0M749.34 458.43h0M771.59 457.2h0M771.59 449.06h0M793.41 446.31h0M793.41 459.51h0M793.41 442.16h0M815.01 441.94h0M815.01 454.74h0M815.01 435.67h0M836.61 432.88h0M836.61 443.27h0M836.62 458.71h0M836.61 429.49h0M857.35 428.94h0M857.35 439.55h0M857.35 454.5h0M857.34 423.07h0M878.37 429.58h0M878.38 449.28h0M899.04 424.67h0M899.04 443.38h0M919.2 420.05h0M919.2 437.83h0M919.21 459.51h0M938.86 430.91h0M938.87 451.17h0M958.66 423.35h0M958.67 442.14h0M958.67 464.88h0M977.96 434.59h0M977.97 455.74h0M997.18 426.4h0M997.19 446h0M1016.05 417.76h0M1016.05 435.8h0M1016.06 457.42h0M1034.63 426.37h0M1034.63 446.12h0M1053.2 416.89h0M1053.21 434.88h0M1053.21 456.38h0M1071.5 428.18h0M1071.5 448.44h0M1089.21 425.15h0M1089.21 444.92h0M1107 426.87h0" style="stroke-linecap:round;stroke-width:10.8;stroke-opacity:0.2"/>
<path d="M703.2 464.25h0M703.2 464.25h0M726.45 464.44h0M726.45 463.25h0M749.34 456.41h0M749.34 456.41h0M749.34 459.07h0M771.59 458.09h0M771.59 449.51h0M793.41 446.93h0M793.41 460.63h0M793.41 442.16h0M815.01 442.58h0M815.01 455.76h0M815.01 435.67h0M836.61 433.42h0M836.61 444.07h0M836.62 459.9h0M836.61 429.49h0M857.35 429.5h0M857.35 440.34h0M857.35 455.62h0M857.34 423.07h0M878.37 430.69h0M878.38 450.65h0M899.04 425.73h0M899.04 444.68h0M919.2 421.06h0M919.2 439.07h0M919.21 461.01h0M938.86 432.07h0M938.87 452.57h0M958.66 424.42h0M958.67 443.44h0M977.96 418.1h0M977.96 435.79h0M977.97 457.2h0M997.18 427.52h0M997.19 447.35h0M1016.05 418.8h0M1016.05 437.04h0M1016.06 458.91h0M1034.63 427.51h0M1034.63 447.48h0M1053.2 417.93h0M1053.21 436.11h0M1053.22 457.85h0M1071.5 429.34h0M1071.5 449.83h0M1089.21 426.29h0M1089.22 446.28h0M1107 428.04h0" style="stroke-linecap:round;stroke-width:10.8;stroke-opacity:0.2"/>
<path d="M703.2 464.25h0M703.2 464.79h0M726.45 465.32h0M726.45 463.77h0M749.34 456.85h0M749.34 456.41h0M749.34 459.76h0M771.59 459.03h0M771.59 449.51h0M793.41 447.56h0M793.41 461.79h0M793.41 442.16h0M815.01 443.23h0M815.01 456.82h0M815.01 436.11h0M836.61 433.97h0M836.61 444.88h0M836.62 461.11h0M836.61 429.49h0M857.35 430.08h0M857.35 441.15h0M857.36 456.76h0M857.34 423.5h0M878.37 431.83h0M878.38 452.04h0M899.04 426.81h0M899.04 445.99h0M919.2 422.08h0M919.2 440.31h0M919.21 462.54h0M938.86 433.23h0M938.87 453.99h0M958.66 425.51h0M958.67 444.75h0M977.96 419.11h0M977.96 437.02h0M977.97 458.67h0M997.18 428.66h0M997.19 448.71h0M1016.05 419.84h0M1016.05 438.3h0M1016.06 460.41h0M1034.63 428.65h0M1034.63 448.85h0M1053.2 418.97h0M1053.21 437.36h0M1053.22 459.34h0M1071.5 430.52h0M1071.5 451.24h0M1089.21 427.44h0M1089.22 447.65h0M1107 429.21h0" style="stroke-linecap:round;stroke-width:10.8;stroke-opacity:0.2"/>
<path d="M703.2 464.25h0M703.2 465.57h0M726.45 463.25h0M726.45 464.44h0M749.34 457.33h0M749.34 456.41h0M771.59 449.06h0M771.59 460.02h0M771.59 449.51h0M793.41 448.23h0M793.41 462.99h0M793.41 442.16h0M815.01 443.9h0M815.01 457.9h0M815.01 436.11h0M836.61 434.53h0M836.61 445.72h0M836.62 462.35h0M836.61 429.49h0M857.35 430.66h0M857.35 441.97h0M857.36 457.93h0M857.34 423.5h0M878.37 432.97h0M878.38 453.44h0M899.04 427.9h0M899.04 447.32h0M919.2 423.12h0M919.2 441.58h0M919.21 464.08h0M938.86 434.42h0M938.87 455.42h0M958.66 426.61h0M958.67 446.08h0M977.96 420.13h0M977.96 438.25h0M977.97 460.17h0M997.19 429.8h0M997.19 450.09h0M1016.05 420.9h0M1016.05 439.56h0M1016.06 461.93h0M1034.63 429.81h0M1034.64 450.24h0M1053.2 420.03h0M1053.21 438.62h0M1071.49 414.14h0M1071.5 431.71h0M1071.5 452.66h0M1089.21 428.6h0M1106.99 412.85h0M1107 430.4h0" style="stroke-linecap:round;stroke-width:10.8;stroke-opacity:0.2"/>
<path d="M703.2 464.25h0M703.2 464.25h0M726.45 463.25h0M726.45 465.32h0M749.34 457.85h0M749.34 456.41h0M771.59 449.51h0M771.59 461.06h0M771.59 449.51h0M793.41 448.91h0M793.41 464.24h0M815.01 435.67h0M815.01 444.59h0M815.02 459.02h0M815.01 436.11h0M836.61 435.11h0M836.61 446.58h0M836.62 463.63h0M857.34 423.07h0M857.35 431.26h0M857.35 442.82h0M857.36 459.12h0M857.34 423.5h0M878.37 434.13h0M878.38 454.87h0M899.04 429h0M899.05 448.67h0M919.2 424.17h0M919.21 442.86h0M919.21 465.63h0M938.86 435.61h0M938.87 456.88h0M958.66 427.72h0M958.67 447.43h0M977.96 421.17h0M977.96 439.5h0M977.97 461.68h0M997.19 430.96h0M997.19 451.49h0M1016.05 421.97h0M1016.05 440.85h0M1016.06 463.47h0M1034.63 430.98h0M1034.64 451.65h0M1053.2 421.09h0M1053.21 439.9h0M1071.49 415.15h0M1071.5 432.91h0M1071.5 454.09h0M1089.21 429.78h0M1106.99 413.86h0M1107 431.6h0" style="stroke-linecap:round;stroke-width:10.8;stroke-opacity:0.2"/>
<path d="M703.2 464.25h0M703.2 464.79h0M726.45 463.25h0M726.45 463.25h0M749.34 458.43h0M749.34 456.41h0M771.59 449.98h0M771.6 462.15h0M771.59 449.51h0M793.41 449.62h0M793.41 465.54h0M815.01 436.11h0M815.01 445.3h0M815.02 460.17h0M815.01 436.11h0M836.61 435.7h0M836.61 447.46h0M836.62 464.94h0M857.34 423.5h0M857.35 431.87h0M857.35 443.68h0M857.36 460.33h0M857.34 423.5h0M878.37 435.31h0M878.38 456.31h0M899.04 430.12h0M899.05 450.03h0M919.2 425.23h0M919.21 444.15h0M938.86 419.11h0M938.86 436.82h0M938.87 458.35h0M958.66 428.84h0M958.67 448.79h0M977.96 422.21h0M977.96 440.77h0M977.97 463.22h0M997.19 432.14h0M997.19 452.9h0M1016.05 423.05h0M1016.05 442.14h0M1016.06 465.02h0M1034.63 432.17h0M1034.64 453.07h0M1053.2 422.17h0M1053.21 441.19h0M1071.49 416.17h0M1071.5 434.13h0M1089.21 413.42h0M1089.21 430.97h0M1106.99 414.88h0M1107 432.81h0" style="stroke-linecap:round;stroke-width:10.8;stroke-opacity:0.2"/>
<path d="M703.2 464.25h0M703.2 465.57h0M726.45 463.25h0M726.45 463.77h0M749.34 459.07h0M749.34 456.85h0M771.59 450.48h0M771.6 463.31h0M771.59 449.51h0M793.41 450.36h0M793.41 441.72h0M815.01 436.57h0M815.01 446.04h0M815.02 461.36h0M815.01 436.11h0M836.61 436.31h0M836.61 448.36h0M836.61 429.05h0M857.34 423.95h0M857.35 432.5h0M857.35 444.56h0M857.36 461.58h0M857.34 423.5h0M878.38 436.5h0M878.38 457.77h0M899.04 431.25h0M899.05 451.42h0M919.2 426.31h0M919.21 445.46h0M938.86 420.12h0M938.86 438.05h0M938.87 459.84h0M958.66 429.98h0M958.67 450.16h0M977.96 423.27h0M977.96 442.05h0M977.97 464.77h0M997.19 433.33h0M997.19 454.33h0M1016.05 424.15h0M1016.06 443.46h0M1034.62 415.73h0M1034.63 433.36h0M1034.64 454.5h0M1053.2 423.26h0M1053.21 442.49h0M1071.49 417.21h0M1071.5 435.36h0M1089.21 414.43h0M1089.21 432.17h0M1106.99 415.91h0M1107 434.04h0" style="stroke-linecap:round;stroke-width:10.8;stroke-opacity:0.2"/>
<path d="M703.2 464.25h0M703.2 464.25h0M726.45 463.25h0M726.45 464.44h0M749.34 459.76h0M749.34 456.85h0M771.59 451h0M771.6 464.53h0M793.41 441.72h0M793.41 451.13h0M793.41 441.72h0M815.01 437.03h0M815.01 446.8h0M815.02 462.59h0M815.01 436.11h0M836.61 436.93h0M836.61 449.28h0M836.61 429.05h0M857.34 424.4h0M857.35 433.14h0M857.35 445.46h0M857.36 462.85h0M857.34 423.5h0M878.38 437.71h0M878.38 459.24h0M899.04 432.4h0M899.05 452.82h0M919.2 427.4h0M919.21 446.79h0M938.86 421.14h0M938.86 439.29h0M938.87 461.35h0M958.66 431.13h0M958.67 451.56h0M977.96 424.35h0M977.96 443.35h0M997.18 416.88h0M997.19 434.53h0M997.19 455.78h0M1016.05 425.25h0M1016.06 444.78h0M1034.62 416.74h0M1034.63 434.58h0M1034.64 455.95h0M1053.21 424.37h0M1053.21 443.81h0M1071.49 418.25h0M1071.5 436.6h0M1089.21 415.45h0M1089.21 433.38h0M1106.99 416.96h0M1107 435.28h0" style="stroke-linecap:round;stroke-width:10.8;stroke-opacity:0.2"/>
<path d="M703.2 464.79h0M703.2 464.79h0M726.45 463.25h0M726.45 465.32h0M749.34 460.52h0M749.34 456.85h0M771.59 451.56h0M771.6 465.81h0M793.41 442.16h0M793.41 451.93h0M793.41 441.72h0M815.01 437.52h0M815.01 447.58h0M815.02 463.85h0M836.61 429.05h0M836.61 437.56h0M836.61 450.23h0M836.61 429.05h0M857.35 424.86h0M857.35 433.79h0M857.35 446.38h0M857.36 464.15h0M878.37 421.13h0M878.38 438.93h0M878.38 460.74h0M899.04 433.56h0M899.05 454.23h0M919.2 428.5h0M919.21 448.14h0M938.86 422.17h0M938.86 440.55h0M938.87 462.87h0M958.66 432.3h0M958.67 452.97h0M977.96 425.43h0M977.96 444.66h0M997.18 417.89h0M997.19 435.74h0M997.19 457.25h0M1016.05 426.37h0M1016.06 446.12h0M1034.63 417.76h0M1034.63 435.8h0M1034.64 457.42h0M1053.21 425.48h0M1053.21 445.15h0M1071.49 419.3h0M1071.5 437.86h0M1089.21 416.48h0M1089.21 434.61h0M1106.99 418.01h0M1107 436.53h0" style="stroke-linecap:round;stroke-width:10.8;stroke-opacity:0.2"/>
<path d="M703.2 464.79h0M703.2 465.57h0M726.45 463.25h0M726.45 463.25h0M749.34 461.36h0M749.34 456.85h0M771.59 452.14h0M771.59 449.06h0M793.41 442.61h0M793.41 452.76h0M793.41 441.72h0M815.01 438.01h0M815.01 448.38h0M815.02 465.15h0M836.61 429.49h0M836.61 438.22h0M836.61 451.2h0M836.61 429.05h0M857.35 425.33h0M857.35 434.46h0M857.35 447.32h0M857.36 465.47h0M878.37 422.14h0M878.38 440.17h0M878.38 462.26h0M899.04 434.73h0M899.05 455.67h0M919.2 429.62h0M919.21 449.5h0M938.86 423.22h0M938.86 441.82h0M938.87 464.42h0M958.66 433.48h0M958.67 454.4h0M977.96 426.53h0M977.96 445.99h0M997.18 418.91h0M997.19 436.97h0M997.19 458.73h0M1016.05 427.51h0M1016.06 447.48h0M1034.63 418.8h0M1034.63 437.04h0M1034.64 458.91h0M1053.21 426.61h0M1053.21 446.5h0M1071.49 420.37h0M1071.5 439.14h0M1089.21 417.53h0M1089.21 435.85h0M1106.99 419.08h0M1107 437.8h0" style="stroke-linecap:round;stroke-width:10.8;stroke-opacity:0.2"/>
<path d="M703.2 464.79h0M703.2 464.25h0M726.45 463.25h0M726.45 463.77h0M749.34 462.27h0M749.34 456.85h0M771.59 452.75h0M771.59 449.06h0M793.41 443.08h0M793.41 453.62h0M793.41 441.72h0M815.01 438.53h0M815.01 449.21h0M815.01 435.67h0M836.61 429.94h0M836.61 438.89h0M836.62 452.2h0M836.61 429.05h0M857.35 425.82h0M857.35 435.14h0M857.35 448.28h0M857.34 423.07h0M878.37 423.16h0M878.38 441.42h0M878.38 463.79h0M899.04 435.92h0M899.05 457.12h0M919.2 430.75h0M919.21 450.88h0M938.86 424.28h0M938.86 443.11h0M938.87 465.98h0M958.66 434.67h0M958.67 455.84h0M977.96 427.64h0M977.96 447.33h0M997.18 419.94h0M997.19 438.22h0M997.19 460.23h0M1016.05 428.65h0M1016.06 448.85h0M1034.63 419.84h0M1034.63 438.3h0M1034.64 460.41h0M1053.21 427.75h0M1053.21 447.86h0M1071.49 421.45h0M1071.5 440.42h0M1089.21 418.58h0M1089.21 437.11h0M1106.99 420.16h0M1107 439.08h0" style="stroke-linecap:round;stroke-width:10.8;stroke-opacity:0.2"/>
<path d="M703.2 464.79h0M703.2 464.79h0M726.45 463.77h0M726.45 464.44h0M749.34 463.28h0M749.34 456.85h0M771.59 453.4h0M771.59 449.06h0M793.41 443.57h0M793.41 454.51h0M793.41 441.72h0M815.01 439.05h0M815.01 450.06h0M815.01 435.67h0M836.61 430.4h0M836.61 439.57h0M836.62 453.22h0M836.61 429.05h0M857.35 426.31h0M857.35 435.83h0M857.35 449.26h0M857.34 423.07h0M878.37 424.2h0M878.38 442.69h0M878.38 465.35h0M899.04 437.12h0M899.05 458.59h0M919.2 431.89h0M919.21 452.27h0M938.86 425.35h0M938.86 444.41h0M958.66 418.17h0M958.66 435.88h0M958.67 457.3h0M977.96 428.76h0M977.97 448.69h0M997.18 420.99h0M997.19 439.48h0M997.19 461.74h0M1016.05 429.81h0M1016.06 450.24h0M1034.63 420.9h0M1034.63 439.56h0M1034.64 461.93h0M1053.21 428.91h0M1053.21 449.24h0M1071.49 422.54h0M1071.5 441.72h0M1089.21 419.65h0M1089.21 438.37h0M1106.99 421.25h0M1107 440.37h0" style="stroke-linecap:round;stroke-width:10.8;stroke-opacity:0.2"/>
<path d="M703.2 464.79h0M703.2 465.57h0M726.45 463.77h0M726.45 465.32h0M749.35 464.38h0M749.34 456.41h0M771.59 454.08h0M771.59 449.06h0M793.41 444.08h0M793.41 455.44h0M793.41 441.72h0M815.01 439.6h0M815.01 450.94h0M815.01 435.67h0M836.61 430.87h0M836.61 440.28h0M836.62 454.26h0M836.61 429.05h0M857.35 426.81h0M857.35 436.54h0M857.35 450.27h0M857.34 423.07h0M878.37 425.24h0M878.38 443.97h0M899.04 420.55h0M899.04 438.34h0M899.05 460.08h0M919.2 433.05h0M919.21 453.68h0M938.86 426.44h0M938.86 445.73h0M958.66 419.19h0M958.66 437.1h0M958.67 458.78h0M977.96 429.9h0M977.97 450.07h0M997.18 422.05h0M997.19 440.75h0M997.2 463.27h0M1016.05 430.98h0M1016.06 451.65h0M1034.63 421.97h0M1034.63 440.85h0M1034.64 463.47h0M1053.21 430.08h0M1053.21 450.64h0M1071.49 423.64h0M1071.5 443.04h0M1089.21 420.73h0M1089.21 439.66h0M1106.99 422.35h0M1107 441.68h0" style="stroke-linecap:round;stroke-width:10.8;stroke-opacity:0.2"/>
<path d="M726.45 463.77 L726.45 464.44 L726.45 464.44 M749.34 457.33 L749.34 457.85 L749.34 458.43 L749.34 459.07 L749.34 459.76 L749.34 460.52 L749.34 461.36 L749.34 461.36 M771.59 449.51 L771.59 449.98 L771.59 450.48 L771.59 451 L771.59 451.56 L771.59 452.14 L771.59 452.75 L771.59 453.4 L771.59 454.08 L771.59 454.8 L771.59 455.56 L771.59 456.36 L771.59 457.2 L771.59 458.09 L771.59 458.09 M793.41 442.16 L793.41 442.61 L793.41 443.08 L793.41 443.57 L793.41 444.08 L793.41 444.61 L793.41 445.16 L793.41 445.72 L793.41 446.31 L793.41 446.93 L793.41 447.56 L793.41 448.23 L793.41 448.91 L793.41 449.62 L793.41 450.36 L793.41 451.13 L793.41 451.93 L793.41 452.76 L793.41 453.62 L793.41 454.51 L793.41 454.51 M815.01 436.11 L815.01 437.03 L815.01 438.01 L815.01 439.05 L815.01 440.16 L815.01 441.33 L815.01 442.58 L815.01 443.9 L815.01 445.3 L815.01 446.8 L815.01 448.38 L815.01 450.06 L815.01 451.85 L815.01 451.85 M836.61 429.49 L836.61 430.4 L836.61 431.36 L836.61 432.36 L836.61 433.42 L836.61 434.53 L836.61 435.7 L836.61 436.93 L836.61 438.22 L836.61 439.57 L836.61 441 L836.61 442.49 L836.61 444.07 L836.61 445.72 L836.61 447.46 L836.61 448.36 M857.34 423.95 L857.35 424.86 L857.35 425.82 L857.35 426.81 L857.35 427.86 L857.35 428.94 L857.35 430.08 L857.35 431.26 L857.35 432.5 L857.35 433.79 L857.35 435.14 L857.35 436.54 L857.35 438.01 L857.35 439.55 L857.35 441.15 L857.35 442.82 L857.35 444.56 L857.35 446.38 L857.35 446.38" style="stroke-linecap:round;stroke-linejoin:round;stroke-width:10.3;stroke-opacity:0.93"/>
<path d="M694.26 466.2 L694.55 465.7 L694.85 465.21 L695.17 464.73 L695.49 464.25 L695.49 464.25 M714.21 466.21 L714.35 465.65 L714.5 465.09 L714.65 464.54 L714.81 463.98 L714.98 463.43 L714.98 463.43 M735.62 466.39 L735.7 465.82 L735.79 465.25 L735.88 464.68 L735.97 464.12 L736.06 463.55 L736.16 462.98 L736.26 462.41 L736.36 461.85 L736.36 461.85 M757.11 466.4 L757.17 465.83 L757.23 465.26 L757.3 464.69 L757.37 464.11 L757.43 463.54 L757.5 462.97 L757.57 462.4 L757.64 461.83 L757.71 461.25 L757.79 460.68 L757.86 460.11 L757.86 460.11 M778.76 466.22 L778.81 465.64 L778.86 465.07 L778.9 464.49 L778.95 463.92 L779 463.35 L779.05 462.77 L779.1 462.2 L779.15 461.63 L779.2 461.05 L779.25 460.48 L779.31 459.91 L779.37 459.33 L779.42 458.76 L779.42 458.76 M800 466.27 L800.03 465.69 L800.07 465.12 L800.11 464.54 L800.14 463.97 L800.18 463.39 L800.22 462.82 L800.26 462.24 L800.31 461.67 L800.35 461.1 L800.39 460.52 L800.43 459.95 L800.47 459.37 L800.52 458.8 L800.56 458.22 L800.61 457.65 L800.65 457.08 L800.65 457.08 M821.28 466.33 L821.31 465.75 L821.34 465.18 L821.37 464.6 L821.4 464.02 L821.44 463.45 L821.47 462.87 L821.5 462.3 L821.53 461.72 L821.57 461.15 L821.6 460.57 L821.64 460 L821.67 459.42 L821.71 458.85 L821.75 458.28 L821.78 457.7 L821.82 457.13 L821.85 456.55 L821.89 455.98 L821.89 455.98 M842.25 466.38 L842.3 465.23 L842.35 464.08 L842.4 462.93 L842.46 461.78 L842.52 460.63 L842.57 459.48 L842.63 458.33 L842.69 457.18 L842.75 456.03 L842.82 454.88 L842.85 454.3 M862.99 466.16 L863.04 465.01 L863.09 463.86 L863.13 462.71 L863.18 461.56 L863.23 460.41 L863.28 459.26 L863.33 458.11 L863.38 456.95 L863.44 455.8 L863.49 454.65 L863.55 453.5 L863.6 452.35 L863.6 452.35 M883.46 466.23 L883.5 465.08 L883.54 463.93 L883.59 462.78 L883.63 461.62 L883.67 460.47 L883.72 459.32 L883.76 458.17 L883.81 457.02 L883.86 455.87 L883.9 454.72 L883.95 453.57 L884 452.42 L884.05 451.26 L884.08 450.69 M903.44 466.3 L903.49 464.57 L903.55 462.84 L903.61 461.12 L903.67 459.39 L903.73 457.66 L903.8 455.94 L903.86 454.21 L903.93 452.48 L904 450.76 L904.07 449.03 L904.12 447.88 M923.45 466.36 L923.5 464.64 L923.55 462.91 L923.6 461.18 L923.65 459.46 L923.71 457.73 L923.76 456 L923.82 454.27 L923.88 452.55 L923.94 450.82 L924 449.09 L924.06 447.37 L924.08 446.79 M943.38 466.15 L943.43 464.42 L943.48 462.69 L943.52 460.96 L943.57 459.24 L943.62 457.51 L943.67 455.78 L943.72 454.05 L943.77 452.33 L943.82 450.6 L943.88 448.87 L943.93 447.15 L943.99 445.42 L944.03 444.27 M962.67 466.29 L962.73 463.98 L962.79 461.68 L962.85 459.38 L962.91 457.07 L962.97 454.77 L963.03 452.47 L963.1 450.17 L963.16 447.86 L963.23 445.56 L963.31 443.26 L963.34 442.1 M981.95 466.29 L982 463.98 L982.06 461.68 L982.11 459.38 L982.17 457.07 L982.22 454.77 L982.28 452.47 L982.34 450.16 L982.4 447.86 L982.47 445.56 L982.53 443.25 L982.6 440.95 L982.63 439.8 M1000.76 466.14 L1000.82 463.26 L1000.88 460.38 L1000.95 457.5 L1001.02 454.62 L1001.09 451.74 L1001.15 448.86 L1001.23 445.99 L1001.3 443.11 L1001.38 440.23 L1001.46 437.35 L1001.46 437.35 M1019.81 466.14 L1019.87 463.26 L1019.93 460.38 L1019.98 457.5 L1020.05 454.62 L1020.11 451.74 L1020.17 448.86 L1020.24 445.98 L1020.31 443.1 L1020.38 440.22 L1020.45 437.34 L1020.51 435.04 M1038.06 466.35 L1038.12 463.47 L1038.17 460.59 L1038.23 457.71 L1038.28 454.84 L1038.34 451.96 L1038.4 449.08 L1038.47 446.2 L1038.53 443.32 L1038.6 440.44 L1038.67 437.56 L1038.74 434.68 L1038.78 432.95 M1056.52 466.28 L1056.58 462.82 L1056.64 459.37 L1056.71 455.91 L1056.77 452.46 L1056.84 449 L1056.91 445.55 L1056.98 442.09 L1057.06 438.64 L1057.14 435.18 L1057.22 431.73 L1057.24 430.58 M1074.07 466.28 L1074.13 462.82 L1074.19 459.37 L1074.26 455.91 L1074.32 452.46 L1074.38 449 L1074.45 445.55 L1074.52 442.09 L1074.59 438.64 L1074.67 435.18 L1074.74 431.73 L1074.81 428.85 M1092.1 466.35 L1092.16 462.32 L1092.22 458.29 L1092.29 454.26 L1092.36 450.22 L1092.44 446.19 L1092.51 442.16 L1092.59 438.13 L1092.67 434.1 L1092.75 430.07 L1092.82 426.61 M1109.43 466.13 L1109.49 462.1 L1109.56 458.07 L1109.62 454.04 L1109.69 450.01 L1109.75 445.98 L1109.82 441.94 L1109.9 437.91 L1109.97 433.88 L1110.05 429.85 L1110.13 425.82 L1110.17 424.09" style="stroke-linecap:round;stroke-linejoin:round;stroke-width:11.1"/>
</g>
<g id="patch_3">
<path d="M 162.36 769.32 L 162.36 104.04 
" style="fill: none; stroke: #000000; stroke-width: 0.8; stroke-linejoin: miter; stroke-linecap: square"/>
</g>
<g id="patch_4">
<path d="M 1166.76 769.32 L 1166.76 104.04 
" style="fill: none; stroke: #000000; stroke-width: 0.8; stroke-linejoin: miter; stroke-linecap: square"/>
</g>
<g id="patch_5">
<path d="M 162.36 769.32 L 1166.76 769.32 
" style="fill: none; stroke: #000000; stroke-width: 0.8; stroke-linejoin: miter; stroke-linecap: square"/>
</g>
<g id="patch_6">
<path d="M 162.36 104.04 L 1166.76 104.04 
" style="fill: none; stroke: #000000; stroke-width: 0.8; stroke-linejoin: miter; stroke-linecap: square"/>
</g>
<g id="text_13">
<text style="font-size: 12px; font-family: 'DejaVu Sans', 'Liberation Sans', sans-serif; letter-spacing: -0.5px" transform="translate(378.083428 537.262492) rotate(-85)">n=1</text>
</g>
<g id="text_14">
<text style="font-size: 12px; font-family: 'DejaVu Sans', 'Liberation Sans', sans-serif; letter-spacing: -0.5px" transform="translate(405.947428 518.038492) rotate(-85)">n=2</text>
</g>
<g id="text_15">
<text style="font-size: 12px; font-family: 'DejaVu Sans', 'Liberation Sans', sans-serif; letter-spacing: -0.5px" transform="translate(433.307428 498.598492) rotate(-85)">n=3</text>
</g>
<g id="text_16">
<text style="font-size: 12px; font-family: 'DejaVu Sans', 'Liberation Sans', sans-serif; letter-spacing: -0.5px" transform="translate(460.523428 480.598492) rotate(-85)">n=4</text>
</g>
<g id="text_17">
<text style="font-size: 12px; font-family: 'DejaVu Sans', 'Liberation Sans', sans-serif; letter-spacing: -0.5px" transform="translate(487.307428 465.262492) rotate(-85)">n=5</text>
</g>
<g id="text_18">
<text style="font-size: 12px; font-family: 'DejaVu Sans', 'Liberation Sans', sans-serif; letter-spacing: -0.5px" transform="translate(514.019428 452.086492) rotate(-85)">n=6</text>
</g>
<g id="text_19">
<text style="font-size: 12px; font-family: 'DejaVu Sans', 'Liberation Sans', sans-serif; letter-spacing: -0.5px" transform="translate(540.083428 437.686492) rotate(-85)">n=7</text>
</g>
<g id="text_20">
<text style="font-size: 12px; font-family: 'DejaVu Sans', 'Liberation Sans', sans-serif; letter-spacing: -0.5px" transform="translate(565.859428 423.646492) rotate(-85)">n=8</text>
</g>
<g id="text_21">
<text style="font-size: 12px; font-family: 'DejaVu Sans', 'Liberation Sans', sans-serif; letter-spacing: -0.5px" transform="translate(591.707428 409.822492) rotate(-85)">n=9</text>
</g>
<g id="text_22">
<text style="font-size: 12px; font-family: 'DejaVu Sans', 'Liberation Sans', sans-serif; letter-spacing: -0.5px" transform="translate(616.907428 399.022492) rotate(-85)">n=10</text>
</g>
<g id="text_23">
<text style="font-size: 12px; font-family: 'DejaVu Sans', 'Liberation Sans', sans-serif; letter-spacing: -0.5px" transform="translate(641.459428 386.998492) rotate(-85)">n=11</text>
</g>
<g id="text_24">
<text style="font-size: 12px; font-family: 'DejaVu Sans', 'Liberation Sans', sans-serif; letter-spacing: -0.5px" transform="translate(689.483428 366.622492) rotate(-85)">n=12</text>
</g>
<g id="text_25">
<text style="font-size: 12px; font-family: 'DejaVu Sans', 'Liberation Sans', sans-serif; letter-spacing: -0.5px" transform="translate(712.667428 355.246492) rotate(-85)">n=13</text>
</g>
<g id="text_26">
<text style="font-size: 12px; font-family: 'DejaVu Sans', 'Liberation Sans', sans-serif; letter-spacing: -0.5px" transform="translate(735.923428 345.886492) rotate(-85)">n=14</text>
</g>
<g id="text_27">
<text style="font-size: 12px; font-family: 'DejaVu Sans', 'Liberation Sans', sans-serif; letter-spacing: -0.5px" transform="translate(758.819428 337.606492) rotate(-85)">n=15</text>
</g>
<g id="text_28">
<text style="font-size: 12px; font-family: 'DejaVu Sans', 'Liberation Sans', sans-serif; letter-spacing: -0.5px" transform="translate(781.067428 326.806492) rotate(-85)">n=16</text>
</g>
<g id="text_29">
<text style="font-size: 12px; font-family: 'DejaVu Sans', 'Liberation Sans', sans-serif; letter-spacing: -0.5px" transform="translate(802.883428 317.158492) rotate(-85)">n=17</text>
</g>
<g id="text_30">
<text style="font-size: 12px; font-family: 'DejaVu Sans', 'Liberation Sans', sans-serif; letter-spacing: -0.5px" transform="translate(824.483428 310.246492) rotate(-85)">n=18</text>
</g>
<g id="text_31">
<text style="font-size: 12px; font-family: 'DejaVu Sans', 'Liberation Sans', sans-serif; letter-spacing: -0.5px" transform="translate(846.083428 301.606492) rotate(-85)">n=19</text>
</g>
<g id="text_32">
<text style="font-size: 12px; font-family: 'DejaVu Sans', 'Liberation Sans', sans-serif; letter-spacing: -0.5px" transform="translate(866.819428 290.446492) rotate(-85)">n=20</text>
</g>
<g id="text_33">
<text style="font-size: 12px; font-family: 'DejaVu Sans', 'Liberation Sans', sans-serif; letter-spacing: -0.5px" transform="translate(887.843428 280.438492) rotate(-85)">n=21</text>
</g>
<g id="text_34">
<text style="font-size: 12px; font-family: 'DejaVu Sans', 'Liberation Sans', sans-serif; letter-spacing: -0.5px" transform="translate(908.507428 273.238492) rotate(-85)">n=22</text>
</g>
<g id="text_35">
<text style="font-size: 12px; font-family: 'DejaVu Sans', 'Liberation Sans', sans-serif; letter-spacing: -0.5px" transform="translate(928.667428 265.246492) rotate(-85)">n=23</text>
</g>
<g id="text_36">
<text style="font-size: 12px; font-family: 'DejaVu Sans', 'Liberation Sans', sans-serif; letter-spacing: -0.5px" transform="translate(948.323428 256.822492) rotate(-85)">n=24</text>
</g>
<g id="text_37">
<text style="font-size: 12px; font-family: 'DejaVu Sans', 'Liberation Sans', sans-serif; letter-spacing: -0.5px" transform="translate(968.123428 247.822492) rotate(-85)">n=25</text>
</g>
<g id="text_38">
<text style="font-size: 12px; font-family: 'DejaVu Sans', 'Liberation Sans', sans-serif; letter-spacing: -0.5px" transform="translate(987.419428 239.398492) rotate(-85)">n=26</text>
</g>
<g id="text_39">
<text style="font-size: 12px; font-family: 'DejaVu Sans', 'Liberation Sans', sans-serif; letter-spacing: -0.5px" transform="translate(1006.643428 229.246492) rotate(-85)">n=27</text>
</g>
<g id="text_40">
<text style="font-size: 12px; font-family: 'DejaVu Sans', 'Liberation Sans', sans-serif; letter-spacing: -0.5px" transform="translate(1044.083428 211.102492) rotate(-85)">n=28</text>
</g>
<g id="text_41">
<text style="font-size: 12px; font-family: 'DejaVu Sans', 'Liberation Sans', sans-serif; letter-spacing: -0.5px" transform="translate(1062.659428 203.902492) rotate(-85)">n=29</text>
</g>
<g id="text_42">
<text style="font-size: 12px; font-family: 'DejaVu Sans', 'Liberation Sans', sans-serif; letter-spacing: -0.5px" transform="translate(1080.947428 195.982492) rotate(-85)">n=30</text>
</g>
<g id="text_43">
<text style="font-size: 12px; font-family: 'DejaVu Sans', 'Liberation Sans', sans-serif; letter-spacing: -0.5px" transform="translate(1098.659428 185.182492) rotate(-85)">n=31</text>
</g>
<g id="text_44">
<text style="font-size: 12px; font-family: 'DejaVu Sans', 'Liberation Sans', sans-serif; letter-spacing: -0.5px" transform="translate(1116.443428 177.982492) rotate(-85)">n=32</text>
</g>
<g id="legend_1">
<g id="patch_7">
<path d="M 172.86 243.339844 L 487.5975 243.339844 
Q 490.5975 243.339844 490.5975 240.339844 L 490.5975 114.54 
Q 490.5975 111.54 487.5975 111.54 L 172.86 111.54 
Q 169.86 111.54 169.86 114.54 L 169.86 240.339844 
Q 169.86 243.339844 172.86 243.339844 z
" style="fill: #ffffff; opacity: 0.8; stroke: #cccccc; stroke-linejoin: miter"/>
</g>
<g id="line2d_53">
<path d="M 175.86 123.687656 L 190.86 123.687656 L 205.86 123.687656 
" style="fill: none; stroke: #000000; stroke-width: 1.5; stroke-linecap: square"/>
<g>
<path d="M 0 1.125 C 0.298353 1.125 0.584527 1.006463 0.795495 0.795495 C 1.006463 0.584527 1.125 0.298353 1.125 0 C 1.125 -0.298353 1.006463 -0.584527 0.795495 -0.795495 C 0.584527 -1.006463 0.298353 -1.125 0 -1.125 C -0.298353 -1.125 -0.584527 -1.006463 -0.795495 -0.795495 C -1.006463 -0.584527 -1.125 -0.298353 -1.125 0 C -1.125 0.298353 -1.006463 0.584527 -0.795495 0.795495 C -0.584527 1.006463 -0.298353 1.125 0 1.125 z" transform="translate(190.86 123.687656)" style="stroke: #000000"/>
</g>
</g>
<g id="text_45">
<text style="font-size: 15px; font-family: 'DejaVu Sans', 'Liberation Sans', sans-serif; text-anchor: start" x="217.86" y="128.937656" transform="rotate(-0 217.86 128.937656)">m4.80_z0.0600</text>
</g>
<g id="line2d_54">
<path d="M 175.86 146.122031 L 190.86 146.122031 L 205.86 146.122031 
" style="fill: none; stroke: #0000ff; stroke-width: 3; stroke-linecap: square"/>
</g>
<g id="text_46">
<text style="font-size: 15px; font-family: 'DejaVu Sans', 'Liberation Sans', sans-serif; text-anchor: start" x="217.86" y="151.372031" transform="rotate(-0 217.86 151.372031)">peak detector horizontal bounds</text>
</g>
<g id="line2d_55">
<path d="M 175.86 168.139219 L 190.86 168.139219 L 205.86 168.139219 
" style="fill: none; stroke: #008000; stroke-width: 3; stroke-linecap: square"/>
</g>
<g id="text_47">
<text style="font-size: 15px; font-family: 'DejaVu Sans', 'Liberation Sans', sans-serif; text-anchor: start" x="217.86" y="173.389219" transform="rotate(-0 217.86 173.389219)">min. P consistent with observations</text>
</g>
<g id="line2d_56">
<path d="M 175.86 190.156406 L 190.86 190.156406 L 205.86 190.156406 
" style="fill: none; stroke: #ffa500; stroke-width: 1.5; stroke-linecap: square"/>
</g>
<g id="text_48">
<text style="font-size: 15px; font-family: 'DejaVu Sans', 'Liberation Sans', sans-serif; text-anchor: start" x="217.86" y="195.406406" transform="rotate(-0 217.86 195.406406)">max. P must fall within this span</text>
</g>
<g id="PathCollection_2">
<g>
<path d="M 0 5 C 1.326016 5 2.597899 4.473168 3.535534 3.535534 C 4.473168 2.597899 5 1.326016 5 0 C 5 -1.326016 4.473168 -2.597899 3.535534 -3.535534 C 2.597899 -4.473168 1.326016 -5 0 -5 C -1.326016 -5 -2.597899 -4.473168 -3.535534 -3.535534 C -4.473168 -2.597899 -5 -1.326016 -5 0 C -5 1.326016 -4.473168 2.597899 -3.535534 3.535534 C -2.597899 4.473168 -1.326016 5 0 5 z" transform="translate(190.86 223.444219)" style="fill: #ffff00; fill-opacity: 0.2; stroke: #ffff00; stroke-opacity: 0.2"/>
</g>
</g>
<g id="text_49">
<text style="font-size: 15px; font-family: 'DejaVu Sans', 'Liberation Sans', sans-serif" transform="translate(217.86 217.423594)">intersection w/ P,L,T,R</text>
<text style="font-size: 15px; font-family: 'DejaVu Sans', 'Liberation Sans', sans-serif" transform="translate(217.86 234.220312)">loosely defined</text>
</g>
</g>
</g>
</g>
<defs>
<clipPath id="p3a280d8517">
<rect x="162.36" y="104.04" width="1004.4" height="665.28"/>
</clipPath>
</defs>
</svg>

</body></html>
